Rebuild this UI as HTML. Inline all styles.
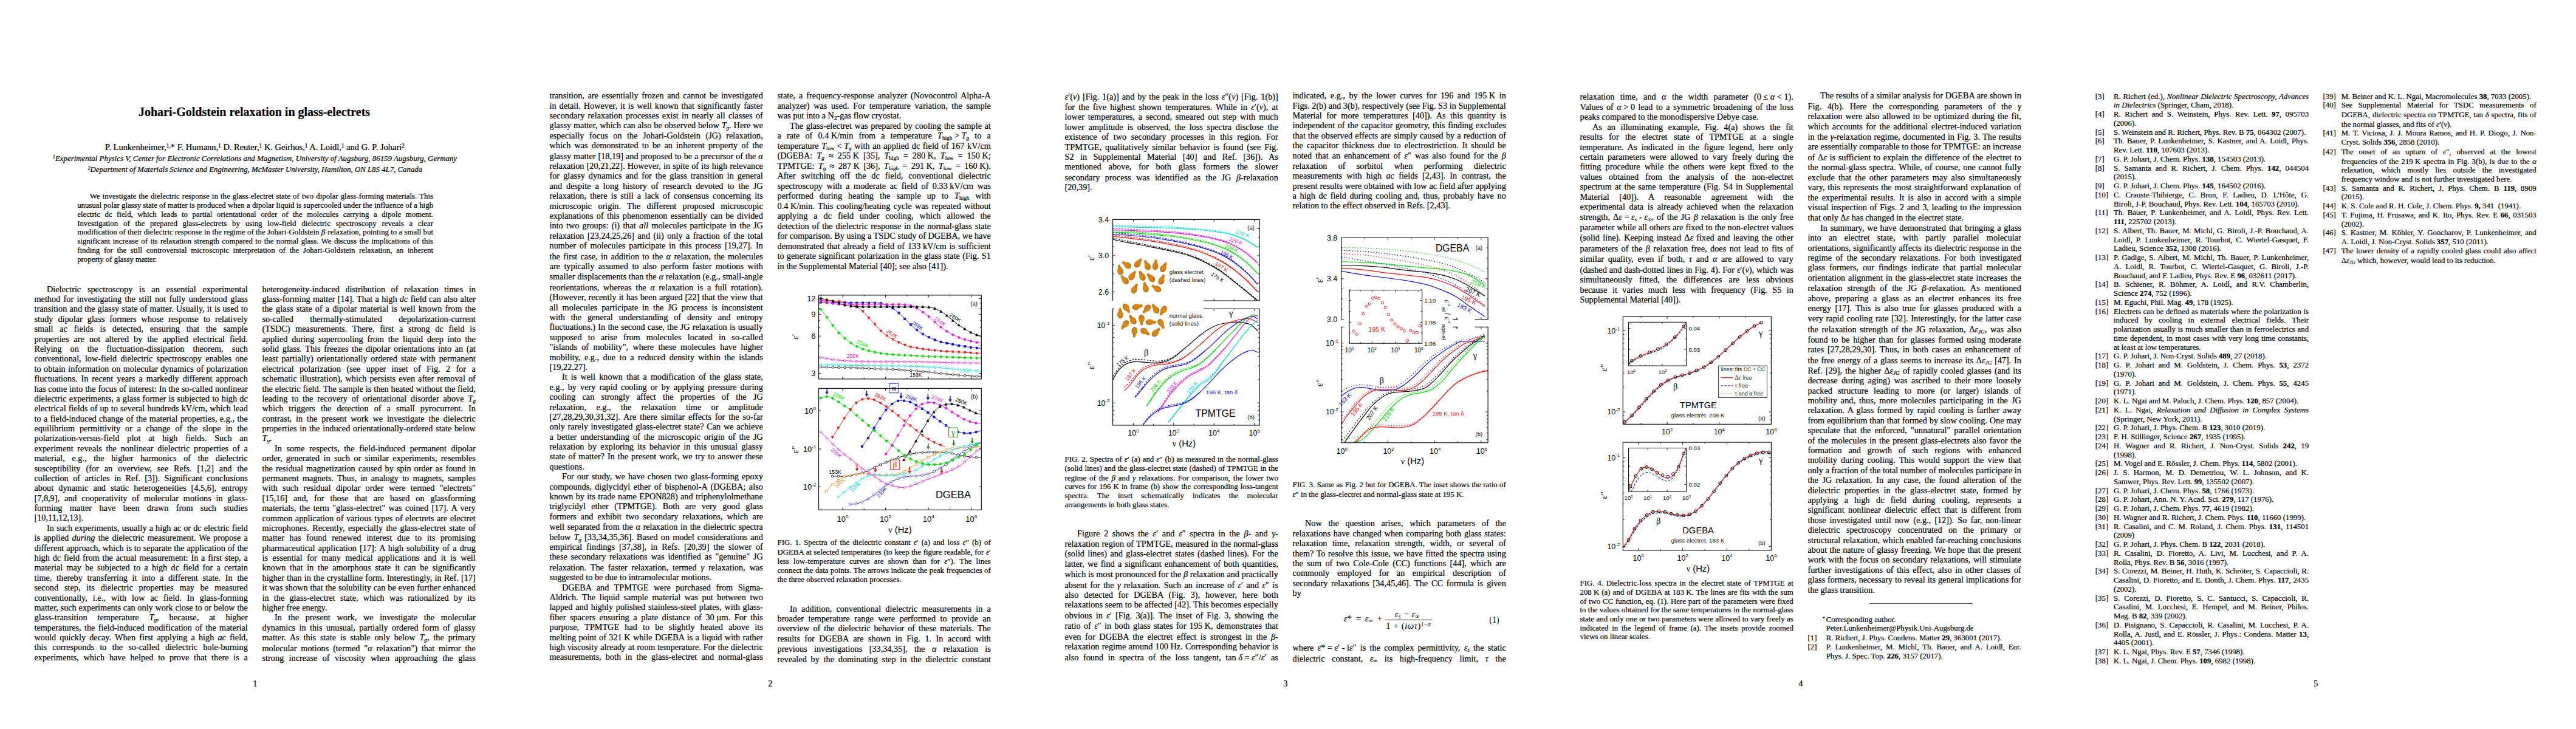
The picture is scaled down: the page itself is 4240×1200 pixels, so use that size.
<!DOCTYPE html>
<html lang="en"><head><meta charset="utf-8"><title>Johari-Goldstein relaxation in glass-electrets</title>
<style>
html,body{margin:0;padding:0;background:#fff;}
body{width:4240px;height:1200px;position:relative;overflow:hidden;font-family:"Liberation Serif",serif;color:#000;}
.l{position:absolute;white-space:pre;line-height:16px;height:16px;-webkit-text-stroke:0.2px #000;}
.c{transform:translateX(-50%);}
sub,sup{line-height:0;font-size:65%;}
sub{vertical-align:-0.22em;}
sup{vertical-align:0.42em;}
i sub{font-style:italic;}
.n{word-spacing:0;}
svg{position:absolute;left:0;top:0;}
svg text{font-family:"Liberation Sans",sans-serif;}
svg .s{font-family:"Liberation Serif",serif;}
.eq{position:absolute;white-space:pre;line-height:16px;height:16px;font-style:italic;}
</style></head>
<body>
<div class="l c" id="L0" style="left:418.50px;top:176.00px;font-size:20.02px;font-weight:bold;">Johari-Goldstein relaxation in glass-electrets</div>
<div class="l c" id="L1" style="left:419.45px;top:234.00px;font-size:14.45px;">P. Lunkenheimer,<sup>1,</sup>* F. Humann,<sup>1</sup> D. Reuter,<sup>1</sup> K. Geirhos,<sup>1</sup> A. Loidl,<sup>1</sup> and G. P. Johari<sup>2</sup></div>
<div class="l c" id="L2" style="left:419.40px;top:253.00px;font-size:12.90px;font-style:italic;"><sup>1</sup>Experimental Physics V, Center for Electronic Correlations and Magnetism, University of Augsburg, 86159 Augsburg, Germany</div>
<div class="l c" id="L3" style="left:419.80px;top:271.00px;font-size:12.83px;font-style:italic;"><sup>2</sup>Department of Materials Science and Engineering, McMaster University, Hamilton, ON L8S 4L7, Canada</div>
<div class="l" id="L4" style="left:147.70px;top:315.00px;font-size:12.83px;word-spacing:0.902px;">We investigate the dielectric response in the glass-electret state of two dipolar glass-forming materials. This</div>
<div class="l" id="L5" style="left:127.20px;top:330.00px;font-size:12.83px;word-spacing:0.063px;">unusual polar glassy state of matter is produced when a dipolar liquid is supercooled under the influence of a high</div>
<div class="l" id="L6" style="left:127.20px;top:345.00px;font-size:12.83px;word-spacing:4.312px;">electric dc field, which leads to partial orientational order of the molecules carrying a dipole moment.</div>
<div class="l" id="L7" style="left:127.20px;top:360.00px;font-size:12.83px;word-spacing:5.598px;">Investigation of the prepared glass-electrets by using low-field dielectric spectroscopy reveals a clear</div>
<div class="l" id="L8" style="left:127.20px;top:374.00px;font-size:12.83px;word-spacing:0.076px;">modification of their dielectric response in the regime of the Johari-Goldstein <i>β</i>-relaxation, pointing to a small but</div>
<div class="l" id="L9" style="left:127.20px;top:389.00px;font-size:12.83px;word-spacing:1.222px;">significant increase of its relaxation strength compared to the normal glass. We discuss the implications of this</div>
<div class="l" id="L10" style="left:127.20px;top:404.00px;font-size:12.83px;word-spacing:3.426px;">finding for the still controversial microscopic interpretation of the Johari-Goldstein relaxation, an inherent</div>
<div class="l" id="L11" style="left:127.20px;top:419.00px;font-size:12.83px;">property of glassy matter.</div>
<div class="l" id="L12" style="left:77.00px;top:468.00px;font-size:14.25px;word-spacing:7.201px;">Dielectric spectroscopy is an essential experimental</div>
<div class="l" id="L13" style="left:56.50px;top:484.00px;font-size:14.25px;word-spacing:1.760px;">method for investigating the still not fully understood glass</div>
<div class="l" id="L14" style="left:56.50px;top:500.00px;font-size:14.25px;word-spacing:0.539px;">transition and the glassy state of matter. Usually, it is used to</div>
<div class="l" id="L15" style="left:56.50px;top:517.00px;font-size:14.25px;word-spacing:4.447px;">study dipolar glass formers whose response to relatively</div>
<div class="l" id="L16" style="left:56.50px;top:533.00px;font-size:14.25px;word-spacing:7.358px;">small ac fields is detected, ensuring that the sample</div>
<div class="l" id="L17" style="left:56.50px;top:550.00px;font-size:14.25px;word-spacing:4.495px;">properties are not altered by the applied electrical field.</div>
<div class="l" id="L18" style="left:56.50px;top:566.00px;font-size:14.25px;word-spacing:10.419px;">Relying on the fluctuation-dissipation theorem, such</div>
<div class="l" id="L19" style="left:56.50px;top:582.00px;font-size:14.25px;word-spacing:2.676px;">conventional, low-field dielectric spectroscopy enables one</div>
<div class="l" id="L20" style="left:56.50px;top:599.00px;font-size:14.25px;word-spacing:0.945px;">to obtain information on molecular dynamics of polarization</div>
<div class="l" id="L21" style="left:56.50px;top:615.00px;font-size:14.25px;word-spacing:2.518px;">fluctuations. In recent years a markedly different approach</div>
<div class="l" id="L22" style="left:56.50px;top:632.00px;font-size:14.25px;word-spacing:0.307px;">has come into the focus of interest: In the so-called nonlinear</div>
<div class="l" id="L23" style="left:56.50px;top:648.00px;font-size:14.25px;word-spacing:0.693px;">dielectric experiments, a glass former is subjected to high dc</div>
<div class="l" id="L24" style="left:56.50px;top:664.00px;font-size:14.25px;word-spacing:0.518px;">electrical fields of up to several hundreds kV/cm, which lead</div>
<div class="l" id="L25" style="left:56.50px;top:681.00px;font-size:14.25px;word-spacing:0.828px;">to a field-induced change of the material properties, e.g., the</div>
<div class="l" id="L26" style="left:56.50px;top:697.00px;font-size:14.25px;word-spacing:4.341px;">equilibrium permittivity or a change of the slope in the</div>
<div class="l" id="L27" style="left:56.50px;top:713.00px;font-size:14.25px;word-spacing:9.149px;">polarization-versus-field plot at high fields. Such an</div>
<div class="l" id="L28" style="left:56.50px;top:730.00px;font-size:14.25px;word-spacing:3.215px;">experiment reveals the nonlinear dielectric properties of a</div>
<div class="l" id="L29" style="left:56.50px;top:746.00px;font-size:14.25px;word-spacing:8.074px;">material, e.g., the higher harmonics of the dielectric</div>
<div class="l" id="L30" style="left:56.50px;top:763.00px;font-size:14.25px;word-spacing:5.395px;">susceptibility (for an overview, see Refs. [1,2] and the</div>
<div class="l" id="L31" style="left:56.50px;top:779.00px;font-size:14.25px;word-spacing:3.884px;">collection of articles in Ref. [3]). Significant conclusions</div>
<div class="l" id="L32" style="left:56.50px;top:795.00px;font-size:14.25px;word-spacing:4.534px;">about dynamic and static heterogeneities [4,5,6], entropy</div>
<div class="l" id="L33" style="left:56.50px;top:812.00px;font-size:14.25px;word-spacing:4.279px;">[7,8,9], and cooperativity of molecular motions in glass-</div>
<div class="l" id="L34" style="left:56.50px;top:828.00px;font-size:14.25px;word-spacing:8.748px;">forming matter have been drawn from such studies</div>
<div class="l" id="L35" style="left:56.50px;top:844.00px;font-size:14.25px;">[10,11,12,13].</div>
<div class="l" id="L36" style="left:77.00px;top:861.00px;font-size:14.25px;word-spacing:0.514px;">In such experiments, usually a high ac or dc electric field</div>
<div class="l" id="L37" style="left:56.50px;top:877.00px;font-size:14.25px;word-spacing:1.696px;">is applied <i>during</i> the dielectric measurement. We propose a</div>
<div class="l" id="L38" style="left:56.50px;top:894.00px;font-size:14.25px;word-spacing:0.285px;">different approach, which is to separate the application of the</div>
<div class="l" id="L39" style="left:56.50px;top:910.00px;font-size:14.25px;word-spacing:1.287px;">high dc field from the actual measurement: In a first step, a</div>
<div class="l" id="L40" style="left:56.50px;top:926.00px;font-size:14.25px;word-spacing:2.692px;">material may be subjected to a high dc field for a certain</div>
<div class="l" id="L41" style="left:56.50px;top:943.00px;font-size:14.25px;word-spacing:4.108px;">time, thereby transferring it into a different state. In the</div>
<div class="l" id="L42" style="left:56.50px;top:959.00px;font-size:14.25px;word-spacing:6.320px;">second step, its dielectric properties may be measured</div>
<div class="l" id="L43" style="left:56.50px;top:976.00px;font-size:14.25px;word-spacing:5.429px;">conventionally, i.e., with low ac field. In glass-forming</div>
<div class="l" id="L44" style="left:56.50px;top:992.00px;font-size:14.25px;word-spacing:0.166px;">matter, such experiments can only work close to or below the</div>
<div class="l" id="L45" style="left:56.50px;top:1008.00px;font-size:14.25px;word-spacing:13.376px;">glass-transition temperature <i>T<sub>g</sub></i>, because, at higher</div>
<div class="l" id="L46" style="left:56.50px;top:1025.00px;font-size:14.25px;word-spacing:1.769px;">temperatures, the field-induced modification of the material</div>
<div class="l" id="L47" style="left:56.50px;top:1041.00px;font-size:14.25px;word-spacing:2.624px;">would quickly decay. When first applying a high <i>ac</i> field,</div>
<div class="l" id="L48" style="left:56.50px;top:1057.00px;font-size:14.25px;word-spacing:5.654px;">this corresponds to the so-called dielectric hole-burning</div>
<div class="l" id="L49" style="left:56.50px;top:1074.00px;font-size:14.25px;word-spacing:4.124px;">experiments, which have helped to prove that there is a</div>
<div class="l" id="L50" style="left:431.50px;top:468.00px;font-size:14.25px;word-spacing:5.913px;">heterogeneity-induced distribution of relaxation times in</div>
<div class="l" id="L51" style="left:431.50px;top:484.00px;font-size:14.25px;word-spacing:0.769px;">glass-forming matter [14]. That a high <i>dc</i> field can also alter</div>
<div class="l" id="L52" style="left:431.50px;top:500.00px;font-size:14.25px;word-spacing:1.537px;">the glass state of a dipolar material is well known from the</div>
<div class="l" id="L53" style="left:431.50px;top:517.00px;font-size:14.25px;word-spacing:23.705px;">so-called thermally-stimulated depolarization-current</div>
<div class="l" id="L54" style="left:431.50px;top:533.00px;font-size:14.25px;word-spacing:5.163px;">(TSDC) measurements. There, first a strong dc field is</div>
<div class="l" id="L55" style="left:431.50px;top:550.00px;font-size:14.25px;word-spacing:3.149px;">applied during supercooling from the liquid deep into the</div>
<div class="l" id="L56" style="left:431.50px;top:566.00px;font-size:14.25px;word-spacing:2.039px;">solid glass. This freezes the dipolar orientations into an (at</div>
<div class="l" id="L57" style="left:431.50px;top:582.00px;font-size:14.25px;word-spacing:2.230px;">least partially) orientationally ordered state with permanent</div>
<div class="l" id="L58" style="left:431.50px;top:599.00px;font-size:14.25px;word-spacing:5.795px;">electrical polarization (see upper inset of Fig. 2 for a</div>
<div class="l" id="L59" style="left:431.50px;top:615.00px;font-size:14.25px;word-spacing:1.456px;">schematic illustration), which persists even after removal of</div>
<div class="l" id="L60" style="left:431.50px;top:632.00px;font-size:14.25px;word-spacing:0.255px;">the electric field. The sample is then heated without the field,</div>
<div class="l" id="L61" style="left:431.50px;top:648.00px;font-size:14.25px;word-spacing:3.168px;">leading to the recovery of orientational disorder above <i>T<sub>g</sub></i></div>
<div class="l" id="L62" style="left:431.50px;top:664.00px;font-size:14.25px;word-spacing:5.479px;">which triggers the detection of a small pyrocurrent. In</div>
<div class="l" id="L63" style="left:431.50px;top:681.00px;font-size:14.25px;word-spacing:3.303px;">contrast, in the present work we investigate the dielectric</div>
<div class="l" id="L64" style="left:431.50px;top:697.00px;font-size:14.25px;word-spacing:1.172px;">properties in the induced orientationally-ordered state below</div>
<div class="l" id="L65" style="left:431.50px;top:713.00px;font-size:14.25px;"><i>T<sub>g</sub></i>.</div>
<div class="l" id="L66" style="left:452.00px;top:730.00px;font-size:14.25px;word-spacing:4.021px;">In some respects, the field-induced permanent dipolar</div>
<div class="l" id="L67" style="left:431.50px;top:746.00px;font-size:14.25px;word-spacing:2.726px;">order, generated in such or similar experiments, resembles</div>
<div class="l" id="L68" style="left:431.50px;top:763.00px;font-size:14.25px;word-spacing:1.440px;">the residual magnetization caused by spin order as found in</div>
<div class="l" id="L69" style="left:431.50px;top:779.00px;font-size:14.25px;word-spacing:2.733px;">permanent magnets. Thus, in analogy to magnets, samples</div>
<div class="l" id="L70" style="left:431.50px;top:795.00px;font-size:14.25px;word-spacing:4.717px;">with such residual dipolar order were termed "electrets"</div>
<div class="l" id="L71" style="left:431.50px;top:812.00px;font-size:14.25px;word-spacing:6.317px;">[15,16] and, for those that are based on glassforming</div>
<div class="l" id="L72" style="left:431.50px;top:828.00px;font-size:14.25px;word-spacing:1.899px;">materials, the term "glass-electret" was coined [17]. A very</div>
<div class="l" id="L73" style="left:431.50px;top:845.00px;font-size:14.25px;word-spacing:0.883px;">common application of various types of electrets are electret</div>
<div class="l" id="L74" style="left:431.50px;top:861.00px;font-size:14.25px;word-spacing:1.988px;">microphones. Recently, especially the glass-electret state of</div>
<div class="l" id="L75" style="left:431.50px;top:877.00px;font-size:14.25px;word-spacing:5.129px;">matter has found renewed interest due to its promising</div>
<div class="l" id="L76" style="left:431.50px;top:894.00px;font-size:14.25px;word-spacing:1.567px;">pharmaceutical application [17]: A high solubility of a drug</div>
<div class="l" id="L77" style="left:431.50px;top:910.00px;font-size:14.25px;word-spacing:3.988px;">is essential for many medical applications and it is well</div>
<div class="l" id="L78" style="left:431.50px;top:926.00px;font-size:14.25px;word-spacing:3.195px;">known that in the amorphous state it can be significantly</div>
<div class="l" id="L79" style="left:431.50px;top:943.00px;font-size:14.25px;word-spacing:0.618px;">higher than in the crystalline form. Interestingly, in Ref. [17]</div>
<div class="l" id="L80" style="left:431.50px;top:959.00px;font-size:14.25px;word-spacing:0.307px;">it was shown that the solubility can be even further enhanced</div>
<div class="l" id="L81" style="left:431.50px;top:976.00px;font-size:14.25px;word-spacing:4.688px;">in the glass-electret state, which was rationalized by its</div>
<div class="l" id="L82" style="left:431.50px;top:992.00px;font-size:14.25px;">higher free energy.</div>
<div class="l" id="L83" style="left:452.00px;top:1008.00px;font-size:14.25px;word-spacing:7.121px;">In the present work, we investigate the molecular</div>
<div class="l" id="L84" style="left:431.50px;top:1025.00px;font-size:14.25px;word-spacing:2.803px;">dynamics in this unusual, partially ordered form of glassy</div>
<div class="l" id="L85" style="left:431.50px;top:1041.00px;font-size:14.25px;word-spacing:3.319px;">matter. As this state is stable only below <i>T<sub>g</sub></i>, the primary</div>
<div class="l" id="L86" style="left:431.50px;top:1059.00px;font-size:14.25px;word-spacing:3.304px;">molecular motions (termed "<i>α</i> relaxation") that mirror the</div>
<div class="l" id="L87" style="left:431.50px;top:1075.00px;font-size:14.25px;word-spacing:4.902px;">strong increase of viscosity when approaching the glass</div>
<div class="l c" id="L88" style="left:419.70px;top:1117.00px;font-size:14.25px;">1</div>
<div class="l" id="L89" style="left:904.50px;top:149.00px;font-size:14.25px;word-spacing:2.023px;">transition, are essentially frozen and cannot be investigated</div>
<div class="l" id="L90" style="left:904.50px;top:166.00px;font-size:14.25px;word-spacing:1.414px;">in detail. However, it is well known that significantly faster</div>
<div class="l" id="L91" style="left:904.50px;top:182.00px;font-size:14.25px;word-spacing:1.770px;">secondary relaxation processes exist in nearly all classes of</div>
<div class="l" id="L92" style="left:904.50px;top:198.00px;font-size:14.25px;word-spacing:0.294px;">glassy matter, which can also be observed below <i>T<sub>g</sub></i>. Here we</div>
<div class="l" id="L93" style="left:904.50px;top:215.00px;font-size:14.25px;word-spacing:4.930px;">especially focus on the Johari-Goldstein (JG) relaxation,</div>
<div class="l" id="L94" style="left:904.50px;top:231.00px;font-size:14.25px;word-spacing:2.584px;">which was demonstrated to be an inherent property of the</div>
<div class="l" id="L95" style="left:904.50px;top:249.00px;font-size:14.25px;word-spacing:0.389px;">glassy matter [18,19] and proposed to be a precursor of the <i>α</i></div>
<div class="l" id="L96" style="left:904.50px;top:265.00px;font-size:14.25px;word-spacing:0.553px;">relaxation [20,21,22]. However, in spite of its high relevance</div>
<div class="l" id="L97" style="left:904.50px;top:281.00px;font-size:14.25px;word-spacing:2.493px;">for glassy dynamics and for the glass transition in general</div>
<div class="l" id="L98" style="left:904.50px;top:298.00px;font-size:14.25px;word-spacing:3.472px;">and despite a long history of research devoted to the JG</div>
<div class="l" id="L99" style="left:904.50px;top:314.00px;font-size:14.25px;word-spacing:2.539px;">relaxation, there is still a lack of consensus concerning its</div>
<div class="l" id="L100" style="left:904.50px;top:331.00px;font-size:14.25px;word-spacing:6.732px;">microscopic origin. The different proposed microscopic</div>
<div class="l" id="L101" style="left:904.50px;top:347.00px;font-size:14.25px;word-spacing:1.735px;">explanations of this phenomenon essentially can be divided</div>
<div class="l" id="L102" style="left:904.50px;top:363.00px;font-size:14.25px;word-spacing:1.727px;">into two groups: (i) that <i>all</i> molecules participate in the JG</div>
<div class="l" id="L103" style="left:904.50px;top:380.00px;font-size:14.25px;word-spacing:1.835px;">relaxation [23,24,25,26] and (ii) only a fraction of the total</div>
<div class="l" id="L104" style="left:904.50px;top:396.00px;font-size:14.25px;word-spacing:2.262px;">number of molecules participate in this process [19,27]. In</div>
<div class="l" id="L105" style="left:904.50px;top:414.00px;font-size:14.25px;word-spacing:1.774px;">the first case, in addition to the <i>α</i> relaxation, the molecules</div>
<div class="l" id="L106" style="left:904.50px;top:430.00px;font-size:14.25px;word-spacing:2.954px;">are typically assumed to also perform faster motions with</div>
<div class="l" id="L107" style="left:904.50px;top:447.00px;font-size:14.25px;word-spacing:0.273px;">smaller displacements than the <i>α</i> relaxation (e.g., small-angle</div>
<div class="l" id="L108" style="left:904.50px;top:465.00px;font-size:14.25px;word-spacing:3.010px;">reorientations, whereas the <i>α</i> relaxation is a full rotation).</div>
<div class="l" id="L109" style="left:904.50px;top:481.00px;font-size:14.25px;word-spacing:0.591px;">(However, recently it has been argued [22] that the view that</div>
<div class="l" id="L110" style="left:904.50px;top:498.00px;font-size:14.25px;word-spacing:3.250px;">all molecules participate in the JG process is inconsistent</div>
<div class="l" id="L111" style="left:904.50px;top:514.00px;font-size:14.25px;word-spacing:6.259px;">with the general understanding of density and entropy</div>
<div class="l" id="L112" style="left:904.50px;top:530.00px;font-size:14.25px;word-spacing:0.648px;">fluctuations.) In the second case, the JG relaxation is usually</div>
<div class="l" id="L113" style="left:904.50px;top:547.00px;font-size:14.25px;word-spacing:6.599px;">supposed to arise from molecules located in so-called</div>
<div class="l" id="L114" style="left:904.50px;top:563.00px;font-size:14.25px;word-spacing:3.748px;">"islands of mobility", where these molecules have higher</div>
<div class="l" id="L115" style="left:904.50px;top:580.00px;font-size:14.25px;word-spacing:2.945px;">mobility, e.g., due to a reduced density within the islands</div>
<div class="l" id="L116" style="left:904.50px;top:596.00px;font-size:14.25px;">[19,22,27].</div>
<div class="l" id="L117" style="left:925.00px;top:612.00px;font-size:14.25px;word-spacing:2.568px;">It is well known that a modification of the glass state,</div>
<div class="l" id="L118" style="left:904.50px;top:629.00px;font-size:14.25px;word-spacing:2.537px;">e.g., by very rapid cooling or by applying pressure during</div>
<div class="l" id="L119" style="left:904.50px;top:645.00px;font-size:14.25px;word-spacing:7.737px;">cooling can strongly affect the properties of the JG</div>
<div class="l" id="L120" style="left:904.50px;top:662.00px;font-size:14.25px;word-spacing:12.779px;">relaxation, e.g., the relaxation time or amplitude</div>
<div class="l" id="L121" style="left:904.50px;top:678.00px;font-size:14.25px;word-spacing:2.342px;">[27,28,29,30,31,32]. Are there similar effects for the so-far</div>
<div class="l" id="L122" style="left:904.50px;top:694.00px;font-size:14.25px;word-spacing:1.179px;">only rarely investigated glass-electret state? Can we achieve</div>
<div class="l" id="L123" style="left:904.50px;top:711.00px;font-size:14.25px;word-spacing:2.407px;">a better understanding of the microscopic origin of the JG</div>
<div class="l" id="L124" style="left:904.50px;top:727.00px;font-size:14.25px;word-spacing:2.752px;">relaxation by exploring its behavior in this unusual glassy</div>
<div class="l" id="L125" style="left:904.50px;top:743.00px;font-size:14.25px;word-spacing:1.360px;">state of matter? In the present work, we try to answer these</div>
<div class="l" id="L126" style="left:904.50px;top:760.00px;font-size:14.25px;">questions.</div>
<div class="l" id="L127" style="left:925.00px;top:776.00px;font-size:14.25px;word-spacing:1.444px;">For our study, we have chosen two glass-forming epoxy</div>
<div class="l" id="L128" style="left:904.50px;top:793.00px;font-size:14.25px;word-spacing:2.019px;">compounds, diglycidyl ether of bisphenol-A (DGEBA; also</div>
<div class="l" id="L129" style="left:904.50px;top:809.00px;font-size:14.25px;word-spacing:0.829px;">known by its trade name EPON828) and triphenylolmethane</div>
<div class="l" id="L130" style="left:904.50px;top:825.00px;font-size:14.25px;word-spacing:5.862px;">triglycidyl ether (TPMTGE). Both are very good glass</div>
<div class="l" id="L131" style="left:904.50px;top:842.00px;font-size:14.25px;word-spacing:3.492px;">formers and exhibit two secondary relaxations, which are</div>
<div class="l" id="L132" style="left:904.50px;top:859.00px;font-size:14.25px;word-spacing:1.052px;">well separated from the <i>α</i> relaxation in the dielectric spectra</div>
<div class="l" id="L133" style="left:904.50px;top:876.00px;font-size:14.25px;word-spacing:1.521px;">below <i>T<sub>g</sub></i> [33,34,35,36]. Based on model considerations and</div>
<div class="l" id="L134" style="left:904.50px;top:892.00px;font-size:14.25px;word-spacing:3.446px;">empirical findings [37,38], in Refs. [20,39] the slower of</div>
<div class="l" id="L135" style="left:904.50px;top:908.00px;font-size:14.25px;word-spacing:2.226px;">these secondary relaxations was identified as "genuine" JG</div>
<div class="l" id="L136" style="left:904.50px;top:926.00px;font-size:14.25px;word-spacing:3.407px;">relaxation. The faster relaxation, termed <i>γ</i> relaxation, was</div>
<div class="l" id="L137" style="left:904.50px;top:942.00px;font-size:14.25px;">suggested to be due to intramolecular motions.</div>
<div class="l" id="L138" style="left:925.00px;top:959.00px;font-size:14.25px;word-spacing:4.915px;">DGEBA and TPMTGE were purchased from Sigma-</div>
<div class="l" id="L139" style="left:904.50px;top:975.00px;font-size:14.25px;word-spacing:3.036px;">Aldrich. The liquid sample material was put between two</div>
<div class="l" id="L140" style="left:904.50px;top:991.00px;font-size:14.25px;word-spacing:1.224px;">lapped and highly polished stainless-steel plates, with glass-</div>
<div class="l" id="L141" style="left:904.50px;top:1008.00px;font-size:14.25px;word-spacing:3.075px;">fiber spacers ensuring a plate distance of 30<span class="n"> </span>µm. For this</div>
<div class="l" id="L142" style="left:904.50px;top:1024.00px;font-size:14.25px;word-spacing:5.604px;">purpose, TPMTGE had to be slightly heated above its</div>
<div class="l" id="L143" style="left:904.50px;top:1041.00px;font-size:14.25px;word-spacing:0.814px;">melting point of 321<span class="n"> </span>K while DGEBA is a liquid with rather</div>
<div class="l" id="L144" style="left:904.50px;top:1057.00px;font-size:14.25px;word-spacing:0.334px;">high viscosity already at room temperature. For the dielectric</div>
<div class="l" id="L145" style="left:904.50px;top:1073.00px;font-size:14.25px;word-spacing:3.610px;">measurements, both in the glass-electret and normal-glass</div>
<div class="l" id="L146" style="left:1279.50px;top:149.00px;font-size:14.25px;word-spacing:2.360px;">state, a frequency-response analyzer (Novocontrol Alpha-A</div>
<div class="l" id="L147" style="left:1279.50px;top:166.00px;font-size:14.25px;word-spacing:3.099px;">analyzer) was used. For temperature variation, the sample</div>
<div class="l" id="L148" style="left:1279.50px;top:182.00px;font-size:14.25px;">was put into a N<sub>2</sub>-gas flow cryostat.</div>
<div class="l" id="L149" style="left:1300.00px;top:199.00px;font-size:14.25px;word-spacing:0.991px;">The glass-electret was prepared by cooling the sample at</div>
<div class="l" id="L150" style="left:1279.50px;top:215.00px;font-size:14.25px;word-spacing:5.584px;">a rate of 0.4<span class="n"> </span>K/min from a temperature <i>T</i><sub>high</sub><span class="n"> </span>&gt;<span class="n"> </span><i>T<sub>g</sub></i> to a</div>
<div class="l" id="L151" style="left:1279.50px;top:232.00px;font-size:14.25px;word-spacing:1.035px;">temperature <i>T</i><sub>low</sub><span class="n"> </span>&lt;<span class="n"> </span><i>T<sub>g</sub></i> with an applied dc field of 167 kV/cm</div>
<div class="l" id="L152" style="left:1279.50px;top:248.00px;font-size:14.25px;word-spacing:3.466px;">(DGEBA: <i>T<sub>g</sub></i> ≈ 255<span class="n"> </span>K [35], <i>T</i><sub>high</sub> = 280<span class="n"> </span>K, <i>T</i><sub>low</sub> = 150<span class="n"> </span>K;</div>
<div class="l" id="L153" style="left:1279.50px;top:265.00px;font-size:14.25px;word-spacing:2.713px;">TPMTGE: <i>T<sub>g</sub></i> ≈ 287<span class="n"> </span>K [36], <i>T</i><sub>high</sub> = 291<span class="n"> </span>K, <i>T</i><sub>low</sub> = 160<span class="n"> </span>K).</div>
<div class="l" id="L154" style="left:1279.50px;top:281.00px;font-size:14.25px;word-spacing:5.340px;">After switching off the dc field, conventional dielectric</div>
<div class="l" id="L155" style="left:1279.50px;top:298.00px;font-size:14.25px;word-spacing:2.955px;">spectroscopy with a moderate ac field of 0.33<span class="n"> </span>kV/cm was</div>
<div class="l" id="L156" style="left:1279.50px;top:314.00px;font-size:14.25px;word-spacing:6.432px;">performed during heating the sample up to <i>T</i><sub>high</sub> with</div>
<div class="l" id="L157" style="left:1279.50px;top:331.00px;font-size:14.25px;word-spacing:1.803px;">0.4<span class="n"> </span>K/min. This cooling/heating cycle was repeated without</div>
<div class="l" id="L158" style="left:1279.50px;top:347.00px;font-size:14.25px;word-spacing:6.368px;">applying a dc field under cooling, which allowed the</div>
<div class="l" id="L159" style="left:1279.50px;top:364.00px;font-size:14.25px;word-spacing:1.276px;">detection of the dielectric response in the normal-glass state</div>
<div class="l" id="L160" style="left:1279.50px;top:380.00px;font-size:14.25px;word-spacing:0.010px;">for comparison. By using a TSDC study of DGEBA, we have</div>
<div class="l" id="L161" style="left:1279.50px;top:397.00px;font-size:14.25px;word-spacing:1.454px;">demonstrated that already a field of 133<span class="n"> </span>kV/cm is sufficient</div>
<div class="l" id="L162" style="left:1279.50px;top:413.00px;font-size:14.25px;word-spacing:0.690px;">to generate significant polarization in the glass state (Fig. S1</div>
<div class="l" id="L163" style="left:1279.50px;top:430.00px;font-size:14.25px;">in the Supplemental Material [40]; see also [41]).</div>
<div class="l" id="L164" style="left:1279.50px;top:885.00px;font-size:12.83px;word-spacing:1.858px;">FIG. 1. Spectra of the dielectric constant <i>ε</i>′ (a) and loss <i>ε</i>″ (b) of</div>
<div class="l" id="L165" style="left:1279.50px;top:901.00px;font-size:12.83px;word-spacing:0.469px;">DGEBA at selected temperatures (to keep the figure readable, for <i>ε</i>′</div>
<div class="l" id="L166" style="left:1279.50px;top:916.00px;font-size:12.83px;word-spacing:4.075px;">less low-temperature curves are shown than for <i>ε</i>″). The lines</div>
<div class="l" id="L167" style="left:1279.50px;top:931.00px;font-size:12.83px;word-spacing:0.282px;">connect the data points. The arrows indicate the peak frequencies of</div>
<div class="l" id="L168" style="left:1279.50px;top:946.00px;font-size:12.83px;">the three observed relaxation processes.</div>
<div class="l" id="L169" style="left:1300.00px;top:994.00px;font-size:14.25px;word-spacing:3.626px;">In addition, conventional dielectric measurements in a</div>
<div class="l" id="L170" style="left:1279.50px;top:1010.00px;font-size:14.25px;word-spacing:4.009px;">broader temperature range were performed to provide an</div>
<div class="l" id="L171" style="left:1279.50px;top:1026.00px;font-size:14.25px;word-spacing:2.350px;">overview of the dielectric behavior of these materials. The</div>
<div class="l" id="L172" style="left:1279.50px;top:1043.00px;font-size:14.25px;word-spacing:3.943px;">results for DGEBA are shown in Fig. 1. In accord with</div>
<div class="l" id="L173" style="left:1279.50px;top:1060.00px;font-size:14.25px;word-spacing:7.896px;">previous investigations [33,34,35], the <i>α</i> relaxation is</div>
<div class="l" id="L174" style="left:1279.50px;top:1077.00px;font-size:14.25px;word-spacing:3.252px;">revealed by the dominating step in the dielectric constant</div>
<div class="l c" id="L175" style="left:1267.70px;top:1117.00px;font-size:14.25px;">2</div>
<div class="l" id="L176" style="left:1752.50px;top:151.00px;font-size:14.25px;word-spacing:1.330px;"><i>ε</i>′(<i>ν</i>) [Fig. 1(a)] and by the peak in the loss <i>ε</i>″(<i>ν</i>) [Fig. 1(b)]</div>
<div class="l" id="L177" style="left:1752.50px;top:168.00px;font-size:14.25px;word-spacing:2.606px;">for the five highest shown temperatures. While in <i>ε</i>′(<i>ν</i>), at</div>
<div class="l" id="L178" style="left:1752.50px;top:184.00px;font-size:14.25px;word-spacing:2.264px;">lower temperatures, a second, smeared out step with much</div>
<div class="l" id="L179" style="left:1752.50px;top:201.00px;font-size:14.25px;word-spacing:3.200px;">lower amplitude is observed, the loss spectra disclose the</div>
<div class="l" id="L180" style="left:1752.50px;top:217.00px;font-size:14.25px;word-spacing:4.090px;">existence of two secondary processes in this region. For</div>
<div class="l" id="L181" style="left:1752.50px;top:234.00px;font-size:14.25px;word-spacing:2.409px;">TPMTGE, qualitatively similar behavior is found (see Fig.</div>
<div class="l" id="L182" style="left:1752.50px;top:250.00px;font-size:14.25px;word-spacing:6.809px;">S2 in Supplemental Material [40] and Ref. [36]). As</div>
<div class="l" id="L183" style="left:1752.50px;top:266.00px;font-size:14.25px;word-spacing:8.351px;">mentioned above, for both glass formers the slower</div>
<div class="l" id="L184" style="left:1752.50px;top:284.00px;font-size:14.25px;word-spacing:5.021px;">secondary process was identified as the JG <i>β</i>-relaxation</div>
<div class="l" id="L185" style="left:1752.50px;top:300.00px;font-size:14.25px;">[20,39].</div>
<div class="l" id="L186" style="left:1752.50px;top:748.00px;font-size:12.83px;word-spacing:0.708px;">FIG. 2. Spectra of <i>ε</i>′ (a) and <i>ε</i>″ (b) as measured in the normal-glass</div>
<div class="l" id="L187" style="left:1752.50px;top:763.00px;font-size:12.83px;word-spacing:0.455px;">(solid lines) and the glass-electret state (dashed) of TPMTGE in the</div>
<div class="l" id="L188" style="left:1752.50px;top:779.00px;font-size:12.83px;word-spacing:1.779px;">regime of the <i>β</i> and <i>γ</i> relaxations. For comparison, the lower two</div>
<div class="l" id="L189" style="left:1752.50px;top:793.00px;font-size:12.83px;word-spacing:0.930px;">curves for 196 K in frame (b) show the corresponding loss-tangent</div>
<div class="l" id="L190" style="left:1752.50px;top:808.00px;font-size:12.83px;word-spacing:10.917px;">spectra. The inset schematically indicates the molecular</div>
<div class="l" id="L191" style="left:1752.50px;top:823.00px;font-size:12.83px;">arrangements in both glass states.</div>
<div class="l" id="L192" style="left:1773.00px;top:870.00px;font-size:14.25px;word-spacing:3.177px;">Figure 2 shows the <i>ε</i>′ and <i>ε</i>″ spectra in the <i>β</i>- and <i>γ</i>-</div>
<div class="l" id="L193" style="left:1752.50px;top:887.00px;font-size:14.25px;word-spacing:0.585px;">relaxation region of TPMTGE, measured in the normal-glass</div>
<div class="l" id="L194" style="left:1752.50px;top:903.00px;font-size:14.25px;word-spacing:1.817px;">(solid lines) and glass-electret states (dashed lines). For the</div>
<div class="l" id="L195" style="left:1752.50px;top:920.00px;font-size:14.25px;word-spacing:1.643px;">latter, we find a significant enhancement of both quantities,</div>
<div class="l" id="L196" style="left:1752.50px;top:937.00px;font-size:14.25px;word-spacing:0.122px;">which is most pronounced for the <i>β</i> relaxation and practically</div>
<div class="l" id="L197" style="left:1752.50px;top:955.00px;font-size:14.25px;word-spacing:1.754px;">absent for the <i>γ</i> relaxation. Such an increase of <i>ε</i>′ and <i>ε</i>″ is</div>
<div class="l" id="L198" style="left:1752.50px;top:971.00px;font-size:14.25px;word-spacing:5.350px;">also detected for DGEBA (Fig. 3), however, here both</div>
<div class="l" id="L199" style="left:1752.50px;top:987.00px;font-size:14.25px;word-spacing:0.205px;">relaxations seem to be affected [42]. This becomes especially</div>
<div class="l" id="L200" style="left:1752.50px;top:1005.00px;font-size:14.25px;word-spacing:2.607px;">obvious in <i>ε</i>′ [Fig. 3(a)]. The inset of Fig. 3, showing the</div>
<div class="l" id="L201" style="left:1752.50px;top:1022.00px;font-size:14.25px;word-spacing:1.757px;">ratio of <i>ε</i>″ in both glass states for 195<span class="n"> </span>K, demonstrates that</div>
<div class="l" id="L202" style="left:1752.50px;top:1040.00px;font-size:14.25px;word-spacing:3.105px;">even for DGEBA the electret effect is strongest in the <i>β</i>-</div>
<div class="l" id="L203" style="left:1752.50px;top:1056.00px;font-size:14.25px;word-spacing:0.771px;">relaxation regime around 100<span class="n"> </span>Hz. Corresponding behavior is</div>
<div class="l" id="L204" style="left:1752.50px;top:1074.00px;font-size:14.25px;word-spacing:3.967px;">also found in spectra of the loss tangent, tan<span class="n"> </span><i>δ</i><span class="n"> </span>=<span class="n"> </span><i>ε</i>″/<i>ε</i>′ as</div>
<div class="l" id="L205" style="left:2127.50px;top:149.00px;font-size:14.25px;word-spacing:2.957px;">indicated, e.g., by the lower curves for 196 and 195<span class="n"> </span>K in</div>
<div class="l" id="L206" style="left:2127.50px;top:166.00px;font-size:14.25px;word-spacing:0.072px;">Figs. 2(b) and 3(b), respectively (see Fig. S3 in Supplemental</div>
<div class="l" id="L207" style="left:2127.50px;top:182.00px;font-size:14.25px;word-spacing:3.893px;">Material for more temperatures [40]). As this quantity is</div>
<div class="l" id="L208" style="left:2127.50px;top:198.00px;font-size:14.25px;word-spacing:1.023px;">independent of the capacitor geometry, this finding excludes</div>
<div class="l" id="L209" style="left:2127.50px;top:215.00px;font-size:14.25px;word-spacing:0.652px;">that the observed effects are simply caused by a reduction of</div>
<div class="l" id="L210" style="left:2127.50px;top:231.00px;font-size:14.25px;word-spacing:2.411px;">the capacitor thickness due to electrostriction. It should be</div>
<div class="l" id="L211" style="left:2127.50px;top:248.00px;font-size:14.25px;word-spacing:2.503px;">noted that an enhancement of <i>ε</i>″ was also found for the <i>β</i></div>
<div class="l" id="L212" style="left:2127.50px;top:265.00px;font-size:14.25px;word-spacing:14.623px;">relaxation of sorbitol when performing dielectric</div>
<div class="l" id="L213" style="left:2127.50px;top:281.00px;font-size:14.25px;word-spacing:3.694px;">measurements with high <i>ac</i> fields [2,43]. In contrast, the</div>
<div class="l" id="L214" style="left:2127.50px;top:298.00px;font-size:14.25px;word-spacing:0.297px;">present results were obtained with low ac field after applying</div>
<div class="l" id="L215" style="left:2127.50px;top:314.00px;font-size:14.25px;word-spacing:2.124px;">a high dc field during cooling and, thus, probably have no</div>
<div class="l" id="L216" style="left:2127.50px;top:330.00px;font-size:14.25px;">relation to the effect observed in Refs. [2,43].</div>
<div class="l" id="L217" style="left:2127.50px;top:790.00px;font-size:12.83px;word-spacing:0.168px;">FIG. 3. Same as Fig. 2 but for DGEBA. The inset shows the ratio of</div>
<div class="l" id="L218" style="left:2127.50px;top:806.00px;font-size:12.83px;"><i>ε</i>″ in the glass-electret and normal-glass state at 195<span class="n"> </span>K.</div>
<div class="l" id="L219" style="left:2148.00px;top:853.00px;font-size:14.25px;word-spacing:7.119px;">Now the question arises, which parameters of the</div>
<div class="l" id="L220" style="left:2127.50px;top:870.00px;font-size:14.25px;word-spacing:1.172px;">relaxations have changed when comparing both glass states:</div>
<div class="l" id="L221" style="left:2127.50px;top:886.00px;font-size:14.25px;word-spacing:4.849px;">relaxation time, relaxation strength, width, or several of</div>
<div class="l" id="L222" style="left:2127.50px;top:903.00px;font-size:14.25px;word-spacing:1.025px;">them? To resolve this issue, we have fitted the spectra using</div>
<div class="l" id="L223" style="left:2127.50px;top:919.00px;font-size:14.25px;word-spacing:2.799px;">the sum of two Cole-Cole (CC) functions [44], which are</div>
<div class="l" id="L224" style="left:2127.50px;top:935.00px;font-size:14.25px;word-spacing:8.951px;">commonly employed for an empirical description of</div>
<div class="l" id="L225" style="left:2127.50px;top:952.00px;font-size:14.25px;word-spacing:2.282px;">secondary relaxations [34,45,46]. The CC formula is given</div>
<div class="l" id="L226" style="left:2127.50px;top:968.00px;font-size:14.25px;">by</div>
<div class="l" id="L227" style="left:2127.50px;top:1058.00px;font-size:14.25px;word-spacing:2.661px;">where <i>ε</i>*<span class="n"> </span>=<span class="n"> </span><i>ε</i>′<span class="n"> </span>-<span class="n"> </span>i<i>ε</i>″ is the complex permittivity, <i>ε</i><sub><i>s</i></sub> the static</div>
<div class="l" id="L228" style="left:2127.50px;top:1076.00px;font-size:14.25px;word-spacing:8.076px;">dielectric constant, <i>ε</i><sub>∞</sub> its high-frequency limit, <i>τ</i> the</div>
<div class="l c" id="L229" style="left:2115.70px;top:1117.00px;font-size:14.25px;">3</div>
<div class="l" id="L230" style="left:2600.50px;top:151.00px;font-size:14.25px;word-spacing:5.813px;">relaxation time, and <i>α</i> the width parameter (0<span class="n"> </span>≤<span class="n"> </span><i>α</i><span class="n"> </span>&lt;<span class="n"> </span>1).</div>
<div class="l" id="L231" style="left:2600.50px;top:168.00px;font-size:14.25px;word-spacing:1.916px;">Values of <i>α</i><span class="n"> </span>&gt;<span class="n"> </span>0 lead to a symmetric broadening of the loss</div>
<div class="l" id="L232" style="left:2600.50px;top:184.00px;font-size:14.25px;">peaks compared to the monodispersive Debye case.</div>
<div class="l" id="L233" style="left:2621.00px;top:201.00px;font-size:14.25px;word-spacing:5.038px;">As an illuminating example, Fig. 4(a) shows the fit</div>
<div class="l" id="L234" style="left:2600.50px;top:217.00px;font-size:14.25px;word-spacing:6.745px;">results for the electret state of TPMTGE at a single</div>
<div class="l" id="L235" style="left:2600.50px;top:234.00px;font-size:14.25px;word-spacing:3.748px;">temperature. As indicated in the figure legend, here only</div>
<div class="l" id="L236" style="left:2600.50px;top:250.00px;font-size:14.25px;word-spacing:3.061px;">certain parameters were allowed to vary freely during the</div>
<div class="l" id="L237" style="left:2600.50px;top:266.00px;font-size:14.25px;word-spacing:3.728px;">fitting procedure while the others were kept fixed to the</div>
<div class="l" id="L238" style="left:2600.50px;top:283.00px;font-size:14.25px;word-spacing:7.507px;">values obtained from the analysis of the non-electret</div>
<div class="l" id="L239" style="left:2600.50px;top:299.00px;font-size:14.25px;word-spacing:1.717px;">spectrum at the same temperature (Fig. S4 in Supplemental</div>
<div class="l" id="L240" style="left:2600.50px;top:316.00px;font-size:14.25px;word-spacing:12.980px;">Material [40]). A reasonable agreement with the</div>
<div class="l" id="L241" style="left:2600.50px;top:332.00px;font-size:14.25px;word-spacing:2.989px;">experimental data is already achieved when the relaxation</div>
<div class="l" id="L242" style="left:2600.50px;top:349.00px;font-size:14.25px;word-spacing:1.572px;">strength, Δ<i>ε</i><span class="n"> </span>=<span class="n"> </span><i>ε</i><sub><i>s</i></sub><span class="n"> </span>-<span class="n"> </span><i>ε</i><sub>∞</sub>, of the JG <i>β</i> relaxation is the only free</div>
<div class="l" id="L243" style="left:2600.50px;top:366.00px;font-size:14.25px;word-spacing:0.214px;">parameter while all others are fixed to the non-electret values</div>
<div class="l" id="L244" style="left:2600.50px;top:383.00px;font-size:14.25px;word-spacing:1.686px;">(solid line). Keeping instead Δ<i>ε</i> fixed and leaving the other</div>
<div class="l" id="L245" style="left:2600.50px;top:401.00px;font-size:14.25px;word-spacing:1.936px;">parameters of the <i>β</i> relaxation free, does not lead to fits of</div>
<div class="l" id="L246" style="left:2600.50px;top:418.00px;font-size:14.25px;word-spacing:3.066px;">similar quality, even if both, <i>τ</i> and <i>α</i> are allowed to vary</div>
<div class="l" id="L247" style="left:2600.50px;top:436.00px;font-size:14.25px;word-spacing:0.336px;">(dashed and dash-dotted lines in Fig. 4). For <i>ε</i>′(<i>ν</i>), which was</div>
<div class="l" id="L248" style="left:2600.50px;top:452.00px;font-size:14.25px;word-spacing:7.610px;">simultaneously fitted, the differences are less obvious</div>
<div class="l" id="L249" style="left:2600.50px;top:469.00px;font-size:14.25px;word-spacing:4.823px;">because it varies much less with frequency (Fig. S5 in</div>
<div class="l" id="L250" style="left:2600.50px;top:485.00px;font-size:14.25px;">Supplemental Material [40]).</div>
<div class="l" id="L251" style="left:2600.50px;top:952.00px;font-size:12.83px;word-spacing:1.668px;">FIG. 4. Dielectric-loss spectra in the electret state of TPMTGE at</div>
<div class="l" id="L252" style="left:2600.50px;top:967.00px;font-size:12.83px;word-spacing:0.838px;">208<span class="n"> </span>K (a) and of DGEBA at 183<span class="n"> </span>K. The lines are fits with the sum</div>
<div class="l" id="L253" style="left:2600.50px;top:982.00px;font-size:12.83px;word-spacing:0.629px;">of two CC function, eq. (1). Here part of the parameters were fixed</div>
<div class="l" id="L254" style="left:2600.50px;top:996.00px;font-size:12.83px;word-spacing:0.149px;">to the values obtained for the same temperatures in the normal-glass</div>
<div class="l" id="L255" style="left:2600.50px;top:1011.00px;font-size:12.83px;word-spacing:0.364px;">state and only one or two parameters were allowed to vary freely as</div>
<div class="l" id="L256" style="left:2600.50px;top:1026.00px;font-size:12.83px;word-spacing:2.560px;">indicated in the legend of frame (a). The insets provide zoomed</div>
<div class="l" id="L257" style="left:2600.50px;top:1040.00px;font-size:12.83px;">views on linear scales.</div>
<div class="l" id="L258" style="left:2996.00px;top:149.00px;font-size:14.25px;word-spacing:0.152px;">The results of a similar analysis for DGEBA are shown in</div>
<div class="l" id="L259" style="left:2975.50px;top:167.00px;font-size:14.25px;word-spacing:6.112px;">Fig. 4(b). Here the corresponding parameters of the <i>γ</i></div>
<div class="l" id="L260" style="left:2975.50px;top:183.00px;font-size:14.25px;word-spacing:1.572px;">relaxation were also allowed to be optimized during the fit,</div>
<div class="l" id="L261" style="left:2975.50px;top:200.00px;font-size:14.25px;word-spacing:1.967px;">which accounts for the additional electret-induced variation</div>
<div class="l" id="L262" style="left:2975.50px;top:217.00px;font-size:14.25px;word-spacing:0.797px;">in the <i>γ</i>-relaxation regime, documented in Fig. 3. The results</div>
<div class="l" id="L263" style="left:2975.50px;top:233.00px;font-size:14.25px;word-spacing:0.022px;">are essentially comparable to those for TPMTGE: an increase</div>
<div class="l" id="L264" style="left:2975.50px;top:251.00px;font-size:14.25px;word-spacing:1.105px;">of Δ<i>ε</i> is sufficient to explain the difference of the electret to</div>
<div class="l" id="L265" style="left:2975.50px;top:267.00px;font-size:14.25px;word-spacing:1.455px;">the normal-glass spectra. While, of course, one cannot fully</div>
<div class="l" id="L266" style="left:2975.50px;top:284.00px;font-size:14.25px;word-spacing:2.529px;">exclude that the other parameters may also simultaneously</div>
<div class="l" id="L267" style="left:2975.50px;top:300.00px;font-size:14.25px;word-spacing:1.246px;">vary, this represents the most straightforward explanation of</div>
<div class="l" id="L268" style="left:2975.50px;top:317.00px;font-size:14.25px;word-spacing:2.324px;">the experimental results. It is also in accord with a simple</div>
<div class="l" id="L269" style="left:2975.50px;top:333.00px;font-size:14.25px;word-spacing:1.171px;">visual inspection of Figs. 2 and 3, leading to the impression</div>
<div class="l" id="L270" style="left:2975.50px;top:350.00px;font-size:14.25px;">that only Δ<i>ε</i> has changed in the electret state.</div>
<div class="l" id="L271" style="left:2996.00px;top:367.00px;font-size:14.25px;word-spacing:1.248px;">In summary, we have demonstrated that bringing a glass</div>
<div class="l" id="L272" style="left:2975.50px;top:383.00px;font-size:14.25px;word-spacing:8.697px;">into an electret state, with partly parallel molecular</div>
<div class="l" id="L273" style="left:2975.50px;top:400.00px;font-size:14.25px;word-spacing:0.248px;">orientations, significantly affects its dielectric response in the</div>
<div class="l" id="L274" style="left:2975.50px;top:416.00px;font-size:14.25px;word-spacing:2.811px;">regime of the secondary relaxations. For both investigated</div>
<div class="l" id="L275" style="left:2975.50px;top:432.00px;font-size:14.25px;word-spacing:3.492px;">glass formers, our findings indicate that partial molecular</div>
<div class="l" id="L276" style="left:2975.50px;top:449.00px;font-size:14.25px;word-spacing:1.177px;">orientation alignment in the glass-electret state increases the</div>
<div class="l" id="L277" style="left:2975.50px;top:466.00px;font-size:14.25px;word-spacing:4.396px;">relaxation strength of the JG <i>β</i>-relaxation. As mentioned</div>
<div class="l" id="L278" style="left:2975.50px;top:483.00px;font-size:14.25px;word-spacing:4.129px;">above, preparing a glass as an electret enhances its free</div>
<div class="l" id="L279" style="left:2975.50px;top:499.00px;font-size:14.25px;word-spacing:2.850px;">energy [17]. This is also true for glasses produced with a</div>
<div class="l" id="L280" style="left:2975.50px;top:516.00px;font-size:14.25px;word-spacing:1.195px;">very rapid cooling rate [32]. Interestingly, for the latter case</div>
<div class="l" id="L281" style="left:2975.50px;top:534.00px;font-size:14.25px;word-spacing:2.113px;">the relaxation strength of the JG relaxation, Δ<i>ε<sub>JG</sub></i>, was also</div>
<div class="l" id="L282" style="left:2975.50px;top:551.00px;font-size:14.25px;word-spacing:2.054px;">found to be higher than for glasses formed using moderate</div>
<div class="l" id="L283" style="left:2975.50px;top:567.00px;font-size:14.25px;word-spacing:2.047px;">rates [27,28,29,30]. Thus, in both cases an enhancement of</div>
<div class="l" id="L284" style="left:2975.50px;top:585.00px;font-size:14.25px;word-spacing:1.081px;">the free energy of a glass seems to increase its Δ<i>ε<sub>JG</sub></i> [47]. In</div>
<div class="l" id="L285" style="left:2975.50px;top:602.00px;font-size:14.25px;word-spacing:1.546px;">Ref. [29], the higher Δ<i>ε<sub>JG</sub></i> of rapidly cooled glasses (and its</div>
<div class="l" id="L286" style="left:2975.50px;top:618.00px;font-size:14.25px;word-spacing:2.858px;">decrease during aging) was ascribed to their more loosely</div>
<div class="l" id="L287" style="left:2975.50px;top:635.00px;font-size:14.25px;word-spacing:5.563px;">packed structure leading to more (or larger) islands of</div>
<div class="l" id="L288" style="left:2975.50px;top:651.00px;font-size:14.25px;word-spacing:2.455px;">mobility and, thus, more molecules participating in the JG</div>
<div class="l" id="L289" style="left:2975.50px;top:667.00px;font-size:14.25px;word-spacing:1.835px;">relaxation. A glass formed by rapid cooling is farther away</div>
<div class="l" id="L290" style="left:2975.50px;top:684.00px;font-size:14.25px;word-spacing:0.249px;">from equilibrium than that formed by slow cooling. One may</div>
<div class="l" id="L291" style="left:2975.50px;top:700.00px;font-size:14.25px;word-spacing:2.472px;">speculate that the enforced, "unnatural" parallel orientation</div>
<div class="l" id="L292" style="left:2975.50px;top:717.00px;font-size:14.25px;word-spacing:1.266px;">of the molecules in the present glass-electrets also favor the</div>
<div class="l" id="L293" style="left:2975.50px;top:733.00px;font-size:14.25px;word-spacing:7.163px;">formation and growth of such regions with enhanced</div>
<div class="l" id="L294" style="left:2975.50px;top:749.00px;font-size:14.25px;word-spacing:2.633px;">mobility during cooling. This would support the view that</div>
<div class="l" id="L295" style="left:2975.50px;top:766.00px;font-size:14.25px;word-spacing:0.071px;">only a fraction of the total number of molecules participate in</div>
<div class="l" id="L296" style="left:2975.50px;top:782.00px;font-size:14.25px;word-spacing:2.761px;">the JG relaxation. In any case, the found alteration of the</div>
<div class="l" id="L297" style="left:2975.50px;top:799.00px;font-size:14.25px;word-spacing:3.947px;">dielectric properties in the glass-electret state, formed by</div>
<div class="l" id="L298" style="left:2975.50px;top:815.00px;font-size:14.25px;word-spacing:6.762px;">applying a high dc field during cooling, represents a</div>
<div class="l" id="L299" style="left:2975.50px;top:831.00px;font-size:14.25px;word-spacing:2.835px;">significant nonlinear dielectric effect that is different from</div>
<div class="l" id="L300" style="left:2975.50px;top:848.00px;font-size:14.25px;word-spacing:2.481px;">those investigated until now (e.g., [12]). So far, non-linear</div>
<div class="l" id="L301" style="left:2975.50px;top:864.00px;font-size:14.25px;word-spacing:6.849px;">dielectric spectroscopy concentrated on the primary or</div>
<div class="l" id="L302" style="left:2975.50px;top:881.00px;font-size:14.25px;word-spacing:0.676px;">structural relaxation, which enabled far-reaching conclusions</div>
<div class="l" id="L303" style="left:2975.50px;top:897.00px;font-size:14.25px;word-spacing:0.725px;">about the nature of glassy freezing. We hope that the present</div>
<div class="l" id="L304" style="left:2975.50px;top:913.00px;font-size:14.25px;word-spacing:0.924px;">work with the focus on secondary relaxations, will stimulate</div>
<div class="l" id="L305" style="left:2975.50px;top:930.00px;font-size:14.25px;word-spacing:2.039px;">further investigations of this effect, also in other classes of</div>
<div class="l" id="L306" style="left:2975.50px;top:946.00px;font-size:14.25px;word-spacing:0.334px;">glass formers, necessary to reveal its general implications for</div>
<div class="l" id="L307" style="left:2975.50px;top:963.00px;font-size:14.25px;">the glass transition.</div>
<div class="l" id="L308" style="left:2999.70px;top:1012.00px;font-size:12.83px;"><sup>*</sup></div>
<div class="l" id="L309" style="left:3005.70px;top:1012.00px;font-size:12.83px;">Corresponding author.</div>
<div class="l" id="L310" style="left:3005.70px;top:1026.00px;font-size:12.83px;">Peter.Lunkenheimer@Physik.Uni-Augsburg.de</div>
<div class="l" id="L311" style="left:2975.50px;top:1042.00px;font-size:12.83px;">[1]</div>
<div class="l" id="L312" style="left:3005.70px;top:1042.00px;font-size:12.83px;">R. Richert, J. Phys. Condens. Matter <b>29</b>, 363001 (2017).</div>
<div class="l" id="L313" style="left:2975.50px;top:1057.00px;font-size:12.83px;">[2]</div>
<div class="l" id="L314" style="left:3005.70px;top:1057.00px;font-size:12.83px;word-spacing:2.723px;">P. Lunkenheimer, M. Michl, Th. Bauer, and A. Loidl, Eur.</div>
<div class="l" id="L315" style="left:3005.70px;top:1072.00px;font-size:12.83px;">Phys. J. Spec. Top. <b>226</b>, 3157 (2017).</div>
<div class="l c" id="L316" style="left:2963.70px;top:1117.00px;font-size:14.25px;">4</div>
<div class="l" id="L317" style="left:3448.80px;top:151.00px;font-size:12.83px;">[3]</div>
<div class="l" id="L318" style="left:3479.00px;top:151.00px;font-size:12.83px;word-spacing:0.433px;">R. Richert (ed.), <i>Nonlinear Dielectric Spectroscopy, Advances</i></div>
<div class="l" id="L319" style="left:3479.00px;top:165.00px;font-size:12.83px;"><i>in Dielectrics</i> (Springer, Cham, 2018).</div>
<div class="l" id="L320" style="left:3448.80px;top:180.00px;font-size:12.83px;">[4]</div>
<div class="l" id="L321" style="left:3479.00px;top:180.00px;font-size:12.83px;word-spacing:3.367px;">R. Richert and S. Weinstein, Phys. Rev. Lett. <b>97</b>, 095703</div>
<div class="l" id="L322" style="left:3479.00px;top:195.00px;font-size:12.83px;">(2006).</div>
<div class="l" id="L323" style="left:3448.80px;top:210.00px;font-size:12.83px;">[5]</div>
<div class="l" id="L324" style="left:3479.00px;top:210.00px;font-size:12.83px;">S. Weinstein and R. Richert, Phys. Rev. B <b>75</b>, 064302 (2007).</div>
<div class="l" id="L325" style="left:3448.80px;top:224.00px;font-size:12.83px;">[6]</div>
<div class="l" id="L326" style="left:3479.00px;top:224.00px;font-size:12.83px;word-spacing:1.407px;">Th. Bauer, P. Lunkenheimer, S. Kastner, and A. Loidl, Phys.</div>
<div class="l" id="L327" style="left:3479.00px;top:239.00px;font-size:12.83px;">Rev. Lett. <b>110</b>, 107603 (2013).</div>
<div class="l" id="L328" style="left:3448.80px;top:254.00px;font-size:12.83px;">[7]</div>
<div class="l" id="L329" style="left:3479.00px;top:254.00px;font-size:12.83px;">G. P. Johari, J. Chem. Phys. <b>138</b>, 154503 (2013).</div>
<div class="l" id="L330" style="left:3448.80px;top:269.00px;font-size:12.83px;">[8]</div>
<div class="l" id="L331" style="left:3479.00px;top:269.00px;font-size:12.83px;word-spacing:3.923px;">S. Samanta and R. Richert, J. Chem. Phys. <b>142</b>, 044504</div>
<div class="l" id="L332" style="left:3479.00px;top:283.00px;font-size:12.83px;">(2015).</div>
<div class="l" id="L333" style="left:3448.80px;top:298.00px;font-size:12.83px;">[9]</div>
<div class="l" id="L334" style="left:3479.00px;top:298.00px;font-size:12.83px;">G. P. Johari, J. Chem. Phys. <b>145</b>, 164502 (2016).</div>
<div class="l" id="L335" style="left:3448.80px;top:313.00px;font-size:12.83px;">[10]</div>
<div class="l" id="L336" style="left:3479.00px;top:313.00px;font-size:12.83px;word-spacing:4.423px;">C. Crauste-Thibierge, C. Brun, F. Ladieu, D. L'Hôte, G.</div>
<div class="l" id="L337" style="left:3479.00px;top:328.00px;font-size:12.83px;">Biroli, J-P. Bouchaud, Phys. Rev. Lett. <b>104</b>, 165703 (2010).</div>
<div class="l" id="L338" style="left:3448.80px;top:342.00px;font-size:12.83px;">[11]</div>
<div class="l" id="L339" style="left:3479.00px;top:342.00px;font-size:12.83px;word-spacing:2.075px;">Th. Bauer, P. Lunkenheimer, and A. Loidl, Phys. Rev. Lett.</div>
<div class="l" id="L340" style="left:3479.00px;top:357.00px;font-size:12.83px;"><b>111</b>, 225702 (2013).</div>
<div class="l" id="L341" style="left:3448.80px;top:372.00px;font-size:12.83px;">[12]</div>
<div class="l" id="L342" style="left:3479.00px;top:372.00px;font-size:12.83px;word-spacing:1.041px;">S. Albert, Th. Bauer, M. Michl, G. Biroli, J.-P. Bouchaud, A.</div>
<div class="l" id="L343" style="left:3479.00px;top:387.00px;font-size:12.83px;word-spacing:2.537px;">Loidl, P. Lunkenheimer, R. Tourbot, C. Wiertel-Gasquet, F.</div>
<div class="l" id="L344" style="left:3479.00px;top:401.00px;font-size:12.83px;">Ladieu, Science <b>352</b>, 1308 (2016).</div>
<div class="l" id="L345" style="left:3448.80px;top:416.00px;font-size:12.83px;">[13]</div>
<div class="l" id="L346" style="left:3479.00px;top:416.00px;font-size:12.83px;word-spacing:1.336px;">P. Gadige, S. Albert, M. Michl, Th. Bauer, P. Lunkenheimer,</div>
<div class="l" id="L347" style="left:3479.00px;top:431.00px;font-size:12.83px;word-spacing:3.850px;">A. Loidl, R. Tourbot, C. Wiertel-Gasquet, G. Biroli, J.-P.</div>
<div class="l" id="L348" style="left:3479.00px;top:446.00px;font-size:12.83px;">Bouchaud, and F. Ladieu, Phys. Rev. E <b>96</b>, 032611 (2017).</div>
<div class="l" id="L349" style="left:3448.80px;top:460.00px;font-size:12.83px;">[14]</div>
<div class="l" id="L350" style="left:3479.00px;top:460.00px;font-size:12.83px;word-spacing:4.085px;">B. Schiener, R. Böhmer, A. Loidl, and R.V. Chamberlin,</div>
<div class="l" id="L351" style="left:3479.00px;top:475.00px;font-size:12.83px;">Science <b>274</b>, 752 (1996).</div>
<div class="l" id="L352" style="left:3448.80px;top:490.00px;font-size:12.83px;">[15]</div>
<div class="l" id="L353" style="left:3479.00px;top:490.00px;font-size:12.83px;">M. Eguchi, Phil. Mag. <b>49</b>, 178 (1925).</div>
<div class="l" id="L354" style="left:3448.80px;top:505.00px;font-size:12.83px;">[16]</div>
<div class="l" id="L355" style="left:3479.00px;top:505.00px;font-size:12.83px;word-spacing:0.494px;">Electrets can be defined as materials where the polarization is</div>
<div class="l" id="L356" style="left:3479.00px;top:519.00px;font-size:12.83px;word-spacing:7.028px;">induced by cooling in external electrical fields. Their</div>
<div class="l" id="L357" style="left:3479.00px;top:534.00px;font-size:12.83px;word-spacing:0.507px;">polarization usually is much smaller than in ferroelectrics and</div>
<div class="l" id="L358" style="left:3479.00px;top:549.00px;font-size:12.83px;word-spacing:1.041px;">time dependent, in most cases with very long time constants,</div>
<div class="l" id="L359" style="left:3479.00px;top:564.00px;font-size:12.83px;">at least at low temperatures.</div>
<div class="l" id="L360" style="left:3448.80px;top:578.00px;font-size:12.83px;">[17]</div>
<div class="l" id="L361" style="left:3479.00px;top:578.00px;font-size:12.83px;">G. P. Johari, J. Non-Cryst. Solids <b>489</b>, 27 (2018).</div>
<div class="l" id="L362" style="left:3448.80px;top:593.00px;font-size:12.83px;">[18]</div>
<div class="l" id="L363" style="left:3479.00px;top:593.00px;font-size:12.83px;word-spacing:3.815px;">G. P. Johari and M. Goldstein, J. Chem. Phys. <b>53</b>, 2372</div>
<div class="l" id="L364" style="left:3479.00px;top:608.00px;font-size:12.83px;">(1970).</div>
<div class="l" id="L365" style="left:3448.80px;top:623.00px;font-size:12.83px;">[19]</div>
<div class="l" id="L366" style="left:3479.00px;top:623.00px;font-size:12.83px;word-spacing:3.815px;">G. P. Johari and M. Goldstein, J. Chem. Phys. <b>55</b>, 4245</div>
<div class="l" id="L367" style="left:3479.00px;top:637.00px;font-size:12.83px;">(1971).</div>
<div class="l" id="L368" style="left:3448.80px;top:652.00px;font-size:12.83px;">[20]</div>
<div class="l" id="L369" style="left:3479.00px;top:652.00px;font-size:12.83px;">K. L. Ngai and M. Paluch, J. Chem. Phys. <b>120</b>, 857 (2004).</div>
<div class="l" id="L370" style="left:3448.80px;top:667.00px;font-size:12.83px;">[21]</div>
<div class="l" id="L371" style="left:3479.00px;top:667.00px;font-size:12.83px;word-spacing:3.128px;">K. L. Ngai, <i>Relaxation and Diffusion in Complex Systems</i></div>
<div class="l" id="L372" style="left:3479.00px;top:682.00px;font-size:12.83px;">(Springer, New York, 2011).</div>
<div class="l" id="L373" style="left:3448.80px;top:696.00px;font-size:12.83px;">[22]</div>
<div class="l" id="L374" style="left:3479.00px;top:696.00px;font-size:12.83px;">G. P. Johari, J. Phys. Chem. B <b>123</b>, 3010 (2019).</div>
<div class="l" id="L375" style="left:3448.80px;top:711.00px;font-size:12.83px;">[23]</div>
<div class="l" id="L376" style="left:3479.00px;top:711.00px;font-size:12.83px;">F. H. Stillinger, Science <b>267</b>, 1935 (1995).</div>
<div class="l" id="L377" style="left:3448.80px;top:726.00px;font-size:12.83px;">[24]</div>
<div class="l" id="L378" style="left:3479.00px;top:726.00px;font-size:12.83px;word-spacing:4.025px;">H. Wagner and R. Richert, J. Non-Cryst. Solids <b>242</b>, 19</div>
<div class="l" id="L379" style="left:3479.00px;top:741.00px;font-size:12.83px;">(1998).</div>
<div class="l" id="L380" style="left:3448.80px;top:755.00px;font-size:12.83px;">[25]</div>
<div class="l" id="L381" style="left:3479.00px;top:755.00px;font-size:12.83px;">M. Vogel and E. Rössler, J. Chem. Phys. <b>114</b>, 5802 (2001).</div>
<div class="l" id="L382" style="left:3448.80px;top:770.00px;font-size:12.83px;">[26]</div>
<div class="l" id="L383" style="left:3479.00px;top:770.00px;font-size:12.83px;word-spacing:3.888px;">J. S. Harmon, M. D. Demetriou, W. L. Johnson, and K.</div>
<div class="l" id="L384" style="left:3479.00px;top:785.00px;font-size:12.83px;">Samwer, Phys. Rev. Lett. <b>99</b>, 135502 (2007).</div>
<div class="l" id="L385" style="left:3448.80px;top:800.00px;font-size:12.83px;">[27]</div>
<div class="l" id="L386" style="left:3479.00px;top:800.00px;font-size:12.83px;">G. P. Johari, J. Chem. Phys. <b>58</b>, 1766 (1973).</div>
<div class="l" id="L387" style="left:3448.80px;top:814.00px;font-size:12.83px;">[28]</div>
<div class="l" id="L388" style="left:3479.00px;top:814.00px;font-size:12.83px;">G. P. Johari, Ann. N. Y. Acad. Sci. <b>279</b>, 117 (1976).</div>
<div class="l" id="L389" style="left:3448.80px;top:829.00px;font-size:12.83px;">[29]</div>
<div class="l" id="L390" style="left:3479.00px;top:829.00px;font-size:12.83px;">G. P. Johari, J. Chem. Phys. <b>77</b>, 4619 (1982).</div>
<div class="l" id="L391" style="left:3448.80px;top:844.00px;font-size:12.83px;">[30]</div>
<div class="l" id="L392" style="left:3479.00px;top:844.00px;font-size:12.83px;">H. Wagner and R. Richert, J. Chem. Phys. <b>110</b>, 11660 (1999).</div>
<div class="l" id="L393" style="left:3448.80px;top:859.00px;font-size:12.83px;">[31]</div>
<div class="l" id="L394" style="left:3479.00px;top:859.00px;font-size:12.83px;word-spacing:1.616px;">R. Casalini, and C. M. Roland, J. Chem. Phys. <b>131</b>, 114501</div>
<div class="l" id="L395" style="left:3479.00px;top:873.00px;font-size:12.83px;">(2009)</div>
<div class="l" id="L396" style="left:3448.80px;top:888.00px;font-size:12.83px;">[32]</div>
<div class="l" id="L397" style="left:3479.00px;top:888.00px;font-size:12.83px;">G. P. Johari, J. Phys. Chem. B <b>122</b>, 2031 (2018).</div>
<div class="l" id="L398" style="left:3448.80px;top:903.00px;font-size:12.83px;">[33]</div>
<div class="l" id="L399" style="left:3479.00px;top:903.00px;font-size:12.83px;word-spacing:3.604px;">R. Casalini, D. Fioretto, A. Livi, M. Lucchesi, and P. A.</div>
<div class="l" id="L400" style="left:3479.00px;top:918.00px;font-size:12.83px;">Rolla, Phys. Rev. B <b>56</b>, 3016 (1997).</div>
<div class="l" id="L401" style="left:3448.80px;top:932.00px;font-size:12.83px;">[34]</div>
<div class="l" id="L402" style="left:3479.00px;top:932.00px;font-size:12.83px;word-spacing:0.396px;">S. Corezzi, M. Beiner, H. Huth, K. Schröter, S. Capaccioli, R.</div>
<div class="l" id="L403" style="left:3479.00px;top:947.00px;font-size:12.83px;word-spacing:0.501px;">Casalini, D. Fioretto, and E. Donth, J. Chem. Phys. <b>117</b>, 2435</div>
<div class="l" id="L404" style="left:3479.00px;top:962.00px;font-size:12.83px;">(2002).</div>
<div class="l" id="L405" style="left:3448.80px;top:977.00px;font-size:12.83px;">[35]</div>
<div class="l" id="L406" style="left:3479.00px;top:977.00px;font-size:12.83px;word-spacing:3.650px;">S. Corezzi, D. Fioretto, S. C. Santucci, S. Capaccioli, R.</div>
<div class="l" id="L407" style="left:3479.00px;top:991.00px;font-size:12.83px;word-spacing:3.237px;">Casalini, M. Lucchesi, E. Hempel, and M. Beiner, Philos.</div>
<div class="l" id="L408" style="left:3479.00px;top:1006.00px;font-size:12.83px;">Mag. B <b>82</b>, 339 (2002).</div>
<div class="l" id="L409" style="left:3448.80px;top:1021.00px;font-size:12.83px;">[36]</div>
<div class="l" id="L410" style="left:3479.00px;top:1021.00px;font-size:12.83px;word-spacing:1.747px;">D. Pisignano, S. Capaccioli, R. Casalini, M. Lucchesi, P. A.</div>
<div class="l" id="L411" style="left:3479.00px;top:1036.00px;font-size:12.83px;word-spacing:1.051px;">Rolla, A. Justl, and E. Rössler, J. Phys.: Condens. Matter <b>13</b>,</div>
<div class="l" id="L412" style="left:3479.00px;top:1050.00px;font-size:12.83px;">4405 (2001).</div>
<div class="l" id="L413" style="left:3448.80px;top:1065.00px;font-size:12.83px;">[37]</div>
<div class="l" id="L414" style="left:3479.00px;top:1065.00px;font-size:12.83px;">K. L. Ngai, Phys. Rev. E <b>57</b>, 7346 (1998).</div>
<div class="l" id="L415" style="left:3448.80px;top:1080.00px;font-size:12.83px;">[38]</div>
<div class="l" id="L416" style="left:3479.00px;top:1080.00px;font-size:12.83px;">K. L. Ngai, J. Chem. Phys. <b>109</b>, 6982 (1998).</div>
<div class="l" id="L417" style="left:3823.50px;top:151.00px;font-size:12.83px;">[39]</div>
<div class="l" id="L418" style="left:3853.70px;top:151.00px;font-size:12.83px;">M. Beiner and K. L. Ngai, Macromolecules <b>38</b>, 7033 (2005).</div>
<div class="l" id="L419" style="left:3823.50px;top:165.00px;font-size:12.83px;">[40]</div>
<div class="l" id="L420" style="left:3853.70px;top:165.00px;font-size:12.83px;word-spacing:6.293px;">See Supplemental Material for TSDC measurements of</div>
<div class="l" id="L421" style="left:3853.70px;top:181.00px;font-size:12.83px;word-spacing:0.603px;">DGEBA, dielectric spectra on TPMTGE, tan <i>δ</i> spectra, fits of</div>
<div class="l" id="L422" style="left:3853.70px;top:197.00px;font-size:12.83px;">the normal glasses, and fits of <i>ε</i>′(<i>ν</i>).</div>
<div class="l" id="L423" style="left:3823.50px;top:211.00px;font-size:12.83px;">[41]</div>
<div class="l" id="L424" style="left:3853.70px;top:211.00px;font-size:12.83px;word-spacing:1.463px;">M. T. Viciosa, J. J. Moura Ramos, and H. P. Diogo, J. Non-</div>
<div class="l" id="L425" style="left:3853.70px;top:226.00px;font-size:12.83px;">Cryst. Solids <b>356</b>, 2858 (2010).</div>
<div class="l" id="L426" style="left:3823.50px;top:242.00px;font-size:12.83px;">[42]</div>
<div class="l" id="L427" style="left:3853.70px;top:242.00px;font-size:12.83px;word-spacing:5.668px;">The onset of an upturn of <i>ε</i>″, observed at the lowest</div>
<div class="l" id="L428" style="left:3853.70px;top:258.00px;font-size:12.83px;word-spacing:1.228px;">frequencies of the 219<span class="n"> </span>K spectra in Fig. 3(b), is due to the <i>α</i></div>
<div class="l" id="L429" style="left:3853.70px;top:272.00px;font-size:12.83px;word-spacing:8.092px;">relaxation, which mostly lies outside the investigated</div>
<div class="l" id="L430" style="left:3853.70px;top:287.00px;font-size:12.83px;">frequency window and is not further investigated here.</div>
<div class="l" id="L431" style="left:3823.50px;top:302.00px;font-size:12.83px;">[43]</div>
<div class="l" id="L432" style="left:3853.70px;top:302.00px;font-size:12.83px;word-spacing:3.707px;">S. Samanta and R. Richert, J. Phys. Chem. B <b>119</b>, 8909</div>
<div class="l" id="L433" style="left:3853.70px;top:316.00px;font-size:12.83px;">(2015).</div>
<div class="l" id="L434" style="left:3823.50px;top:331.00px;font-size:12.83px;">[44]</div>
<div class="l" id="L435" style="left:3853.70px;top:331.00px;font-size:12.83px;">K. S. Cole and R. H. Cole, J. Chem. Phys. <b>9,</b> 341  (1941).</div>
<div class="l" id="L436" style="left:3823.50px;top:346.00px;font-size:12.83px;">[45]</div>
<div class="l" id="L437" style="left:3853.70px;top:346.00px;font-size:12.83px;word-spacing:1.364px;">T. Fujima, H. Frusawa, and K. Ito, Phys. Rev. E <b>66</b>, 031503</div>
<div class="l" id="L438" style="left:3853.70px;top:361.00px;font-size:12.83px;">(2002).</div>
<div class="l" id="L439" style="left:3823.50px;top:375.00px;font-size:12.83px;">[46]</div>
<div class="l" id="L440" style="left:3853.70px;top:375.00px;font-size:12.83px;word-spacing:1.866px;">S. Kastner, M. Köhler, Y. Goncharov, P. Lunkenheimer, and</div>
<div class="l" id="L441" style="left:3853.70px;top:390.00px;font-size:12.83px;">A. Loidl, J. Non-Cryst. Solids <b>357</b>, 510 (2011).</div>
<div class="l" id="L442" style="left:3823.50px;top:405.00px;font-size:12.83px;">[47]</div>
<div class="l" id="L443" style="left:3853.70px;top:405.00px;font-size:12.83px;word-spacing:1.213px;">The lower density of a rapidly cooled glass could also affect</div>
<div class="l" id="L444" style="left:3853.70px;top:421.00px;font-size:12.83px;">Δ<i>ε<sub>JG</sub></i> which, however, would lead to its reduction.</div>
<div class="l c" id="L445" style="left:3811.70px;top:1117.00px;font-size:14.25px;">5</div>
<div class="eq" style="left:2211.80px;top:1009.50px;font-size:15.20px;">ε<span style="font-style:normal">*</span></div>
<div class="eq" style="left:2232.00px;top:1009.50px;font-size:15.20px;"><span style="font-style:normal">=</span></div>
<div class="eq" style="left:2246.50px;top:1009.50px;font-size:15.20px;">ε<sub style="font-style:normal">∞</sub></div>
<div class="eq" style="left:2266.50px;top:1009.50px;font-size:15.20px;"><span style="font-style:normal">+</span></div>
<div class="eq" style="left:2295.50px;top:1002.50px;font-size:15.20px;word-spacing:1px;">ε<sub>s</sub> <span style="font-style:normal">−</span> ε<sub style="font-style:normal">∞</sub></div>
<div class="eq" style="left:2281.00px;top:1021.50px;font-size:15.20px;letter-spacing:0.25px;word-spacing:0.5px;"><span style="font-style:normal">1 + (</span>iωτ<span style="font-style:normal">)</span><sup><span style="font-style:normal">1−</span>α</sup></div>
<div style="position:absolute;left:2280.3px;top:1019.5px;width:76.3px;height:0.9px;background:#000"></div>
<div class="eq" style="left:2451.20px;top:1012.00px;font-size:14.25px;font-style:normal;">(1)</div>
<div style="position:absolute;left:3076.7px;top:993.0px;width:170.7px;height:1px;background:#444"></div>
<svg width="4240" height="1200" viewBox="0 0 4240 1200">
<defs><clipPath id="c1a"><rect x="1347.6" y="485.9" width="267.7" height="138.0"/></clipPath><clipPath id="c1b"><rect x="1347.6" y="639.3" width="267.7" height="200.0"/></clipPath></defs>
<g clip-path="url(#c1a)">
<path d="M1351.1 604.1C1355.9 604.2 1370.5 604.5 1380.2 604.8C1389.9 605.0 1399.5 605.3 1409.4 605.7C1419.2 606.0 1429.4 606.5 1439.2 606.9C1449.1 607.3 1460.2 607.6 1468.4 608.0C1476.5 608.4 1481.7 608.8 1488.2 609.2C1494.7 609.6 1501.0 610.1 1507.5 610.6C1514.0 611.1 1520.6 611.6 1527.1 612.2C1533.6 612.9 1539.9 613.9 1546.5 614.6C1553.0 615.3 1559.8 615.8 1566.3 616.4C1572.8 617.0 1579.2 617.6 1585.6 618.1C1592.1 618.5 1600.3 619.0 1605.2 619.2C1610.2 619.4 1613.6 619.2 1615.3 619.2" fill="none" stroke="#000000" stroke-width="0.9"/><circle cx="1351.1" cy="604.1" r="1.8" fill="#fff" stroke="#000000" stroke-width="0.7"/><circle cx="1361.0" cy="604.3" r="1.8" fill="#fff" stroke="#000000" stroke-width="0.7"/><circle cx="1370.8" cy="604.5" r="1.8" fill="#fff" stroke="#000000" stroke-width="0.7"/><circle cx="1380.7" cy="604.8" r="1.8" fill="#fff" stroke="#000000" stroke-width="0.7"/><circle cx="1390.6" cy="605.1" r="1.8" fill="#fff" stroke="#000000" stroke-width="0.7"/><circle cx="1400.5" cy="605.4" r="1.8" fill="#fff" stroke="#000000" stroke-width="0.7"/><circle cx="1410.3" cy="605.7" r="1.8" fill="#fff" stroke="#000000" stroke-width="0.7"/><circle cx="1420.2" cy="606.1" r="1.8" fill="#fff" stroke="#000000" stroke-width="0.7"/><circle cx="1430.1" cy="606.5" r="1.8" fill="#fff" stroke="#000000" stroke-width="0.7"/><circle cx="1440.0" cy="606.9" r="1.8" fill="#fff" stroke="#000000" stroke-width="0.7"/><circle cx="1449.8" cy="607.3" r="1.8" fill="#fff" stroke="#000000" stroke-width="0.7"/><circle cx="1459.7" cy="607.6" r="1.8" fill="#fff" stroke="#000000" stroke-width="0.7"/><circle cx="1469.6" cy="608.1" r="1.8" fill="#fff" stroke="#000000" stroke-width="0.7"/><circle cx="1479.4" cy="608.6" r="1.8" fill="#fff" stroke="#000000" stroke-width="0.7"/><circle cx="1489.3" cy="609.3" r="1.8" fill="#fff" stroke="#000000" stroke-width="0.7"/><circle cx="1499.2" cy="610.0" r="1.8" fill="#fff" stroke="#000000" stroke-width="0.7"/><circle cx="1509.1" cy="610.7" r="1.8" fill="#fff" stroke="#000000" stroke-width="0.7"/><circle cx="1518.9" cy="611.5" r="1.8" fill="#fff" stroke="#000000" stroke-width="0.7"/><circle cx="1528.8" cy="612.4" r="1.8" fill="#fff" stroke="#000000" stroke-width="0.7"/><circle cx="1538.7" cy="613.6" r="1.8" fill="#fff" stroke="#000000" stroke-width="0.7"/><circle cx="1548.6" cy="614.8" r="1.8" fill="#fff" stroke="#000000" stroke-width="0.7"/><circle cx="1558.4" cy="615.7" r="1.8" fill="#fff" stroke="#000000" stroke-width="0.7"/><circle cx="1568.3" cy="616.6" r="1.8" fill="#fff" stroke="#000000" stroke-width="0.7"/><circle cx="1578.2" cy="617.5" r="1.8" fill="#fff" stroke="#000000" stroke-width="0.7"/><circle cx="1588.1" cy="618.2" r="1.8" fill="#fff" stroke="#000000" stroke-width="0.7"/><circle cx="1597.9" cy="618.9" r="1.8" fill="#fff" stroke="#000000" stroke-width="0.7"/><circle cx="1607.8" cy="619.3" r="1.8" fill="#fff" stroke="#000000" stroke-width="0.7"/>
<path d="M1351.1 600.6C1355.9 600.6 1370.5 600.9 1380.2 601.0C1389.9 601.2 1396.4 601.3 1409.4 601.5C1422.4 601.7 1442.0 601.9 1458.3 602.2C1474.7 602.5 1494.5 602.9 1507.5 603.4C1520.6 603.8 1528.5 604.3 1536.7 604.8C1544.8 605.3 1550.0 605.9 1556.5 606.4C1563.0 606.9 1569.1 607.4 1575.6 608.0C1582.1 608.6 1588.8 609.4 1595.4 609.9C1602.0 610.4 1611.9 610.9 1615.3 611.1" fill="none" stroke="#00dddd" stroke-width="0.9"/><path d="M1351.1 602.8L1353.1 599.0L1349.1 599.0z" fill="#fff" stroke="#00dddd" stroke-width="0.7"/><path d="M1361.0 602.9L1363.0 599.1L1359.0 599.1z" fill="#fff" stroke="#00dddd" stroke-width="0.7"/><path d="M1370.8 603.1L1372.8 599.3L1368.8 599.3z" fill="#fff" stroke="#00dddd" stroke-width="0.7"/><path d="M1380.7 603.2L1382.7 599.4L1378.7 599.4z" fill="#fff" stroke="#00dddd" stroke-width="0.7"/><path d="M1390.6 603.4L1392.6 599.6L1388.6 599.6z" fill="#fff" stroke="#00dddd" stroke-width="0.7"/><path d="M1400.5 603.6L1402.5 599.8L1398.5 599.8z" fill="#fff" stroke="#00dddd" stroke-width="0.7"/><path d="M1410.3 603.7L1412.3 599.9L1408.3 599.9z" fill="#fff" stroke="#00dddd" stroke-width="0.7"/><path d="M1420.2 603.8L1422.2 600.0L1418.2 600.0z" fill="#fff" stroke="#00dddd" stroke-width="0.7"/><path d="M1430.1 604.0L1432.1 600.2L1428.1 600.2z" fill="#fff" stroke="#00dddd" stroke-width="0.7"/><path d="M1440.0 604.1L1442.0 600.3L1438.0 600.3z" fill="#fff" stroke="#00dddd" stroke-width="0.7"/><path d="M1449.8 604.3L1451.8 600.5L1447.8 600.5z" fill="#fff" stroke="#00dddd" stroke-width="0.7"/><path d="M1459.7 604.4L1461.7 600.6L1457.7 600.6z" fill="#fff" stroke="#00dddd" stroke-width="0.7"/><path d="M1469.6 604.6L1471.6 600.8L1467.6 600.8z" fill="#fff" stroke="#00dddd" stroke-width="0.7"/><path d="M1479.4 604.8L1481.4 601.0L1477.4 601.0z" fill="#fff" stroke="#00dddd" stroke-width="0.7"/><path d="M1489.3 605.0L1491.3 601.2L1487.3 601.2z" fill="#fff" stroke="#00dddd" stroke-width="0.7"/><path d="M1499.2 605.3L1501.2 601.5L1497.2 601.5z" fill="#fff" stroke="#00dddd" stroke-width="0.7"/><path d="M1509.1 605.6L1511.1 601.8L1507.1 601.8z" fill="#fff" stroke="#00dddd" stroke-width="0.7"/><path d="M1518.9 606.0L1520.9 602.2L1516.9 602.2z" fill="#fff" stroke="#00dddd" stroke-width="0.7"/><path d="M1528.8 606.5L1530.8 602.7L1526.8 602.7z" fill="#fff" stroke="#00dddd" stroke-width="0.7"/><path d="M1538.7 607.1L1540.7 603.3L1536.7 603.3z" fill="#fff" stroke="#00dddd" stroke-width="0.7"/><path d="M1548.6 607.9L1550.6 604.1L1546.6 604.1z" fill="#fff" stroke="#00dddd" stroke-width="0.7"/><path d="M1558.4 608.8L1560.4 605.0L1556.4 605.0z" fill="#fff" stroke="#00dddd" stroke-width="0.7"/><path d="M1568.3 609.6L1570.3 605.8L1566.3 605.8z" fill="#fff" stroke="#00dddd" stroke-width="0.7"/><path d="M1578.2 610.5L1580.2 606.7L1576.2 606.7z" fill="#fff" stroke="#00dddd" stroke-width="0.7"/><path d="M1588.1 611.4L1590.1 607.6L1586.1 607.6z" fill="#fff" stroke="#00dddd" stroke-width="0.7"/><path d="M1597.9 612.3L1599.9 608.5L1595.9 608.5z" fill="#fff" stroke="#00dddd" stroke-width="0.7"/><path d="M1607.8 612.9L1609.8 609.1L1605.8 609.1z" fill="#fff" stroke="#00dddd" stroke-width="0.7"/>
<path d="M1351.1 588.4C1352.7 588.7 1357.4 589.5 1360.6 590.1C1363.9 590.6 1367.2 591.2 1370.4 591.7C1373.7 592.2 1377.0 592.6 1380.2 592.9C1383.5 593.2 1386.6 593.3 1389.8 593.6C1393.0 593.8 1394.6 594.0 1399.6 594.3C1404.5 594.5 1409.6 594.8 1419.4 595.0C1429.2 595.2 1440.4 595.3 1458.3 595.4C1476.3 595.6 1507.6 595.6 1527.1 595.9C1546.7 596.2 1560.9 596.8 1575.6 597.1C1590.3 597.4 1608.6 597.7 1615.3 597.8" fill="none" stroke="#ee11dd" stroke-width="0.9"/><path d="M1353.3 588.4L1349.5 586.4L1349.5 590.4z" fill="#fff" stroke="#ee11dd" stroke-width="0.7"/><path d="M1363.2 590.1L1359.4 588.1L1359.4 592.1z" fill="#fff" stroke="#ee11dd" stroke-width="0.7"/><path d="M1373.0 591.8L1369.2 589.8L1369.2 593.8z" fill="#fff" stroke="#ee11dd" stroke-width="0.7"/><path d="M1382.9 592.9L1379.1 590.9L1379.1 594.9z" fill="#fff" stroke="#ee11dd" stroke-width="0.7"/><path d="M1392.8 593.6L1389.0 591.6L1389.0 595.6z" fill="#fff" stroke="#ee11dd" stroke-width="0.7"/><path d="M1402.7 594.3L1398.9 592.3L1398.9 596.3z" fill="#fff" stroke="#ee11dd" stroke-width="0.7"/><path d="M1412.5 594.7L1408.7 592.7L1408.7 596.7z" fill="#fff" stroke="#ee11dd" stroke-width="0.7"/><path d="M1422.4 595.0L1418.6 593.0L1418.6 597.0z" fill="#fff" stroke="#ee11dd" stroke-width="0.7"/><path d="M1432.3 595.2L1428.5 593.2L1428.5 597.2z" fill="#fff" stroke="#ee11dd" stroke-width="0.7"/><path d="M1442.2 595.3L1438.4 593.3L1438.4 597.3z" fill="#fff" stroke="#ee11dd" stroke-width="0.7"/><path d="M1452.0 595.4L1448.2 593.4L1448.2 597.4z" fill="#fff" stroke="#ee11dd" stroke-width="0.7"/><path d="M1461.9 595.4L1458.1 593.4L1458.1 597.4z" fill="#fff" stroke="#ee11dd" stroke-width="0.7"/><path d="M1471.8 595.5L1468.0 593.5L1468.0 597.5z" fill="#fff" stroke="#ee11dd" stroke-width="0.7"/><path d="M1481.6 595.6L1477.8 593.6L1477.8 597.6z" fill="#fff" stroke="#ee11dd" stroke-width="0.7"/><path d="M1491.5 595.6L1487.7 593.6L1487.7 597.6z" fill="#fff" stroke="#ee11dd" stroke-width="0.7"/><path d="M1501.4 595.7L1497.6 593.7L1497.6 597.7z" fill="#fff" stroke="#ee11dd" stroke-width="0.7"/><path d="M1511.3 595.7L1507.5 593.7L1507.5 597.7z" fill="#fff" stroke="#ee11dd" stroke-width="0.7"/><path d="M1521.1 595.8L1517.3 593.8L1517.3 597.8z" fill="#fff" stroke="#ee11dd" stroke-width="0.7"/><path d="M1531.0 595.9L1527.2 593.9L1527.2 597.9z" fill="#fff" stroke="#ee11dd" stroke-width="0.7"/><path d="M1540.9 596.1L1537.1 594.1L1537.1 598.1z" fill="#fff" stroke="#ee11dd" stroke-width="0.7"/><path d="M1550.8 596.4L1547.0 594.4L1547.0 598.4z" fill="#fff" stroke="#ee11dd" stroke-width="0.7"/><path d="M1560.6 596.6L1556.8 594.6L1556.8 598.6z" fill="#fff" stroke="#ee11dd" stroke-width="0.7"/><path d="M1570.5 596.9L1566.7 594.9L1566.7 598.9z" fill="#fff" stroke="#ee11dd" stroke-width="0.7"/><path d="M1580.4 597.1L1576.6 595.1L1576.6 599.1z" fill="#fff" stroke="#ee11dd" stroke-width="0.7"/><path d="M1590.3 597.3L1586.5 595.3L1586.5 599.3z" fill="#fff" stroke="#ee11dd" stroke-width="0.7"/><path d="M1600.1 597.5L1596.3 595.5L1596.3 599.5z" fill="#fff" stroke="#ee11dd" stroke-width="0.7"/><path d="M1610.0 597.6L1606.2 595.6L1606.2 599.6z" fill="#fff" stroke="#ee11dd" stroke-width="0.7"/>
<path d="M1351.1 509.2C1352.7 511.3 1357.4 517.4 1360.6 521.8C1363.9 526.1 1367.2 531.0 1370.4 535.3C1373.7 539.6 1377.0 543.9 1380.2 547.4C1383.5 550.9 1386.6 553.5 1389.8 556.3C1393.0 559.0 1396.3 561.7 1399.6 564.0C1402.8 566.2 1406.1 568.1 1409.4 569.8C1412.7 571.5 1416.1 573.0 1419.4 574.2C1422.7 575.5 1425.9 576.4 1429.2 577.3C1432.5 578.1 1436.0 578.9 1439.2 579.6C1442.4 580.3 1445.4 580.9 1448.5 581.4C1451.7 582.0 1455.0 582.3 1458.3 582.6C1461.6 583.0 1465.0 583.3 1468.4 583.5C1471.7 583.8 1475.1 584.1 1478.4 584.2C1481.7 584.4 1485.0 584.6 1488.2 584.7C1491.4 584.9 1494.3 585.0 1497.5 585.2C1500.7 585.3 1502.6 585.4 1507.5 585.6C1512.5 585.9 1520.6 586.3 1527.1 586.6C1533.6 586.8 1539.9 587.0 1546.5 587.3C1553.0 587.5 1559.8 587.7 1566.3 588.0C1572.8 588.2 1579.2 588.4 1585.6 588.7C1592.1 588.9 1600.3 589.2 1605.2 589.4C1610.2 589.5 1613.6 589.6 1615.3 589.6" fill="none" stroke="#00dd00" stroke-width="0.9"/><path d="M1351.1 506.9L1353.4 509.2L1351.1 511.5L1348.8 509.2z" fill="#00dd00" stroke="#00dd00" stroke-width="0.7"/><path d="M1361.0 519.9L1363.3 522.2L1361.0 524.5L1358.7 522.2z" fill="#00dd00" stroke="#00dd00" stroke-width="0.7"/><path d="M1370.8 533.5L1373.1 535.8L1370.8 538.1L1368.5 535.8z" fill="#00dd00" stroke="#00dd00" stroke-width="0.7"/><path d="M1380.7 545.6L1383.0 547.9L1380.7 550.2L1378.4 547.9z" fill="#00dd00" stroke="#00dd00" stroke-width="0.7"/><path d="M1390.6 554.6L1392.9 556.9L1390.6 559.2L1388.3 556.9z" fill="#00dd00" stroke="#00dd00" stroke-width="0.7"/><path d="M1400.5 562.3L1402.8 564.6L1400.5 566.9L1398.2 564.6z" fill="#00dd00" stroke="#00dd00" stroke-width="0.7"/><path d="M1410.3 568.0L1412.6 570.3L1410.3 572.6L1408.0 570.3z" fill="#00dd00" stroke="#00dd00" stroke-width="0.7"/><path d="M1420.2 572.2L1422.5 574.5L1420.2 576.8L1417.9 574.5z" fill="#00dd00" stroke="#00dd00" stroke-width="0.7"/><path d="M1430.1 575.2L1432.4 577.5L1430.1 579.8L1427.8 577.5z" fill="#00dd00" stroke="#00dd00" stroke-width="0.7"/><path d="M1440.0 577.4L1442.3 579.7L1440.0 582.0L1437.7 579.7z" fill="#00dd00" stroke="#00dd00" stroke-width="0.7"/><path d="M1449.8 579.3L1452.1 581.6L1449.8 583.9L1447.5 581.6z" fill="#00dd00" stroke="#00dd00" stroke-width="0.7"/><path d="M1459.7 580.5L1462.0 582.8L1459.7 585.1L1457.4 582.8z" fill="#00dd00" stroke="#00dd00" stroke-width="0.7"/><path d="M1469.6 581.3L1471.9 583.6L1469.6 585.9L1467.3 583.6z" fill="#00dd00" stroke="#00dd00" stroke-width="0.7"/><path d="M1479.4 582.0L1481.7 584.3L1479.4 586.6L1477.1 584.3z" fill="#00dd00" stroke="#00dd00" stroke-width="0.7"/><path d="M1489.3 582.5L1491.6 584.8L1489.3 587.1L1487.0 584.8z" fill="#00dd00" stroke="#00dd00" stroke-width="0.7"/><path d="M1499.2 583.0L1501.5 585.3L1499.2 587.6L1496.9 585.3z" fill="#00dd00" stroke="#00dd00" stroke-width="0.7"/><path d="M1509.1 583.4L1511.4 585.7L1509.1 588.0L1506.8 585.7z" fill="#00dd00" stroke="#00dd00" stroke-width="0.7"/><path d="M1518.9 583.9L1521.2 586.2L1518.9 588.5L1516.6 586.2z" fill="#00dd00" stroke="#00dd00" stroke-width="0.7"/><path d="M1528.8 584.3L1531.1 586.6L1528.8 588.9L1526.5 586.6z" fill="#00dd00" stroke="#00dd00" stroke-width="0.7"/><path d="M1538.7 584.7L1541.0 587.0L1538.7 589.3L1536.4 587.0z" fill="#00dd00" stroke="#00dd00" stroke-width="0.7"/><path d="M1548.6 585.1L1550.9 587.4L1548.6 589.7L1546.3 587.4z" fill="#00dd00" stroke="#00dd00" stroke-width="0.7"/><path d="M1558.4 585.4L1560.7 587.7L1558.4 590.0L1556.1 587.7z" fill="#00dd00" stroke="#00dd00" stroke-width="0.7"/><path d="M1568.3 585.7L1570.6 588.0L1568.3 590.3L1566.0 588.0z" fill="#00dd00" stroke="#00dd00" stroke-width="0.7"/><path d="M1578.2 586.1L1580.5 588.4L1578.2 590.7L1575.9 588.4z" fill="#00dd00" stroke="#00dd00" stroke-width="0.7"/><path d="M1588.1 586.5L1590.4 588.8L1588.1 591.1L1585.8 588.8z" fill="#00dd00" stroke="#00dd00" stroke-width="0.7"/><path d="M1597.9 586.8L1600.2 589.1L1597.9 591.4L1595.6 589.1z" fill="#00dd00" stroke="#00dd00" stroke-width="0.7"/><path d="M1607.8 587.1L1610.1 589.4L1607.8 591.7L1605.5 589.4z" fill="#00dd00" stroke="#00dd00" stroke-width="0.7"/>
<path d="M1351.1 494.5C1352.7 494.6 1357.4 495.0 1360.6 495.2C1363.9 495.4 1367.2 495.5 1370.4 495.6C1373.7 495.8 1377.0 496.0 1380.2 496.3C1383.5 496.7 1386.6 496.9 1389.8 497.5C1393.0 498.1 1396.3 498.7 1399.6 499.8C1402.8 501.0 1406.1 502.5 1409.4 504.5C1412.7 506.5 1416.1 509.0 1419.4 512.0C1422.7 515.0 1425.9 519.0 1429.2 522.5C1432.5 526.0 1436.0 529.5 1439.2 533.0C1442.4 536.4 1445.4 540.3 1448.5 543.4C1451.7 546.6 1455.0 549.2 1458.3 551.6C1461.6 554.1 1465.0 556.2 1468.4 558.1C1471.7 560.1 1475.1 561.7 1478.4 563.3C1481.7 564.8 1485.0 566.2 1488.2 567.5C1491.4 568.7 1494.3 569.9 1497.5 570.7C1500.7 571.6 1504.2 572.0 1507.5 572.6C1510.8 573.2 1514.1 573.9 1517.3 574.5C1520.6 575.0 1523.9 575.2 1527.1 575.6C1530.3 576.0 1533.5 576.4 1536.7 576.8C1539.9 577.1 1543.2 577.4 1546.5 577.7C1549.8 578.0 1553.2 578.2 1556.5 578.4C1559.8 578.7 1563.1 578.9 1566.3 579.1C1569.5 579.3 1572.4 579.4 1575.6 579.6C1578.8 579.7 1582.3 579.9 1585.6 580.0C1588.9 580.2 1592.2 580.5 1595.4 580.7C1598.7 581.0 1601.9 581.3 1605.2 581.4C1608.5 581.6 1613.6 581.8 1615.3 581.9" fill="none" stroke="#ee1111" stroke-width="0.9"/><path d="M1351.1 496.7L1353.1 492.9L1349.1 492.9z" fill="#ee1111" stroke="#ee1111" stroke-width="0.7"/><path d="M1361.0 497.4L1363.0 493.6L1359.0 493.6z" fill="#ee1111" stroke="#ee1111" stroke-width="0.7"/><path d="M1370.8 497.9L1372.8 494.1L1368.8 494.1z" fill="#ee1111" stroke="#ee1111" stroke-width="0.7"/><path d="M1380.7 498.6L1382.7 494.8L1378.7 494.8z" fill="#ee1111" stroke="#ee1111" stroke-width="0.7"/><path d="M1390.6 499.9L1392.6 496.1L1388.6 496.1z" fill="#ee1111" stroke="#ee1111" stroke-width="0.7"/><path d="M1400.5 502.4L1402.5 498.6L1398.5 498.6z" fill="#ee1111" stroke="#ee1111" stroke-width="0.7"/><path d="M1410.3 507.3L1412.3 503.5L1408.3 503.5z" fill="#ee1111" stroke="#ee1111" stroke-width="0.7"/><path d="M1420.2 514.9L1422.2 511.1L1418.2 511.1z" fill="#ee1111" stroke="#ee1111" stroke-width="0.7"/><path d="M1430.1 525.6L1432.1 521.8L1428.1 521.8z" fill="#ee1111" stroke="#ee1111" stroke-width="0.7"/><path d="M1440.0 536.0L1442.0 532.2L1438.0 532.2z" fill="#ee1111" stroke="#ee1111" stroke-width="0.7"/><path d="M1449.8 546.9L1451.8 543.1L1447.8 543.1z" fill="#ee1111" stroke="#ee1111" stroke-width="0.7"/><path d="M1459.7 554.8L1461.7 551.0L1457.7 551.0z" fill="#ee1111" stroke="#ee1111" stroke-width="0.7"/><path d="M1469.6 561.0L1471.6 557.2L1467.6 557.2z" fill="#ee1111" stroke="#ee1111" stroke-width="0.7"/><path d="M1479.4 566.0L1481.4 562.2L1477.4 562.2z" fill="#ee1111" stroke="#ee1111" stroke-width="0.7"/><path d="M1489.3 570.1L1491.3 566.3L1487.3 566.3z" fill="#ee1111" stroke="#ee1111" stroke-width="0.7"/><path d="M1499.2 573.3L1501.2 569.5L1497.2 569.5z" fill="#ee1111" stroke="#ee1111" stroke-width="0.7"/><path d="M1509.1 575.1L1511.1 571.3L1507.1 571.3z" fill="#ee1111" stroke="#ee1111" stroke-width="0.7"/><path d="M1518.9 576.9L1520.9 573.1L1516.9 573.1z" fill="#ee1111" stroke="#ee1111" stroke-width="0.7"/><path d="M1528.8 578.0L1530.8 574.2L1526.8 574.2z" fill="#ee1111" stroke="#ee1111" stroke-width="0.7"/><path d="M1538.7 579.2L1540.7 575.4L1536.7 575.4z" fill="#ee1111" stroke="#ee1111" stroke-width="0.7"/><path d="M1548.6 580.1L1550.6 576.3L1546.6 576.3z" fill="#ee1111" stroke="#ee1111" stroke-width="0.7"/><path d="M1558.4 580.8L1560.4 577.0L1556.4 577.0z" fill="#ee1111" stroke="#ee1111" stroke-width="0.7"/><path d="M1568.3 581.4L1570.3 577.6L1566.3 577.6z" fill="#ee1111" stroke="#ee1111" stroke-width="0.7"/><path d="M1578.2 581.9L1580.2 578.1L1576.2 578.1z" fill="#ee1111" stroke="#ee1111" stroke-width="0.7"/><path d="M1588.1 582.4L1590.1 578.6L1586.1 578.6z" fill="#ee1111" stroke="#ee1111" stroke-width="0.7"/><path d="M1597.9 583.1L1599.9 579.3L1595.9 579.3z" fill="#ee1111" stroke="#ee1111" stroke-width="0.7"/><path d="M1607.8 583.8L1609.8 580.0L1605.8 580.0z" fill="#ee1111" stroke="#ee1111" stroke-width="0.7"/>
<path d="M1351.1 497.5C1352.7 497.6 1357.4 497.8 1360.6 498.0C1363.9 498.1 1367.2 498.3 1370.4 498.4C1373.7 498.5 1376.9 498.5 1380.2 498.6C1383.5 498.6 1386.7 498.6 1390.0 498.6C1393.2 498.6 1396.5 498.6 1399.7 498.6C1403.0 498.6 1406.2 498.6 1409.5 498.6C1412.7 498.6 1416.0 498.6 1419.3 498.6C1422.5 498.6 1425.8 498.6 1429.0 498.6C1432.3 498.6 1435.5 498.5 1438.8 498.6C1442.0 498.7 1445.3 498.7 1448.5 499.1C1451.8 499.6 1455.0 500.2 1458.3 501.5C1461.6 502.7 1465.0 504.5 1468.4 506.6C1471.7 508.7 1475.1 511.5 1478.4 514.3C1481.7 517.1 1485.0 520.5 1488.2 523.6C1491.4 526.7 1494.3 529.9 1497.5 533.0C1500.7 536.0 1504.2 539.2 1507.5 541.8C1510.8 544.5 1514.1 546.7 1517.3 548.8C1520.6 550.9 1523.9 552.8 1527.1 554.4C1530.3 556.0 1533.5 557.3 1536.7 558.6C1539.9 559.9 1543.2 561.1 1546.5 562.1C1549.8 563.1 1553.2 563.7 1556.5 564.4C1559.8 565.1 1563.1 565.6 1566.3 566.3C1569.5 567.0 1572.4 567.8 1575.6 568.4C1578.8 569.0 1582.3 569.3 1585.6 569.8C1588.9 570.3 1592.2 571.0 1595.4 571.4C1598.7 571.9 1601.9 572.3 1605.2 572.6C1608.5 572.9 1613.6 573.2 1615.3 573.3" fill="none" stroke="#1111dd" stroke-width="0.9"/><rect x="1349.5" y="495.9" width="3.2" height="3.2" fill="#1111dd" stroke="#1111dd" stroke-width="0.7"/><rect x="1359.4" y="496.4" width="3.2" height="3.2" fill="#1111dd" stroke="#1111dd" stroke-width="0.7"/><rect x="1369.2" y="496.9" width="3.2" height="3.2" fill="#1111dd" stroke="#1111dd" stroke-width="0.7"/><rect x="1379.1" y="497.0" width="3.2" height="3.2" fill="#1111dd" stroke="#1111dd" stroke-width="0.7"/><rect x="1389.0" y="497.0" width="3.2" height="3.2" fill="#1111dd" stroke="#1111dd" stroke-width="0.7"/><rect x="1398.9" y="497.0" width="3.2" height="3.2" fill="#1111dd" stroke="#1111dd" stroke-width="0.7"/><rect x="1408.7" y="497.0" width="3.2" height="3.2" fill="#1111dd" stroke="#1111dd" stroke-width="0.7"/><rect x="1418.6" y="497.0" width="3.2" height="3.2" fill="#1111dd" stroke="#1111dd" stroke-width="0.7"/><rect x="1428.5" y="497.0" width="3.2" height="3.2" fill="#1111dd" stroke="#1111dd" stroke-width="0.7"/><rect x="1438.4" y="497.0" width="3.2" height="3.2" fill="#1111dd" stroke="#1111dd" stroke-width="0.7"/><rect x="1448.2" y="497.7" width="3.2" height="3.2" fill="#1111dd" stroke="#1111dd" stroke-width="0.7"/><rect x="1458.1" y="500.4" width="3.2" height="3.2" fill="#1111dd" stroke="#1111dd" stroke-width="0.7"/><rect x="1468.0" y="505.8" width="3.2" height="3.2" fill="#1111dd" stroke="#1111dd" stroke-width="0.7"/><rect x="1477.8" y="513.6" width="3.2" height="3.2" fill="#1111dd" stroke="#1111dd" stroke-width="0.7"/><rect x="1487.7" y="523.2" width="3.2" height="3.2" fill="#1111dd" stroke="#1111dd" stroke-width="0.7"/><rect x="1497.6" y="532.9" width="3.2" height="3.2" fill="#1111dd" stroke="#1111dd" stroke-width="0.7"/><rect x="1507.5" y="541.4" width="3.2" height="3.2" fill="#1111dd" stroke="#1111dd" stroke-width="0.7"/><rect x="1517.3" y="548.2" width="3.2" height="3.2" fill="#1111dd" stroke="#1111dd" stroke-width="0.7"/><rect x="1527.2" y="553.6" width="3.2" height="3.2" fill="#1111dd" stroke="#1111dd" stroke-width="0.7"/><rect x="1537.1" y="557.8" width="3.2" height="3.2" fill="#1111dd" stroke="#1111dd" stroke-width="0.7"/><rect x="1547.0" y="561.1" width="3.2" height="3.2" fill="#1111dd" stroke="#1111dd" stroke-width="0.7"/><rect x="1556.8" y="563.2" width="3.2" height="3.2" fill="#1111dd" stroke="#1111dd" stroke-width="0.7"/><rect x="1566.7" y="565.1" width="3.2" height="3.2" fill="#1111dd" stroke="#1111dd" stroke-width="0.7"/><rect x="1576.6" y="567.2" width="3.2" height="3.2" fill="#1111dd" stroke="#1111dd" stroke-width="0.7"/><rect x="1586.5" y="568.6" width="3.2" height="3.2" fill="#1111dd" stroke="#1111dd" stroke-width="0.7"/><rect x="1596.3" y="570.2" width="3.2" height="3.2" fill="#1111dd" stroke="#1111dd" stroke-width="0.7"/><rect x="1606.2" y="571.2" width="3.2" height="3.2" fill="#1111dd" stroke="#1111dd" stroke-width="0.7"/>
<path d="M1351.1 494.5C1352.7 495.0 1357.4 496.7 1360.6 497.5C1363.9 498.4 1367.2 499.1 1370.4 499.6C1373.7 500.2 1377.0 500.5 1380.2 500.8C1383.5 501.0 1386.6 501.0 1389.8 501.0C1393.0 501.1 1396.3 501.1 1399.6 501.1C1402.9 501.1 1406.2 501.1 1409.5 501.1C1412.7 501.1 1416.0 501.1 1419.3 501.1C1422.6 501.1 1425.9 501.1 1429.1 501.1C1432.4 501.1 1435.7 501.1 1439.0 501.1C1442.3 501.1 1445.5 501.1 1448.8 501.1C1452.1 501.1 1455.4 501.1 1458.7 501.1C1461.9 501.1 1465.2 501.1 1468.5 501.1C1471.8 501.1 1475.1 501.1 1478.3 501.1C1481.6 501.2 1485.0 501.2 1488.2 501.5C1491.4 501.7 1494.3 501.8 1497.5 502.6C1500.7 503.5 1504.2 504.9 1507.5 506.6C1510.8 508.3 1514.1 510.5 1517.3 512.7C1520.6 514.8 1523.9 517.1 1527.1 519.7C1530.3 522.3 1533.5 525.4 1536.7 528.3C1539.9 531.2 1543.2 534.3 1546.5 536.9C1549.8 539.6 1553.2 542.0 1556.5 544.1C1559.8 546.3 1563.1 548.3 1566.3 550.0C1569.5 551.7 1572.4 553.0 1575.6 554.4C1578.8 555.8 1582.3 557.0 1585.6 558.1C1588.9 559.2 1592.2 560.1 1595.4 560.9C1598.7 561.8 1601.9 562.7 1605.2 563.3C1608.5 563.8 1613.6 564.2 1615.3 564.4" fill="none" stroke="#ee11dd" stroke-width="0.9"/><circle cx="1351.1" cy="494.5" r="1.8" fill="#ee11dd" stroke="#ee11dd" stroke-width="0.7"/><circle cx="1361.0" cy="497.6" r="1.8" fill="#ee11dd" stroke="#ee11dd" stroke-width="0.7"/><circle cx="1370.8" cy="499.7" r="1.8" fill="#ee11dd" stroke="#ee11dd" stroke-width="0.7"/><circle cx="1380.7" cy="500.8" r="1.8" fill="#ee11dd" stroke="#ee11dd" stroke-width="0.7"/><circle cx="1390.6" cy="501.0" r="1.8" fill="#ee11dd" stroke="#ee11dd" stroke-width="0.7"/><circle cx="1400.5" cy="501.1" r="1.8" fill="#ee11dd" stroke="#ee11dd" stroke-width="0.7"/><circle cx="1410.3" cy="501.1" r="1.8" fill="#ee11dd" stroke="#ee11dd" stroke-width="0.7"/><circle cx="1420.2" cy="501.1" r="1.8" fill="#ee11dd" stroke="#ee11dd" stroke-width="0.7"/><circle cx="1430.1" cy="501.1" r="1.8" fill="#ee11dd" stroke="#ee11dd" stroke-width="0.7"/><circle cx="1440.0" cy="501.1" r="1.8" fill="#ee11dd" stroke="#ee11dd" stroke-width="0.7"/><circle cx="1449.8" cy="501.1" r="1.8" fill="#ee11dd" stroke="#ee11dd" stroke-width="0.7"/><circle cx="1459.7" cy="501.1" r="1.8" fill="#ee11dd" stroke="#ee11dd" stroke-width="0.7"/><circle cx="1469.6" cy="501.1" r="1.8" fill="#ee11dd" stroke="#ee11dd" stroke-width="0.7"/><circle cx="1479.4" cy="501.1" r="1.8" fill="#ee11dd" stroke="#ee11dd" stroke-width="0.7"/><circle cx="1489.3" cy="501.6" r="1.8" fill="#ee11dd" stroke="#ee11dd" stroke-width="0.7"/><circle cx="1499.2" cy="503.1" r="1.8" fill="#ee11dd" stroke="#ee11dd" stroke-width="0.7"/><circle cx="1509.1" cy="507.4" r="1.8" fill="#ee11dd" stroke="#ee11dd" stroke-width="0.7"/><circle cx="1518.9" cy="513.8" r="1.8" fill="#ee11dd" stroke="#ee11dd" stroke-width="0.7"/><circle cx="1528.8" cy="521.1" r="1.8" fill="#ee11dd" stroke="#ee11dd" stroke-width="0.7"/><circle cx="1538.7" cy="530.1" r="1.8" fill="#ee11dd" stroke="#ee11dd" stroke-width="0.7"/><circle cx="1548.6" cy="538.6" r="1.8" fill="#ee11dd" stroke="#ee11dd" stroke-width="0.7"/><circle cx="1558.4" cy="545.4" r="1.8" fill="#ee11dd" stroke="#ee11dd" stroke-width="0.7"/><circle cx="1568.3" cy="551.0" r="1.8" fill="#ee11dd" stroke="#ee11dd" stroke-width="0.7"/><circle cx="1578.2" cy="555.5" r="1.8" fill="#ee11dd" stroke="#ee11dd" stroke-width="0.7"/><circle cx="1588.1" cy="558.9" r="1.8" fill="#ee11dd" stroke="#ee11dd" stroke-width="0.7"/><circle cx="1597.9" cy="561.6" r="1.8" fill="#ee11dd" stroke="#ee11dd" stroke-width="0.7"/><circle cx="1607.8" cy="563.6" r="1.8" fill="#ee11dd" stroke="#ee11dd" stroke-width="0.7"/>
<path d="M1351.1 491.0C1352.7 491.4 1357.4 492.5 1360.6 493.3C1363.9 494.1 1367.2 494.7 1370.4 495.6C1373.7 496.6 1377.0 498.1 1380.2 499.1C1383.5 500.2 1386.6 501.4 1389.8 502.2C1393.0 503.0 1396.3 503.4 1399.6 503.8C1402.8 504.2 1406.1 504.3 1409.4 504.5C1412.7 504.7 1416.0 504.9 1419.2 505.0C1422.5 505.1 1425.8 505.0 1429.1 505.0C1432.4 505.0 1435.7 505.0 1439.0 505.0C1442.2 505.0 1445.5 505.0 1448.8 505.0C1452.1 505.0 1455.4 505.0 1458.7 505.0C1462.0 505.0 1465.3 505.0 1468.5 505.0C1471.8 505.0 1475.1 505.0 1478.4 505.0C1481.7 505.0 1485.0 505.0 1488.3 505.0C1491.6 505.0 1494.8 505.0 1498.1 505.0C1501.4 505.0 1503.2 504.9 1508.0 505.0C1512.8 505.1 1522.3 505.1 1527.1 505.4C1531.9 505.8 1533.5 506.3 1536.7 507.3C1539.9 508.3 1543.2 509.8 1546.5 511.5C1549.8 513.3 1553.2 515.4 1556.5 517.8C1559.8 520.2 1563.1 523.4 1566.3 526.0C1569.5 528.6 1572.4 531.1 1575.6 533.4C1578.8 535.7 1582.3 537.9 1585.6 539.9C1588.9 542.0 1592.2 544.0 1595.4 545.8C1598.7 547.5 1601.9 549.2 1605.2 550.4C1608.5 551.7 1613.6 553.0 1615.3 553.5" fill="none" stroke="#000000" stroke-width="0.9"/><path d="M1351.1 488.8L1353.1 492.6L1349.1 492.6z" fill="#000000" stroke="#000000" stroke-width="0.7"/><path d="M1361.0 491.2L1363.0 495.0L1359.0 495.0z" fill="#000000" stroke="#000000" stroke-width="0.7"/><path d="M1370.8 493.6L1372.8 497.4L1368.8 497.4z" fill="#000000" stroke="#000000" stroke-width="0.7"/><path d="M1380.7 497.1L1382.7 500.9L1378.7 500.9z" fill="#000000" stroke="#000000" stroke-width="0.7"/><path d="M1390.6 500.2L1392.6 504.0L1388.6 504.0z" fill="#000000" stroke="#000000" stroke-width="0.7"/><path d="M1400.5 501.7L1402.5 505.5L1398.5 505.5z" fill="#000000" stroke="#000000" stroke-width="0.7"/><path d="M1410.3 502.4L1412.3 506.2L1408.3 506.2z" fill="#000000" stroke="#000000" stroke-width="0.7"/><path d="M1420.2 502.8L1422.2 506.6L1418.2 506.6z" fill="#000000" stroke="#000000" stroke-width="0.7"/><path d="M1430.1 502.8L1432.1 506.6L1428.1 506.6z" fill="#000000" stroke="#000000" stroke-width="0.7"/><path d="M1440.0 502.8L1442.0 506.6L1438.0 506.6z" fill="#000000" stroke="#000000" stroke-width="0.7"/><path d="M1449.8 502.8L1451.8 506.6L1447.8 506.6z" fill="#000000" stroke="#000000" stroke-width="0.7"/><path d="M1459.7 502.8L1461.7 506.6L1457.7 506.6z" fill="#000000" stroke="#000000" stroke-width="0.7"/><path d="M1469.6 502.8L1471.6 506.6L1467.6 506.6z" fill="#000000" stroke="#000000" stroke-width="0.7"/><path d="M1479.4 502.8L1481.4 506.6L1477.4 506.6z" fill="#000000" stroke="#000000" stroke-width="0.7"/><path d="M1489.3 502.8L1491.3 506.6L1487.3 506.6z" fill="#000000" stroke="#000000" stroke-width="0.7"/><path d="M1499.2 502.8L1501.2 506.6L1497.2 506.6z" fill="#000000" stroke="#000000" stroke-width="0.7"/><path d="M1509.1 502.8L1511.1 506.6L1507.1 506.6z" fill="#000000" stroke="#000000" stroke-width="0.7"/><path d="M1518.9 502.9L1520.9 506.7L1516.9 506.7z" fill="#000000" stroke="#000000" stroke-width="0.7"/><path d="M1528.8 503.4L1530.8 507.2L1526.8 507.2z" fill="#000000" stroke="#000000" stroke-width="0.7"/><path d="M1538.7 505.8L1540.7 509.6L1536.7 509.6z" fill="#000000" stroke="#000000" stroke-width="0.7"/><path d="M1548.6 510.5L1550.6 514.3L1546.6 514.3z" fill="#000000" stroke="#000000" stroke-width="0.7"/><path d="M1558.4 517.1L1560.4 520.9L1556.4 520.9z" fill="#000000" stroke="#000000" stroke-width="0.7"/><path d="M1568.3 525.4L1570.3 529.2L1566.3 529.2z" fill="#000000" stroke="#000000" stroke-width="0.7"/><path d="M1578.2 533.0L1580.2 536.8L1576.2 536.8z" fill="#000000" stroke="#000000" stroke-width="0.7"/><path d="M1588.1 539.3L1590.1 543.1L1586.1 543.1z" fill="#000000" stroke="#000000" stroke-width="0.7"/><path d="M1597.9 544.9L1599.9 548.7L1595.9 548.7z" fill="#000000" stroke="#000000" stroke-width="0.7"/><path d="M1607.8 549.1L1609.8 552.9L1605.8 552.9z" fill="#000000" stroke="#000000" stroke-width="0.7"/>
</g>
<text x="1562.3" y="520.1" font-size="8.6" fill="#000000" transform="rotate(32 1562.3 520.1)">280K</text>
<text x="1537.1" y="525.5" font-size="8.6" fill="#ee11dd" transform="rotate(36 1537.1 525.5)">274K</text>
<text x="1500.5" y="532.5" font-size="8.6" fill="#1111dd" transform="rotate(36 1500.5 532.5)">268K</text>
<text x="1458.3" y="546.5" font-size="8.6" fill="#ee1111" transform="rotate(33 1458.3 546.5)">262K</text>
<text x="1409.6" y="565.1" font-size="8.6" fill="#00dd00" transform="rotate(22 1409.6 565.1)">256K</text>
<text x="1393.8" y="589.4" font-size="8.6" fill="#ee11dd">250K</text>
<rect x="1578.4" y="605.7" width="21" height="8" fill="#fff"/>
<text x="1579.1" y="612.7" font-size="8.6" fill="#00dddd">195K</text>
<text x="1497.5" y="620.4" font-size="8.6" fill="#000000">153K</text>
<text x="1597.3" y="503.3" font-size="9.5" fill="#000">(a)</text>
<rect x="1347.6" y="485.9" width="267.7" height="138.0" fill="none" stroke="#000" stroke-width="1.1"/>
<path d="M1387.0 623.9V620.1M1387.0 485.9V489.7M1457.6 623.9V620.1M1457.6 485.9V489.7M1528.2 623.9V620.1M1528.2 485.9V489.7M1598.8 623.9V620.1M1598.8 485.9V489.7" stroke="#000" stroke-width="0.9" fill="none"/>
<path d="M1351.7 623.9V621.7M1351.7 485.9V488.1M1422.3 623.9V621.7M1422.3 485.9V488.1M1492.9 623.9V621.7M1492.9 485.9V488.1M1563.5 623.9V621.7M1563.5 485.9V488.1" stroke="#000" stroke-width="0.9" fill="none"/>
<path d="M1347.6 491.4H1351.4M1615.3 491.4H1611.5M1347.6 517.3H1351.4M1615.3 517.3H1611.5M1347.6 553.2H1351.4M1615.3 553.2H1611.5M1347.6 614.6H1351.4M1615.3 614.6H1611.5" stroke="#000" stroke-width="0.9" fill="none"/>
<path d="M1347.6 589.0H1349.8M1615.3 589.0H1613.1M1347.6 569.2H1349.8M1615.3 569.2H1613.1M1347.6 539.3H1349.8M1615.3 539.3H1613.1M1347.6 527.4H1349.8M1615.3 527.4H1613.1M1347.6 507.6H1349.8M1615.3 507.6H1613.1M1347.6 499.1H1349.8M1615.3 499.1H1613.1" stroke="#000" stroke-width="0.9" fill="none"/>
<text x="1342.6" y="496.0" font-size="13.0" fill="#000" text-anchor="end">12</text>
<text x="1342.6" y="521.9" font-size="13.0" fill="#000" text-anchor="end">9</text>
<text x="1342.6" y="557.8" font-size="13.0" fill="#000" text-anchor="end">6</text>
<text x="1342.6" y="619.2" font-size="13.0" fill="#000" text-anchor="end">3</text>
<text x="1314.0" y="559.0" font-size="15" fill="#000" transform="rotate(-90 1314.0 559.0)" class="s">ε'</text>
<g clip-path="url(#c1b)">
<path d="M1370.0 783.9C1371.7 783.9 1376.9 783.8 1380.2 783.9C1383.5 784.0 1386.6 784.7 1389.8 784.6C1393.0 784.4 1396.3 783.6 1399.6 782.9C1402.8 782.3 1406.1 781.4 1409.4 780.6C1412.7 779.8 1416.1 779.3 1419.4 778.3C1422.7 777.3 1425.9 776.0 1429.2 774.6C1432.5 773.2 1436.0 771.4 1439.2 769.9C1442.4 768.3 1445.4 766.7 1448.5 765.2C1451.7 763.8 1455.0 762.4 1458.3 761.0C1461.6 759.7 1465.0 758.4 1468.4 757.1C1471.7 755.7 1475.1 754.2 1478.4 753.1C1481.7 752.0 1485.0 751.4 1488.2 750.5C1491.4 749.6 1494.3 748.5 1497.5 747.7C1500.7 747.0 1504.2 746.4 1507.5 745.9C1510.8 745.4 1514.1 745.0 1517.3 744.7C1520.6 744.4 1523.8 744.4 1527.1 744.2C1530.4 744.1 1533.9 744.0 1537.1 744.0C1540.4 744.0 1543.2 744.1 1546.5 744.2C1549.7 744.4 1553.2 744.4 1556.5 744.7C1559.8 745.0 1563.1 745.5 1566.3 746.1C1569.5 746.7 1572.4 747.7 1575.6 748.4C1578.8 749.2 1582.3 750.0 1585.6 750.5C1588.9 751.1 1592.2 751.4 1595.4 751.7C1598.7 752.1 1601.9 752.4 1605.2 752.6C1608.5 752.9 1613.6 753.0 1615.3 753.1" fill="none" stroke="#000000" stroke-width="0.9"/><circle cx="1370.0" cy="783.9" r="1.8" fill="#fff" stroke="#000000" stroke-width="0.7"/><circle cx="1379.8" cy="783.9" r="1.8" fill="#fff" stroke="#000000" stroke-width="0.7"/><circle cx="1389.7" cy="784.6" r="1.8" fill="#fff" stroke="#000000" stroke-width="0.7"/><circle cx="1399.6" cy="782.9" r="1.8" fill="#fff" stroke="#000000" stroke-width="0.7"/><circle cx="1409.5" cy="780.6" r="1.8" fill="#fff" stroke="#000000" stroke-width="0.7"/><circle cx="1419.3" cy="778.3" r="1.8" fill="#fff" stroke="#000000" stroke-width="0.7"/><circle cx="1429.2" cy="774.5" r="1.8" fill="#fff" stroke="#000000" stroke-width="0.7"/><circle cx="1439.1" cy="770.0" r="1.8" fill="#fff" stroke="#000000" stroke-width="0.7"/><circle cx="1449.0" cy="765.0" r="1.8" fill="#fff" stroke="#000000" stroke-width="0.7"/><circle cx="1458.8" cy="760.8" r="1.8" fill="#fff" stroke="#000000" stroke-width="0.7"/><circle cx="1468.7" cy="756.9" r="1.8" fill="#fff" stroke="#000000" stroke-width="0.7"/><circle cx="1478.6" cy="753.0" r="1.8" fill="#fff" stroke="#000000" stroke-width="0.7"/><circle cx="1488.5" cy="750.5" r="1.8" fill="#fff" stroke="#000000" stroke-width="0.7"/><circle cx="1498.3" cy="747.5" r="1.8" fill="#fff" stroke="#000000" stroke-width="0.7"/><circle cx="1508.2" cy="745.8" r="1.8" fill="#fff" stroke="#000000" stroke-width="0.7"/><circle cx="1518.1" cy="744.7" r="1.8" fill="#fff" stroke="#000000" stroke-width="0.7"/><circle cx="1528.0" cy="744.2" r="1.8" fill="#fff" stroke="#000000" stroke-width="0.7"/><circle cx="1537.8" cy="744.0" r="1.8" fill="#fff" stroke="#000000" stroke-width="0.7"/><circle cx="1547.7" cy="744.3" r="1.8" fill="#fff" stroke="#000000" stroke-width="0.7"/><circle cx="1557.6" cy="744.8" r="1.8" fill="#fff" stroke="#000000" stroke-width="0.7"/><circle cx="1567.5" cy="746.4" r="1.8" fill="#fff" stroke="#000000" stroke-width="0.7"/><circle cx="1577.3" cy="748.8" r="1.8" fill="#fff" stroke="#000000" stroke-width="0.7"/><circle cx="1587.2" cy="750.8" r="1.8" fill="#fff" stroke="#000000" stroke-width="0.7"/><circle cx="1597.1" cy="751.9" r="1.8" fill="#fff" stroke="#000000" stroke-width="0.7"/><circle cx="1607.0" cy="752.7" r="1.8" fill="#fff" stroke="#000000" stroke-width="0.7"/>
<path d="M1359.9 808.6C1361.6 806.7 1366.6 800.4 1370.0 797.4C1373.4 794.4 1376.9 792.5 1380.2 790.4C1383.5 788.3 1386.6 786.0 1389.8 784.6C1393.0 783.1 1396.3 782.4 1399.6 781.8C1402.8 781.1 1406.1 781.0 1409.4 780.6C1412.7 780.2 1416.1 779.5 1419.4 779.5C1422.7 779.5 1425.9 780.3 1429.2 780.6C1432.5 781.0 1436.0 781.3 1439.2 781.6C1442.4 781.8 1445.4 782.1 1448.5 782.2C1451.7 782.4 1455.0 782.3 1458.3 782.2C1461.6 782.2 1465.0 782.2 1468.4 781.8C1471.7 781.4 1475.1 780.9 1478.4 779.9C1481.7 778.9 1485.0 777.5 1488.2 776.0C1491.4 774.4 1494.3 772.5 1497.5 770.6C1500.7 768.7 1504.2 766.7 1507.5 764.8C1510.8 762.8 1514.1 760.6 1517.3 758.7C1520.6 756.8 1523.8 754.8 1527.1 753.1C1530.4 751.4 1533.9 749.9 1537.1 748.4C1540.4 747.0 1543.2 745.5 1546.5 744.2C1549.7 743.0 1553.2 741.8 1556.5 740.7C1559.8 739.7 1563.1 738.5 1566.3 738.0C1569.5 737.4 1572.4 737.4 1575.6 737.3C1578.8 737.1 1582.3 736.9 1585.6 736.8C1588.9 736.7 1592.2 736.9 1595.4 736.8C1598.7 736.7 1601.9 736.4 1605.2 736.1C1608.5 735.8 1613.6 735.1 1615.3 734.9" fill="none" stroke="#f08a1e" stroke-width="0.9"/><rect x="1358.3" y="807.0" width="3.2" height="3.2" fill="#fff" stroke="#f08a1e" stroke-width="0.7"/><rect x="1368.2" y="795.9" width="3.2" height="3.2" fill="#fff" stroke="#f08a1e" stroke-width="0.7"/><rect x="1378.1" y="789.2" width="3.2" height="3.2" fill="#fff" stroke="#f08a1e" stroke-width="0.7"/><rect x="1388.0" y="783.1" width="3.2" height="3.2" fill="#fff" stroke="#f08a1e" stroke-width="0.7"/><rect x="1397.8" y="780.2" width="3.2" height="3.2" fill="#fff" stroke="#f08a1e" stroke-width="0.7"/><rect x="1407.7" y="779.0" width="3.2" height="3.2" fill="#fff" stroke="#f08a1e" stroke-width="0.7"/><rect x="1417.6" y="777.9" width="3.2" height="3.2" fill="#fff" stroke="#f08a1e" stroke-width="0.7"/><rect x="1427.5" y="779.0" width="3.2" height="3.2" fill="#fff" stroke="#f08a1e" stroke-width="0.7"/><rect x="1437.3" y="779.9" width="3.2" height="3.2" fill="#fff" stroke="#f08a1e" stroke-width="0.7"/><rect x="1447.2" y="780.7" width="3.2" height="3.2" fill="#fff" stroke="#f08a1e" stroke-width="0.7"/><rect x="1457.1" y="780.6" width="3.2" height="3.2" fill="#fff" stroke="#f08a1e" stroke-width="0.7"/><rect x="1467.0" y="780.2" width="3.2" height="3.2" fill="#fff" stroke="#f08a1e" stroke-width="0.7"/><rect x="1476.8" y="778.3" width="3.2" height="3.2" fill="#fff" stroke="#f08a1e" stroke-width="0.7"/><rect x="1486.7" y="774.3" width="3.2" height="3.2" fill="#fff" stroke="#f08a1e" stroke-width="0.7"/><rect x="1496.6" y="768.6" width="3.2" height="3.2" fill="#fff" stroke="#f08a1e" stroke-width="0.7"/><rect x="1506.5" y="762.8" width="3.2" height="3.2" fill="#fff" stroke="#f08a1e" stroke-width="0.7"/><rect x="1516.3" y="756.7" width="3.2" height="3.2" fill="#fff" stroke="#f08a1e" stroke-width="0.7"/><rect x="1526.2" y="751.2" width="3.2" height="3.2" fill="#fff" stroke="#f08a1e" stroke-width="0.7"/><rect x="1536.1" y="746.6" width="3.2" height="3.2" fill="#fff" stroke="#f08a1e" stroke-width="0.7"/><rect x="1546.0" y="742.2" width="3.2" height="3.2" fill="#fff" stroke="#f08a1e" stroke-width="0.7"/><rect x="1555.8" y="738.8" width="3.2" height="3.2" fill="#fff" stroke="#f08a1e" stroke-width="0.7"/><rect x="1565.7" y="736.2" width="3.2" height="3.2" fill="#fff" stroke="#f08a1e" stroke-width="0.7"/><rect x="1575.6" y="735.6" width="3.2" height="3.2" fill="#fff" stroke="#f08a1e" stroke-width="0.7"/><rect x="1585.5" y="735.2" width="3.2" height="3.2" fill="#fff" stroke="#f08a1e" stroke-width="0.7"/><rect x="1595.3" y="735.1" width="3.2" height="3.2" fill="#fff" stroke="#f08a1e" stroke-width="0.7"/><rect x="1605.2" y="734.3" width="3.2" height="3.2" fill="#fff" stroke="#f08a1e" stroke-width="0.7"/>
<path d="M1379.8 818.4C1381.4 817.0 1386.5 812.9 1389.8 810.2C1393.1 807.5 1396.3 804.6 1399.6 802.1C1402.8 799.5 1406.1 797.4 1409.4 795.1C1412.7 792.7 1416.1 790.0 1419.4 788.1C1422.7 786.1 1425.9 784.5 1429.2 783.4C1432.5 782.3 1436.0 781.7 1439.2 781.6C1442.4 781.4 1445.4 782.0 1448.5 782.2C1451.7 782.5 1455.0 782.9 1458.3 782.9C1461.6 783.0 1465.0 782.8 1468.4 782.7C1471.7 782.6 1475.1 782.6 1478.4 782.2C1481.7 781.9 1485.0 781.4 1488.2 780.6C1491.4 779.8 1494.3 778.8 1497.5 777.6C1500.7 776.4 1504.2 775.2 1507.5 773.6C1510.8 772.1 1514.1 770.1 1517.3 768.3C1520.6 766.4 1523.8 764.3 1527.1 762.4C1530.4 760.6 1533.9 758.9 1537.1 757.1C1540.4 755.2 1543.2 753.1 1546.5 751.2C1549.7 749.4 1553.2 747.7 1556.5 746.1C1559.8 744.5 1563.1 742.8 1566.3 741.4C1569.5 740.0 1572.4 738.8 1575.6 737.7C1578.8 736.6 1582.3 735.7 1585.6 734.9C1588.9 734.1 1592.2 733.8 1595.4 733.1C1598.7 732.4 1601.9 731.6 1605.2 730.7C1608.5 729.9 1613.6 728.4 1615.3 727.9" fill="none" stroke="#00dddd" stroke-width="0.9"/><path d="M1379.8 820.6L1381.8 816.8L1377.8 816.8z" fill="#fff" stroke="#00dddd" stroke-width="0.7"/><path d="M1389.6 812.6L1391.6 808.8L1387.6 808.8z" fill="#fff" stroke="#00dddd" stroke-width="0.7"/><path d="M1399.5 804.3L1401.5 800.5L1397.5 800.5z" fill="#fff" stroke="#00dddd" stroke-width="0.7"/><path d="M1409.4 797.3L1411.4 793.5L1407.4 793.5z" fill="#fff" stroke="#00dddd" stroke-width="0.7"/><path d="M1419.3 790.4L1421.3 786.6L1417.3 786.6z" fill="#fff" stroke="#00dddd" stroke-width="0.7"/><path d="M1429.1 785.6L1431.1 781.8L1427.1 781.8z" fill="#fff" stroke="#00dddd" stroke-width="0.7"/><path d="M1439.0 783.8L1441.0 780.0L1437.0 780.0z" fill="#fff" stroke="#00dddd" stroke-width="0.7"/><path d="M1448.9 784.5L1450.9 780.7L1446.9 780.7z" fill="#fff" stroke="#00dddd" stroke-width="0.7"/><path d="M1458.8 785.2L1460.8 781.4L1456.8 781.4z" fill="#fff" stroke="#00dddd" stroke-width="0.7"/><path d="M1468.6 784.9L1470.6 781.1L1466.6 781.1z" fill="#fff" stroke="#00dddd" stroke-width="0.7"/><path d="M1478.5 784.4L1480.5 780.6L1476.5 780.6z" fill="#fff" stroke="#00dddd" stroke-width="0.7"/><path d="M1488.4 782.8L1490.4 779.0L1486.4 779.0z" fill="#fff" stroke="#00dddd" stroke-width="0.7"/><path d="M1498.3 779.5L1500.3 775.7L1496.3 775.7z" fill="#fff" stroke="#00dddd" stroke-width="0.7"/><path d="M1508.1 775.5L1510.1 771.7L1506.1 771.7z" fill="#fff" stroke="#00dddd" stroke-width="0.7"/><path d="M1518.0 770.1L1520.0 766.3L1516.0 766.3z" fill="#fff" stroke="#00dddd" stroke-width="0.7"/><path d="M1527.9 764.2L1529.9 760.4L1525.9 760.4z" fill="#fff" stroke="#00dddd" stroke-width="0.7"/><path d="M1537.8 758.9L1539.8 755.1L1535.8 755.1z" fill="#fff" stroke="#00dddd" stroke-width="0.7"/><path d="M1547.6 752.8L1549.6 749.0L1545.6 749.0z" fill="#fff" stroke="#00dddd" stroke-width="0.7"/><path d="M1557.5 747.8L1559.5 744.0L1555.5 744.0z" fill="#fff" stroke="#00dddd" stroke-width="0.7"/><path d="M1567.4 743.2L1569.4 739.4L1565.4 739.4z" fill="#fff" stroke="#00dddd" stroke-width="0.7"/><path d="M1577.2 739.4L1579.2 735.6L1575.2 735.6z" fill="#fff" stroke="#00dddd" stroke-width="0.7"/><path d="M1587.1 736.8L1589.1 733.0L1585.1 733.0z" fill="#fff" stroke="#00dddd" stroke-width="0.7"/><path d="M1597.0 734.9L1599.0 731.1L1595.0 731.1z" fill="#fff" stroke="#00dddd" stroke-width="0.7"/><path d="M1606.9 732.5L1608.9 728.7L1604.9 728.7z" fill="#fff" stroke="#00dddd" stroke-width="0.7"/>
<path d="M1399.1 830.0C1400.8 829.9 1406.0 830.0 1409.4 829.3C1412.8 828.6 1416.1 827.2 1419.4 825.8C1422.7 824.5 1425.9 823.1 1429.2 821.2C1432.5 819.2 1436.0 816.6 1439.2 814.2C1442.4 811.8 1445.4 809.3 1448.5 806.7C1451.7 804.1 1455.0 800.9 1458.3 798.6C1461.6 796.2 1465.0 794.6 1468.4 792.7C1471.7 790.9 1475.1 788.9 1478.4 787.6C1481.7 786.4 1485.0 785.9 1488.2 785.3C1491.4 784.7 1494.3 784.4 1497.5 784.1C1500.7 783.8 1504.2 783.6 1507.5 783.4C1510.8 783.2 1514.1 783.2 1517.3 782.7C1520.6 782.2 1523.9 781.4 1527.1 780.4C1530.3 779.3 1533.5 778.0 1536.7 776.4C1539.9 774.9 1543.2 772.9 1546.5 771.1C1549.8 769.2 1553.2 767.4 1556.5 765.2C1559.8 763.0 1563.1 760.3 1566.3 757.8C1569.5 755.2 1572.4 752.4 1575.6 750.1C1578.8 747.7 1582.3 745.8 1585.6 743.8C1588.9 741.7 1592.2 739.7 1595.4 737.7C1598.7 735.8 1601.9 733.6 1605.2 732.1C1608.5 730.7 1613.6 729.6 1615.3 729.1" fill="none" stroke="#1111dd" stroke-width="0.9"/><path d="M1399.1 827.7L1401.4 830.0L1399.1 832.3L1396.8 830.0z" fill="#fff" stroke="#1111dd" stroke-width="0.7"/><path d="M1409.0 827.1L1411.3 829.4L1409.0 831.7L1406.7 829.4z" fill="#fff" stroke="#1111dd" stroke-width="0.7"/><path d="M1418.9 823.8L1421.2 826.1L1418.9 828.4L1416.6 826.1z" fill="#fff" stroke="#1111dd" stroke-width="0.7"/><path d="M1428.7 819.2L1431.0 821.5L1428.7 823.8L1426.4 821.5z" fill="#fff" stroke="#1111dd" stroke-width="0.7"/><path d="M1438.6 812.3L1440.9 814.6L1438.6 816.9L1436.3 814.6z" fill="#fff" stroke="#1111dd" stroke-width="0.7"/><path d="M1448.5 804.5L1450.8 806.8L1448.5 809.1L1446.2 806.8z" fill="#fff" stroke="#1111dd" stroke-width="0.7"/><path d="M1458.4 796.3L1460.7 798.6L1458.4 800.9L1456.1 798.6z" fill="#fff" stroke="#1111dd" stroke-width="0.7"/><path d="M1468.2 790.5L1470.5 792.8L1468.2 795.1L1465.9 792.8z" fill="#fff" stroke="#1111dd" stroke-width="0.7"/><path d="M1478.1 785.4L1480.4 787.7L1478.1 790.0L1475.8 787.7z" fill="#fff" stroke="#1111dd" stroke-width="0.7"/><path d="M1488.0 783.0L1490.3 785.3L1488.0 787.6L1485.7 785.3z" fill="#fff" stroke="#1111dd" stroke-width="0.7"/><path d="M1497.9 781.8L1500.2 784.1L1497.9 786.4L1495.6 784.1z" fill="#fff" stroke="#1111dd" stroke-width="0.7"/><path d="M1507.7 781.1L1510.0 783.4L1507.7 785.7L1505.4 783.4z" fill="#fff" stroke="#1111dd" stroke-width="0.7"/><path d="M1517.6 780.4L1519.9 782.7L1517.6 785.0L1515.3 782.7z" fill="#fff" stroke="#1111dd" stroke-width="0.7"/><path d="M1527.5 778.0L1529.8 780.3L1527.5 782.6L1525.2 780.3z" fill="#fff" stroke="#1111dd" stroke-width="0.7"/><path d="M1537.4 773.8L1539.7 776.1L1537.4 778.4L1535.1 776.1z" fill="#fff" stroke="#1111dd" stroke-width="0.7"/><path d="M1547.2 768.3L1549.5 770.6L1547.2 772.9L1544.9 770.6z" fill="#fff" stroke="#1111dd" stroke-width="0.7"/><path d="M1557.1 762.5L1559.4 764.8L1557.1 767.1L1554.8 764.8z" fill="#fff" stroke="#1111dd" stroke-width="0.7"/><path d="M1567.0 754.9L1569.3 757.2L1567.0 759.5L1564.7 757.2z" fill="#fff" stroke="#1111dd" stroke-width="0.7"/><path d="M1576.9 746.9L1579.2 749.2L1576.9 751.5L1574.6 749.2z" fill="#fff" stroke="#1111dd" stroke-width="0.7"/><path d="M1586.7 740.8L1589.0 743.1L1586.7 745.4L1584.4 743.1z" fill="#fff" stroke="#1111dd" stroke-width="0.7"/><path d="M1596.6 734.7L1598.9 737.0L1596.6 739.3L1594.3 737.0z" fill="#fff" stroke="#1111dd" stroke-width="0.7"/><path d="M1606.5 729.3L1608.8 731.6L1606.5 733.9L1604.2 731.6z" fill="#fff" stroke="#1111dd" stroke-width="0.7"/>
<path d="M1351.1 711.1C1352.7 712.8 1357.4 717.7 1360.6 720.9C1363.9 724.2 1367.2 727.6 1370.4 730.7C1373.7 733.8 1377.0 736.7 1380.2 739.6C1383.5 742.4 1386.6 745.1 1389.8 747.7C1393.0 750.4 1396.3 752.8 1399.6 755.4C1402.8 758.0 1406.1 760.8 1409.4 763.4C1412.7 766.0 1416.1 768.6 1419.4 771.1C1422.7 773.5 1425.9 775.9 1429.2 778.1C1432.5 780.2 1436.0 781.8 1439.2 783.9C1442.4 785.9 1445.4 788.4 1448.5 790.4C1451.7 792.4 1455.0 794.6 1458.3 796.0C1461.6 797.4 1465.0 798.1 1468.4 799.0C1471.7 800.0 1475.1 801.0 1478.4 801.6C1481.7 802.2 1485.0 802.8 1488.2 802.5C1491.4 802.3 1494.3 801.2 1497.5 800.2C1500.7 799.2 1504.2 797.9 1507.5 796.7C1510.8 795.5 1514.1 794.1 1517.3 792.7C1520.6 791.4 1523.9 789.8 1527.1 788.5C1530.3 787.3 1533.5 786.4 1536.7 785.3C1539.9 784.1 1543.2 782.8 1546.5 781.6C1549.8 780.3 1553.2 778.9 1556.5 777.6C1559.8 776.3 1563.1 775.0 1566.3 773.6C1569.5 772.3 1572.4 771.3 1575.6 769.4C1578.8 767.6 1582.3 765.1 1585.6 762.4C1588.9 759.8 1592.2 756.6 1595.4 753.6C1598.7 750.5 1601.9 747.2 1605.2 744.2C1608.5 741.3 1613.6 737.4 1615.3 736.1" fill="none" stroke="#ee11dd" stroke-width="0.9"/><path d="M1353.3 711.1L1349.5 709.1L1349.5 713.1z" fill="#fff" stroke="#ee11dd" stroke-width="0.7"/><path d="M1363.2 721.2L1359.4 719.2L1359.4 723.2z" fill="#fff" stroke="#ee11dd" stroke-width="0.7"/><path d="M1373.0 731.1L1369.2 729.1L1369.2 733.1z" fill="#fff" stroke="#ee11dd" stroke-width="0.7"/><path d="M1382.9 740.0L1379.1 738.0L1379.1 742.0z" fill="#fff" stroke="#ee11dd" stroke-width="0.7"/><path d="M1392.8 748.4L1389.0 746.4L1389.0 750.4z" fill="#fff" stroke="#ee11dd" stroke-width="0.7"/><path d="M1402.7 756.1L1398.9 754.1L1398.9 758.1z" fill="#fff" stroke="#ee11dd" stroke-width="0.7"/><path d="M1412.5 764.1L1408.7 762.1L1408.7 766.1z" fill="#fff" stroke="#ee11dd" stroke-width="0.7"/><path d="M1422.4 771.7L1418.6 769.7L1418.6 773.7z" fill="#fff" stroke="#ee11dd" stroke-width="0.7"/><path d="M1432.3 778.6L1428.5 776.6L1428.5 780.6z" fill="#fff" stroke="#ee11dd" stroke-width="0.7"/><path d="M1442.2 784.4L1438.4 782.4L1438.4 786.4z" fill="#fff" stroke="#ee11dd" stroke-width="0.7"/><path d="M1452.0 791.2L1448.2 789.2L1448.2 793.2z" fill="#fff" stroke="#ee11dd" stroke-width="0.7"/><path d="M1461.9 796.6L1458.1 794.6L1458.1 798.6z" fill="#fff" stroke="#ee11dd" stroke-width="0.7"/><path d="M1471.8 799.4L1468.0 797.4L1468.0 801.4z" fill="#fff" stroke="#ee11dd" stroke-width="0.7"/><path d="M1481.6 801.8L1477.8 799.8L1477.8 803.8z" fill="#fff" stroke="#ee11dd" stroke-width="0.7"/><path d="M1491.5 802.4L1487.7 800.4L1487.7 804.4z" fill="#fff" stroke="#ee11dd" stroke-width="0.7"/><path d="M1501.4 799.7L1497.6 797.7L1497.6 801.7z" fill="#fff" stroke="#ee11dd" stroke-width="0.7"/><path d="M1511.3 796.1L1507.5 794.1L1507.5 798.1z" fill="#fff" stroke="#ee11dd" stroke-width="0.7"/><path d="M1521.1 792.1L1517.3 790.1L1517.3 794.1z" fill="#fff" stroke="#ee11dd" stroke-width="0.7"/><path d="M1531.0 787.9L1527.2 785.9L1527.2 789.9z" fill="#fff" stroke="#ee11dd" stroke-width="0.7"/><path d="M1540.9 784.5L1537.1 782.5L1537.1 786.5z" fill="#fff" stroke="#ee11dd" stroke-width="0.7"/><path d="M1550.8 780.7L1547.0 778.7L1547.0 782.7z" fill="#fff" stroke="#ee11dd" stroke-width="0.7"/><path d="M1560.6 776.8L1556.8 774.8L1556.8 778.8z" fill="#fff" stroke="#ee11dd" stroke-width="0.7"/><path d="M1570.5 772.8L1566.7 770.8L1566.7 774.8z" fill="#fff" stroke="#ee11dd" stroke-width="0.7"/><path d="M1580.4 767.8L1576.6 765.8L1576.6 769.8z" fill="#fff" stroke="#ee11dd" stroke-width="0.7"/><path d="M1590.3 760.4L1586.5 758.4L1586.5 762.4z" fill="#fff" stroke="#ee11dd" stroke-width="0.7"/><path d="M1600.1 751.2L1596.3 749.2L1596.3 753.2z" fill="#fff" stroke="#ee11dd" stroke-width="0.7"/><path d="M1610.0 742.0L1606.2 740.0L1606.2 744.0z" fill="#fff" stroke="#ee11dd" stroke-width="0.7"/>
<path d="M1350.6 655.2C1352.3 654.8 1357.3 652.8 1360.6 652.8C1363.9 652.9 1367.2 654.2 1370.4 655.6C1373.7 657.1 1376.9 659.3 1380.2 661.5C1383.5 663.6 1387.0 666.3 1390.3 668.5C1393.5 670.6 1396.4 671.9 1399.6 674.3C1402.8 676.7 1406.1 680.2 1409.4 683.2C1412.7 686.1 1416.1 689.0 1419.4 691.8C1422.7 694.6 1425.9 697.1 1429.2 699.9C1432.5 702.8 1436.0 706.0 1439.2 708.8C1442.4 711.6 1445.2 713.9 1448.5 716.7C1451.8 719.5 1455.7 722.8 1459.0 725.6C1462.3 728.4 1465.1 730.6 1468.4 733.3C1471.6 735.9 1475.1 738.8 1478.4 741.4C1481.7 744.1 1485.0 746.7 1488.2 748.9C1491.4 751.1 1494.2 753.0 1497.5 754.7C1500.8 756.5 1504.7 758.3 1508.0 759.6C1511.3 761.0 1514.0 762.0 1517.3 762.9C1520.6 763.8 1524.5 764.5 1527.8 764.8C1531.1 765.1 1534.0 764.9 1537.1 764.8C1540.3 764.6 1543.4 764.5 1546.5 764.1C1549.6 763.7 1552.5 763.4 1555.8 762.4C1559.1 761.5 1563.0 759.7 1566.3 758.2C1569.6 756.8 1572.5 755.0 1575.6 753.6C1578.7 752.1 1581.6 751.3 1584.9 749.4C1588.2 747.4 1592.1 744.3 1595.4 741.9C1598.7 739.5 1601.5 737.4 1604.8 734.9C1608.1 732.4 1613.5 728.1 1615.3 726.8" fill="none" stroke="#00dd00" stroke-width="0.9"/><path d="M1350.6 652.9L1352.9 655.2L1350.6 657.5L1348.3 655.2z" fill="#00dd00" stroke="#00dd00" stroke-width="0.7"/><path d="M1360.5 650.5L1362.8 652.8L1360.5 655.1L1358.2 652.8z" fill="#00dd00" stroke="#00dd00" stroke-width="0.7"/><path d="M1370.4 653.3L1372.7 655.6L1370.4 657.9L1368.1 655.6z" fill="#00dd00" stroke="#00dd00" stroke-width="0.7"/><path d="M1380.2 659.2L1382.5 661.5L1380.2 663.8L1377.9 661.5z" fill="#00dd00" stroke="#00dd00" stroke-width="0.7"/><path d="M1390.1 666.1L1392.4 668.4L1390.1 670.7L1387.8 668.4z" fill="#00dd00" stroke="#00dd00" stroke-width="0.7"/><path d="M1400.0 672.3L1402.3 674.6L1400.0 676.9L1397.7 674.6z" fill="#00dd00" stroke="#00dd00" stroke-width="0.7"/><path d="M1409.9 681.3L1412.2 683.6L1409.9 685.9L1407.6 683.6z" fill="#00dd00" stroke="#00dd00" stroke-width="0.7"/><path d="M1419.7 689.8L1422.0 692.1L1419.7 694.4L1417.4 692.1z" fill="#00dd00" stroke="#00dd00" stroke-width="0.7"/><path d="M1429.6 698.0L1431.9 700.3L1429.6 702.6L1427.3 700.3z" fill="#00dd00" stroke="#00dd00" stroke-width="0.7"/><path d="M1439.5 706.7L1441.8 709.0L1439.5 711.3L1437.2 709.0z" fill="#00dd00" stroke="#00dd00" stroke-width="0.7"/><path d="M1449.4 715.1L1451.7 717.4L1449.4 719.7L1447.1 717.4z" fill="#00dd00" stroke="#00dd00" stroke-width="0.7"/><path d="M1459.2 723.5L1461.5 725.8L1459.2 728.1L1456.9 725.8z" fill="#00dd00" stroke="#00dd00" stroke-width="0.7"/><path d="M1469.1 731.6L1471.4 733.9L1469.1 736.2L1466.8 733.9z" fill="#00dd00" stroke="#00dd00" stroke-width="0.7"/><path d="M1479.0 739.6L1481.3 741.9L1479.0 744.2L1476.7 741.9z" fill="#00dd00" stroke="#00dd00" stroke-width="0.7"/><path d="M1488.9 747.1L1491.2 749.4L1488.9 751.7L1486.6 749.4z" fill="#00dd00" stroke="#00dd00" stroke-width="0.7"/><path d="M1498.7 753.1L1501.0 755.4L1498.7 757.7L1496.4 755.4z" fill="#00dd00" stroke="#00dd00" stroke-width="0.7"/><path d="M1508.6 757.6L1510.9 759.9L1508.6 762.2L1506.3 759.9z" fill="#00dd00" stroke="#00dd00" stroke-width="0.7"/><path d="M1518.5 760.9L1520.8 763.2L1518.5 765.5L1516.2 763.2z" fill="#00dd00" stroke="#00dd00" stroke-width="0.7"/><path d="M1528.4 762.5L1530.7 764.8L1528.4 767.1L1526.1 764.8z" fill="#00dd00" stroke="#00dd00" stroke-width="0.7"/><path d="M1538.2 762.4L1540.5 764.7L1538.2 767.0L1535.9 764.7z" fill="#00dd00" stroke="#00dd00" stroke-width="0.7"/><path d="M1548.1 761.6L1550.4 763.9L1548.1 766.2L1545.8 763.9z" fill="#00dd00" stroke="#00dd00" stroke-width="0.7"/><path d="M1558.0 759.4L1560.3 761.7L1558.0 764.0L1555.7 761.7z" fill="#00dd00" stroke="#00dd00" stroke-width="0.7"/><path d="M1567.9 755.2L1570.2 757.5L1567.9 759.8L1565.6 757.5z" fill="#00dd00" stroke="#00dd00" stroke-width="0.7"/><path d="M1577.7 750.3L1580.0 752.6L1577.7 754.9L1575.4 752.6z" fill="#00dd00" stroke="#00dd00" stroke-width="0.7"/><path d="M1587.6 745.4L1589.9 747.7L1587.6 750.0L1585.3 747.7z" fill="#00dd00" stroke="#00dd00" stroke-width="0.7"/><path d="M1597.5 738.1L1599.8 740.4L1597.5 742.7L1595.2 740.4z" fill="#00dd00" stroke="#00dd00" stroke-width="0.7"/><path d="M1607.3 730.6L1609.6 732.9L1607.3 735.2L1605.0 732.9z" fill="#00dd00" stroke="#00dd00" stroke-width="0.7"/>
<path d="M1370.0 719.8C1371.6 717.2 1376.5 709.8 1379.8 704.6C1383.1 699.4 1386.5 693.8 1389.8 688.8C1393.1 683.7 1396.4 678.5 1399.6 674.3C1402.8 670.1 1405.6 666.6 1408.9 663.8C1412.2 661.0 1416.0 658.8 1419.4 657.5C1422.8 656.3 1425.9 656.2 1429.2 656.3C1432.5 656.5 1436.0 657.3 1439.2 658.4C1442.4 659.6 1445.2 661.5 1448.5 663.3C1451.8 665.2 1455.7 667.4 1459.0 669.6C1462.3 671.9 1465.1 674.2 1468.4 676.6C1471.6 679.0 1475.1 681.4 1478.4 684.1C1481.7 686.7 1485.0 689.8 1488.2 692.5C1491.4 695.1 1494.2 697.3 1497.5 699.9C1500.8 702.5 1504.7 705.5 1508.0 708.1C1511.3 710.7 1514.0 713.4 1517.3 715.8C1520.6 718.2 1524.5 720.8 1527.8 722.8C1531.1 724.8 1534.0 726.4 1537.1 727.9C1540.3 729.5 1543.4 730.9 1546.5 732.1C1549.6 733.4 1554.2 734.8 1555.8 735.4" fill="none" stroke="#ee1111" stroke-width="0.9"/><path d="M1370.0 722.0L1372.0 718.2L1368.0 718.2z" fill="#ee1111" stroke="#ee1111" stroke-width="0.7"/><path d="M1379.8 706.7L1381.8 702.9L1377.8 702.9z" fill="#ee1111" stroke="#ee1111" stroke-width="0.7"/><path d="M1389.7 691.1L1391.7 687.3L1387.7 687.3z" fill="#ee1111" stroke="#ee1111" stroke-width="0.7"/><path d="M1399.6 676.5L1401.6 672.7L1397.6 672.7z" fill="#ee1111" stroke="#ee1111" stroke-width="0.7"/><path d="M1409.5 665.5L1411.5 661.7L1407.5 661.7z" fill="#ee1111" stroke="#ee1111" stroke-width="0.7"/><path d="M1419.3 659.7L1421.3 655.9L1417.3 655.9z" fill="#ee1111" stroke="#ee1111" stroke-width="0.7"/><path d="M1429.2 658.5L1431.2 654.7L1427.2 654.7z" fill="#ee1111" stroke="#ee1111" stroke-width="0.7"/><path d="M1439.1 660.6L1441.1 656.8L1437.1 656.8z" fill="#ee1111" stroke="#ee1111" stroke-width="0.7"/><path d="M1449.0 665.8L1451.0 662.0L1447.0 662.0z" fill="#ee1111" stroke="#ee1111" stroke-width="0.7"/><path d="M1458.8 671.7L1460.8 667.9L1456.8 667.9z" fill="#ee1111" stroke="#ee1111" stroke-width="0.7"/><path d="M1468.7 679.1L1470.7 675.3L1466.7 675.3z" fill="#ee1111" stroke="#ee1111" stroke-width="0.7"/><path d="M1478.6 686.5L1480.6 682.7L1476.6 682.7z" fill="#ee1111" stroke="#ee1111" stroke-width="0.7"/><path d="M1488.5 694.9L1490.5 691.1L1486.5 691.1z" fill="#ee1111" stroke="#ee1111" stroke-width="0.7"/><path d="M1498.3 702.8L1500.3 699.0L1496.3 699.0z" fill="#ee1111" stroke="#ee1111" stroke-width="0.7"/><path d="M1508.2 710.5L1510.2 706.7L1506.2 706.7z" fill="#ee1111" stroke="#ee1111" stroke-width="0.7"/><path d="M1518.1 718.6L1520.1 714.8L1516.1 714.8z" fill="#ee1111" stroke="#ee1111" stroke-width="0.7"/><path d="M1528.0 725.1L1530.0 721.3L1526.0 721.3z" fill="#ee1111" stroke="#ee1111" stroke-width="0.7"/><path d="M1537.8 730.5L1539.8 726.7L1535.8 726.7z" fill="#ee1111" stroke="#ee1111" stroke-width="0.7"/><path d="M1547.7 734.8L1549.7 731.0L1545.7 731.0z" fill="#ee1111" stroke="#ee1111" stroke-width="0.7"/>
<path d="M1418.9 734.9C1420.6 732.5 1425.9 725.5 1429.2 720.5C1432.5 715.4 1435.3 709.9 1438.5 704.6C1441.7 699.3 1445.2 693.7 1448.5 688.8C1451.8 683.8 1455.0 678.7 1458.3 674.8C1461.6 670.8 1465.0 667.5 1468.4 665.0C1471.7 662.5 1475.2 660.7 1478.4 659.8C1481.6 659.0 1484.5 659.3 1487.7 659.6C1490.9 659.9 1494.2 660.3 1497.5 661.5C1500.8 662.6 1504.2 664.8 1507.5 666.6C1510.8 668.4 1514.1 670.4 1517.3 672.4C1520.6 674.5 1523.9 676.7 1527.1 679.0C1530.3 681.2 1533.5 683.6 1536.7 686.0C1539.9 688.3 1543.2 690.6 1546.5 693.0C1549.8 695.3 1553.2 697.8 1556.5 699.9C1559.8 702.1 1563.1 704.0 1566.3 705.8C1569.5 707.5 1572.4 709.3 1575.6 710.4C1578.8 711.6 1582.3 712.3 1585.6 712.8C1588.9 713.2 1592.2 713.4 1595.4 713.2C1598.7 713.0 1601.9 712.3 1605.2 711.6C1608.5 710.9 1613.6 709.3 1615.3 708.8" fill="none" stroke="#1111dd" stroke-width="0.9"/><rect x="1417.3" y="733.3" width="3.2" height="3.2" fill="#1111dd" stroke="#1111dd" stroke-width="0.7"/><rect x="1427.2" y="719.5" width="3.2" height="3.2" fill="#1111dd" stroke="#1111dd" stroke-width="0.7"/><rect x="1437.1" y="702.7" width="3.2" height="3.2" fill="#1111dd" stroke="#1111dd" stroke-width="0.7"/><rect x="1447.0" y="687.1" width="3.2" height="3.2" fill="#1111dd" stroke="#1111dd" stroke-width="0.7"/><rect x="1456.8" y="673.1" width="3.2" height="3.2" fill="#1111dd" stroke="#1111dd" stroke-width="0.7"/><rect x="1466.7" y="663.4" width="3.2" height="3.2" fill="#1111dd" stroke="#1111dd" stroke-width="0.7"/><rect x="1476.6" y="658.3" width="3.2" height="3.2" fill="#1111dd" stroke="#1111dd" stroke-width="0.7"/><rect x="1486.5" y="658.0" width="3.2" height="3.2" fill="#1111dd" stroke="#1111dd" stroke-width="0.7"/><rect x="1496.3" y="660.0" width="3.2" height="3.2" fill="#1111dd" stroke="#1111dd" stroke-width="0.7"/><rect x="1506.2" y="665.2" width="3.2" height="3.2" fill="#1111dd" stroke="#1111dd" stroke-width="0.7"/><rect x="1516.1" y="671.1" width="3.2" height="3.2" fill="#1111dd" stroke="#1111dd" stroke-width="0.7"/><rect x="1525.9" y="677.7" width="3.2" height="3.2" fill="#1111dd" stroke="#1111dd" stroke-width="0.7"/><rect x="1535.8" y="684.9" width="3.2" height="3.2" fill="#1111dd" stroke="#1111dd" stroke-width="0.7"/><rect x="1545.7" y="691.9" width="3.2" height="3.2" fill="#1111dd" stroke="#1111dd" stroke-width="0.7"/><rect x="1555.6" y="698.8" width="3.2" height="3.2" fill="#1111dd" stroke="#1111dd" stroke-width="0.7"/><rect x="1565.4" y="704.6" width="3.2" height="3.2" fill="#1111dd" stroke="#1111dd" stroke-width="0.7"/><rect x="1575.3" y="709.3" width="3.2" height="3.2" fill="#1111dd" stroke="#1111dd" stroke-width="0.7"/><rect x="1585.2" y="711.3" width="3.2" height="3.2" fill="#1111dd" stroke="#1111dd" stroke-width="0.7"/><rect x="1595.1" y="711.5" width="3.2" height="3.2" fill="#1111dd" stroke="#1111dd" stroke-width="0.7"/><rect x="1604.9" y="709.7" width="3.2" height="3.2" fill="#1111dd" stroke="#1111dd" stroke-width="0.7"/>
<path d="M1458.3 747.3C1460.0 744.8 1465.1 737.7 1468.4 732.6C1471.6 727.5 1474.6 722.2 1477.9 716.7C1481.2 711.3 1484.9 705.3 1488.2 699.9C1491.4 694.6 1494.3 689.3 1497.5 684.8C1500.7 680.3 1504.2 676.4 1507.5 673.1C1510.8 669.9 1514.1 667.2 1517.3 665.4C1520.6 663.7 1523.8 663.0 1527.1 662.6C1530.4 662.3 1533.9 662.4 1537.1 663.1C1540.4 663.8 1543.2 665.2 1546.5 666.6C1549.7 668.0 1553.2 669.6 1556.5 671.5C1559.8 673.4 1563.1 675.8 1566.3 677.8C1569.5 679.8 1572.4 681.7 1575.6 683.6C1578.8 685.6 1582.3 687.8 1585.6 689.5C1588.9 691.1 1592.2 692.5 1595.4 693.7C1598.7 694.8 1601.9 695.7 1605.2 696.2C1608.5 696.7 1613.6 696.4 1615.3 696.4" fill="none" stroke="#ee11dd" stroke-width="0.9"/><circle cx="1458.3" cy="747.3" r="1.8" fill="#ee11dd" stroke="#ee11dd" stroke-width="0.7"/><circle cx="1468.2" cy="732.8" r="1.8" fill="#ee11dd" stroke="#ee11dd" stroke-width="0.7"/><circle cx="1478.1" cy="716.5" r="1.8" fill="#ee11dd" stroke="#ee11dd" stroke-width="0.7"/><circle cx="1488.0" cy="700.3" r="1.8" fill="#ee11dd" stroke="#ee11dd" stroke-width="0.7"/><circle cx="1497.8" cy="684.3" r="1.8" fill="#ee11dd" stroke="#ee11dd" stroke-width="0.7"/><circle cx="1507.7" cy="673.0" r="1.8" fill="#ee11dd" stroke="#ee11dd" stroke-width="0.7"/><circle cx="1517.6" cy="665.3" r="1.8" fill="#ee11dd" stroke="#ee11dd" stroke-width="0.7"/><circle cx="1527.5" cy="662.6" r="1.8" fill="#ee11dd" stroke="#ee11dd" stroke-width="0.7"/><circle cx="1537.3" cy="663.1" r="1.8" fill="#ee11dd" stroke="#ee11dd" stroke-width="0.7"/><circle cx="1547.2" cy="666.9" r="1.8" fill="#ee11dd" stroke="#ee11dd" stroke-width="0.7"/><circle cx="1557.1" cy="671.8" r="1.8" fill="#ee11dd" stroke="#ee11dd" stroke-width="0.7"/><circle cx="1567.0" cy="678.2" r="1.8" fill="#ee11dd" stroke="#ee11dd" stroke-width="0.7"/><circle cx="1576.8" cy="684.4" r="1.8" fill="#ee11dd" stroke="#ee11dd" stroke-width="0.7"/><circle cx="1586.7" cy="690.0" r="1.8" fill="#ee11dd" stroke="#ee11dd" stroke-width="0.7"/><circle cx="1596.6" cy="694.0" r="1.8" fill="#ee11dd" stroke="#ee11dd" stroke-width="0.7"/><circle cx="1606.4" cy="696.4" r="1.8" fill="#ee11dd" stroke="#ee11dd" stroke-width="0.7"/>
<path d="M1487.7 757.1C1489.3 754.7 1494.2 748.2 1497.5 743.1C1500.8 737.9 1504.2 731.6 1507.5 726.1C1510.8 720.5 1514.1 715.3 1517.3 709.7C1520.6 704.2 1523.9 698.1 1527.1 693.0C1530.3 687.8 1533.5 682.8 1536.7 679.0C1539.9 675.1 1543.2 671.9 1546.5 669.6C1549.8 667.4 1553.2 666.4 1556.5 665.7C1559.8 664.9 1563.1 664.8 1566.3 665.0C1569.5 665.1 1572.4 665.8 1575.6 666.6C1578.8 667.5 1582.3 668.7 1585.6 670.1C1588.9 671.5 1592.2 673.4 1595.4 675.0C1598.7 676.6 1601.9 678.2 1605.2 679.4C1608.5 680.7 1613.6 682.0 1615.3 682.5" fill="none" stroke="#000000" stroke-width="0.9"/><path d="M1487.7 754.9L1489.7 758.7L1485.7 758.7z" fill="#000000" stroke="#000000" stroke-width="0.7"/><path d="M1497.6 740.8L1499.6 744.6L1495.6 744.6z" fill="#000000" stroke="#000000" stroke-width="0.7"/><path d="M1507.5 724.0L1509.5 727.8L1505.5 727.8z" fill="#000000" stroke="#000000" stroke-width="0.7"/><path d="M1517.3 707.5L1519.3 711.3L1515.3 711.3z" fill="#000000" stroke="#000000" stroke-width="0.7"/><path d="M1527.2 690.6L1529.2 694.4L1525.2 694.4z" fill="#000000" stroke="#000000" stroke-width="0.7"/><path d="M1537.1 676.3L1539.1 680.1L1535.1 680.1z" fill="#000000" stroke="#000000" stroke-width="0.7"/><path d="M1547.0 667.1L1549.0 670.9L1545.0 670.9z" fill="#000000" stroke="#000000" stroke-width="0.7"/><path d="M1556.8 663.4L1558.8 667.2L1554.8 667.2z" fill="#000000" stroke="#000000" stroke-width="0.7"/><path d="M1566.7 662.8L1568.7 666.6L1564.7 666.6z" fill="#000000" stroke="#000000" stroke-width="0.7"/><path d="M1576.6 664.7L1578.6 668.5L1574.6 668.5z" fill="#000000" stroke="#000000" stroke-width="0.7"/><path d="M1586.5 668.3L1588.5 672.1L1584.5 672.1z" fill="#000000" stroke="#000000" stroke-width="0.7"/><path d="M1596.3 673.2L1598.3 677.0L1594.3 677.0z" fill="#000000" stroke="#000000" stroke-width="0.7"/><path d="M1606.2 677.6L1608.2 681.4L1604.2 681.4z" fill="#000000" stroke="#000000" stroke-width="0.7"/>
</g>
<path d="M1361.1 639.3V647.3" stroke="#1111dd" stroke-width="1.5" fill="none"/><path d="M1361.1 649.8L1358.4 644.8L1363.8 644.8z" fill="#1111dd"/>
<path d="M1426.4 642.8V650.8" stroke="#1111dd" stroke-width="1.5" fill="none"/><path d="M1426.4 653.3L1423.7 648.3L1429.1 648.3z" fill="#1111dd"/>
<path d="M1483.1 646.3V654.3" stroke="#1111dd" stroke-width="1.5" fill="none"/><path d="M1483.1 656.8L1480.4 651.8L1485.8 651.8z" fill="#1111dd"/>
<path d="M1527.4 648.7V656.6" stroke="#1111dd" stroke-width="1.5" fill="none"/><path d="M1527.4 659.1L1524.7 654.1L1530.1 654.1z" fill="#1111dd"/>
<path d="M1564.0 651.5V659.7" stroke="#1111dd" stroke-width="1.5" fill="none"/><path d="M1564.0 662.2L1561.3 657.2L1566.7 657.2z" fill="#1111dd"/>
<path d="M1527.8 729.8V737.5" stroke="#118811" stroke-width="1.5" fill="none"/><path d="M1527.8 740.0L1525.1 735.0L1530.5 735.0z" fill="#118811"/>
<path d="M1569.8 724.0V731.7" stroke="#118811" stroke-width="1.5" fill="none"/><path d="M1569.8 734.2L1567.1 729.2L1572.5 729.2z" fill="#118811"/>
<path d="M1600.1 720.5V728.2" stroke="#118811" stroke-width="1.5" fill="none"/><path d="M1600.1 730.7L1597.4 725.7L1602.8 725.7z" fill="#118811"/>
<path d="M1410.5 764.8V773.2" stroke="#ee1111" stroke-width="1.5" fill="none"/><path d="M1410.5 775.7L1407.8 770.7L1413.2 770.7z" fill="#ee1111"/>
<path d="M1440.9 767.1V775.6" stroke="#ee1111" stroke-width="1.5" fill="none"/><path d="M1440.9 778.1L1438.2 773.1L1443.6 773.1z" fill="#ee1111"/>
<path d="M1497.0 768.7V777.2" stroke="#ee1111" stroke-width="1.5" fill="none"/><path d="M1497.0 779.7L1494.3 774.7L1499.7 774.7z" fill="#ee1111"/>
<path d="M1550.0 768.7V777.2" stroke="#ee1111" stroke-width="1.5" fill="none"/><path d="M1550.0 779.7L1547.3 774.7L1552.7 774.7z" fill="#ee1111"/>
<rect x="1463.7" y="631.2" width="15.2" height="15.6" fill="#fff" stroke="#1111dd" stroke-width="0.9"/><text x="1471.3" y="642.6" font-size="13.5" fill="#1111dd" text-anchor="middle" class="s">α</text>
<rect x="1561.6" y="704.1" width="14.7" height="15.6" fill="#fff" stroke="#118811" stroke-width="0.9"/><text x="1569.0" y="715.6" font-size="13.5" fill="#118811" text-anchor="middle" class="s">γ</text>
<rect x="1465.3" y="757.1" width="15.4" height="15.6" fill="#fff" stroke="#ee1111" stroke-width="0.9"/><text x="1473.0" y="768.5" font-size="13.5" fill="#ee1111" text-anchor="middle" class="s">β</text>
<text x="1370.4" y="650.5" font-size="8.6" fill="#00dd00" transform="rotate(27 1370.4 650.5)">256K</text>
<text x="1438.8" y="651.5" font-size="8.6" fill="#ee1111" transform="rotate(27 1438.8 651.5)">262K</text>
<text x="1490.0" y="654.5" font-size="8.6" fill="#1111dd" transform="rotate(20 1490.0 654.5)">268K</text>
<text x="1532.5" y="656.1" font-size="8.6" fill="#ee11dd" transform="rotate(20 1532.5 656.1)">274K</text>
<text x="1572.1" y="660.3" font-size="8.6" fill="#000000" transform="rotate(20 1572.1 660.3)">280K</text>
<text x="1366.9" y="741.4" font-size="8.6" fill="#ee11dd" transform="rotate(40 1366.9 741.4)">250K</text>
<text x="1364.6" y="779.7" font-size="8.6" fill="#000000">153K</text>
<text x="1376.7" y="803.7" font-size="8.6" fill="#f08a1e" transform="rotate(-40 1376.7 803.7)">183K</text>
<text x="1402.4" y="810.7" font-size="8.6" fill="#00dddd" transform="rotate(-42 1402.4 810.7)">195K</text>
<text x="1446.7" y="819.3" font-size="8.6" fill="#1111dd" transform="rotate(-47 1446.7 819.3)">219K</text>
<text x="1597.8" y="656.1" font-size="9.5" fill="#000">(b)</text>
<text x="1539.9" y="820.0" font-size="16.6" fill="#000">DGEBA</text>
<rect x="1347.6" y="639.3" width="267.7" height="200.0" fill="none" stroke="#000" stroke-width="1.1"/>
<path d="M1387.0 839.3V835.5M1387.0 639.3V643.1M1457.6 839.3V835.5M1457.6 639.3V643.1M1528.2 839.3V835.5M1528.2 639.3V643.1M1598.8 839.3V835.5M1598.8 639.3V643.1" stroke="#000" stroke-width="0.9" fill="none"/>
<path d="M1351.7 839.3V837.1M1351.7 639.3V641.5M1422.3 839.3V837.1M1422.3 639.3V641.5M1492.9 839.3V837.1M1492.9 639.3V641.5M1563.5 839.3V837.1M1563.5 639.3V641.5" stroke="#000" stroke-width="0.9" fill="none"/>
<path d="M1347.6 676.2H1351.4M1615.3 676.2H1611.5M1347.6 738.9H1351.4M1615.3 738.9H1611.5M1347.6 801.5H1351.4M1615.3 801.5H1611.5" stroke="#000" stroke-width="0.9" fill="none"/>
<text x="1333.6" y="680.8" font-size="13.0" text-anchor="middle">10<tspan dy="-5.5" font-size="8.1">0</tspan></text>
<text x="1332.6" y="743.5" font-size="13.0" text-anchor="middle">10<tspan dy="-5.5" font-size="8.1">-1</tspan></text>
<text x="1332.6" y="806.1" font-size="13.0" text-anchor="middle">10<tspan dy="-5.5" font-size="8.1">-2</tspan></text>
<text x="1387.0" y="858.5" font-size="13.0" text-anchor="middle">10<tspan dy="-5.5" font-size="8.1">0</tspan></text>
<text x="1457.6" y="858.5" font-size="13.0" text-anchor="middle">10<tspan dy="-5.5" font-size="8.1">2</tspan></text>
<text x="1528.2" y="858.5" font-size="13.0" text-anchor="middle">10<tspan dy="-5.5" font-size="8.1">4</tspan></text>
<text x="1598.8" y="858.5" font-size="13.0" text-anchor="middle">10<tspan dy="-5.5" font-size="8.1">6</tspan></text>
<text x="1314.0" y="746.5" font-size="15" fill="#000" transform="rotate(-90 1314.0 746.5)" class="s">ε"</text>
<text x="1481.5" y="876.5" font-size="14.8" text-anchor="middle"><tspan class="s" font-size="14">ν</tspan> (Hz)</text>
<defs><radialGradient id="gb" cx="0.38" cy="0.35" r="0.75"><stop offset="0" stop-color="#e08c14"/><stop offset="0.65" stop-color="#d07f10"/><stop offset="1" stop-color="#a05f08"/></radialGradient><clipPath id="c2a"><rect x="1831.6" y="361.4" width="241.5" height="133.6"/></clipPath><clipPath id="c2b"><rect x="1831.6" y="508.2" width="242.5" height="191.8"/></clipPath></defs>
<g clip-path="url(#c2a)">
<path d="M1831.6 373.3C1839.1 373.5 1861.3 373.9 1876.6 374.3C1891.8 374.6 1907.7 374.8 1923.2 375.4C1938.8 376.1 1956.2 376.9 1969.8 378.0C1983.4 379.1 1995.1 380.5 2004.8 382.0C2014.5 383.4 2020.4 384.3 2028.1 386.6C2035.9 389.0 2044.4 392.5 2051.4 396.0C2058.4 399.5 2067.0 405.7 2070.1 407.6" fill="none" stroke="#00dddd" stroke-width="1.2"/>
<path d="M1831.6 371.0C1839.1 371.2 1861.3 371.8 1876.6 372.2C1891.8 372.6 1907.7 372.9 1923.2 373.6C1938.8 374.4 1956.2 375.3 1969.8 376.5C1983.4 377.7 1995.1 379.2 2004.8 380.7C2014.5 382.1 2020.4 383.1 2028.1 385.5C2035.9 387.8 2044.4 391.4 2051.4 394.9C2058.4 398.5 2067.0 404.7 2070.1 406.7" fill="none" stroke="#00dddd" stroke-width="1.2" stroke-dasharray="2.6 2.2"/>
<path d="M1831.6 378.5C1839.1 378.7 1861.3 379.4 1876.6 380.1C1891.8 380.8 1907.7 381.4 1923.2 382.7C1938.8 383.9 1956.2 385.8 1969.8 387.8C1983.4 389.8 1995.1 392.3 2004.8 394.8C2014.5 397.3 2020.4 399.3 2028.1 403.0C2035.9 406.6 2044.4 411.9 2051.4 416.9C2058.4 422.0 2067.0 430.5 2070.1 433.3" fill="none" stroke="#ee11dd" stroke-width="1.2"/>
<path d="M1831.6 376.1C1839.1 376.5 1861.3 377.2 1876.6 378.0C1891.8 378.8 1907.7 379.5 1923.2 380.9C1938.8 382.2 1956.2 384.2 1969.8 386.3C1983.4 388.4 1995.1 390.9 2004.8 393.5C2014.5 396.1 2020.4 398.0 2028.1 401.8C2035.9 405.5 2044.4 410.8 2051.4 415.9C2058.4 421.0 2067.0 429.6 2070.1 432.3" fill="none" stroke="#ee11dd" stroke-width="1.2" stroke-dasharray="2.6 2.2"/>
<path d="M1831.6 382.0C1839.1 382.4 1861.3 383.2 1876.6 384.3C1891.8 385.4 1907.7 386.6 1923.2 388.5C1938.8 390.4 1956.2 393.2 1969.8 396.0C1983.4 398.8 1995.1 402.0 2004.8 405.3C2014.5 408.6 2020.4 411.3 2028.1 415.8C2035.9 420.2 2044.4 426.3 2051.4 432.1C2058.4 437.9 2067.0 447.6 2070.1 450.7" fill="none" stroke="#00dd00" stroke-width="1.2"/>
<path d="M1831.6 379.6C1839.1 380.1 1861.3 381.1 1876.6 382.2C1891.8 383.4 1907.7 384.7 1923.2 386.7C1938.8 388.7 1956.2 391.6 1969.8 394.4C1983.4 397.3 1995.1 400.6 2004.8 404.0C2014.5 407.3 2020.4 410.1 2028.1 414.6C2035.9 419.1 2044.4 425.2 2051.4 431.1C2058.4 436.9 2067.0 446.7 2070.1 449.8" fill="none" stroke="#00dd00" stroke-width="1.2" stroke-dasharray="2.6 2.2"/>
<path d="M1831.6 385.5C1839.1 386.0 1861.3 387.3 1876.6 389.0C1891.8 390.6 1907.7 392.5 1923.2 395.3C1938.8 398.0 1956.2 401.7 1969.8 405.3C1983.4 408.9 1995.1 412.9 2004.8 416.9C2014.5 421.0 2020.4 424.5 2028.1 429.8C2035.9 435.0 2044.4 442.0 2051.4 448.4C2058.4 454.8 2067.0 464.9 2070.1 468.2" fill="none" stroke="#1111dd" stroke-width="1.2"/>
<path d="M1831.6 383.1C1839.1 383.8 1861.3 385.2 1876.6 386.9C1891.8 388.6 1907.7 390.7 1923.2 393.5C1938.8 396.3 1956.2 400.1 1969.8 403.8C1983.4 407.5 1995.1 411.5 2004.8 415.6C2014.5 419.8 2020.4 423.3 2028.1 428.6C2035.9 433.9 2044.4 440.9 2051.4 447.4C2058.4 453.8 2067.0 464.0 2070.1 467.3" fill="none" stroke="#1111dd" stroke-width="1.2" stroke-dasharray="2.6 2.2"/>
<path d="M1831.6 389.0C1839.1 389.9 1861.3 392.2 1876.6 394.3C1891.8 396.5 1907.7 398.7 1923.2 401.8C1938.8 404.9 1956.2 408.5 1969.8 412.7C1983.4 417.0 1995.1 422.6 2004.8 427.4C2014.5 432.3 2020.4 436.3 2028.1 441.9C2035.9 447.5 2044.4 454.8 2051.4 461.2C2058.4 467.7 2067.0 477.4 2070.1 480.6" fill="none" stroke="#ee1111" stroke-width="1.2"/>
<path d="M1831.6 386.6C1839.1 387.6 1861.3 390.0 1876.6 392.3C1891.8 394.5 1907.7 396.8 1923.2 400.0C1938.8 403.2 1956.2 406.9 1969.8 411.2C1983.4 415.6 1995.1 421.2 2004.8 426.1C2014.5 431.0 2020.4 435.0 2028.1 440.7C2035.9 446.4 2044.4 453.7 2051.4 460.2C2058.4 466.7 2067.0 476.4 2070.1 479.7" fill="none" stroke="#ee1111" stroke-width="1.2" stroke-dasharray="2.6 2.2"/>
<path d="M1831.6 394.1C1835.2 394.9 1845.8 397.3 1853.3 398.8C1860.8 400.2 1868.8 401.5 1876.6 403.0C1884.3 404.4 1892.1 406.1 1899.9 407.6C1907.7 409.2 1916.2 410.8 1923.2 412.3C1930.2 413.8 1936.0 415.0 1941.9 416.5C1947.7 418.0 1953.5 419.6 1958.2 421.1C1962.8 422.7 1966.0 423.9 1969.8 425.6C1973.7 427.2 1977.6 429.0 1981.5 430.9C1985.4 432.8 1989.3 434.9 1993.2 437.0C1997.0 439.1 2000.9 441.2 2004.8 443.8C2008.7 446.3 2012.6 449.2 2016.5 452.1C2020.4 455.1 2022.3 456.6 2028.1 461.2C2034.0 465.9 2044.4 474.3 2051.4 479.9C2058.4 485.5 2067.0 492.5 2070.1 495.0" fill="none" stroke="#000000" stroke-width="1.2"/>
<path d="M1831.6 391.8C1835.2 392.6 1845.8 395.0 1853.3 396.6C1860.8 398.1 1868.8 399.4 1876.6 400.9C1884.3 402.4 1892.1 404.1 1899.9 405.7C1907.7 407.3 1916.2 409.0 1923.2 410.5C1930.2 412.0 1936.0 413.3 1941.9 414.8C1947.7 416.3 1953.5 418.0 1958.2 419.5C1962.8 421.1 1966.0 422.4 1969.8 424.0C1973.7 425.7 1977.6 427.6 1981.5 429.5C1985.4 431.4 1989.3 433.4 1993.2 435.6C1997.0 437.8 2000.9 439.9 2004.8 442.4C2008.7 445.0 2012.6 448.0 2016.5 450.9C2020.4 453.8 2022.3 455.4 2028.1 460.1C2034.0 464.7 2044.4 473.2 2051.4 478.9C2058.4 484.5 2067.0 491.6 2070.1 494.1" fill="none" stroke="#000000" stroke-width="1.2" stroke-dasharray="2.6 2.2"/>
</g>
<text x="2033.5" y="384.3" font-size="8.8" fill="#00dddd" transform="rotate(18 2033.5 384.3)">239 K</text>
<text x="2022.5" y="396.0" font-size="8.8" fill="#ee11dd" transform="rotate(20 2022.5 396.0)">220 K</text>
<text x="2015.5" y="406.9" font-size="8.8" fill="#00dd00" transform="rotate(24 2015.5 406.9)">208 K</text>
<text x="2007.6" y="416.9" font-size="8.8" fill="#1111dd" transform="rotate(27 2007.6 416.9)">196 K</text>
<text x="1999.0" y="436.1" font-size="8.8" fill="#ee1111" transform="rotate(31 1999.0 436.1)">187 K</text>
<text x="1992.7" y="452.6" font-size="8.8" fill="#000000" transform="rotate(34 1992.7 452.6)">175 K</text>
<text x="2053.3" y="378.0" font-size="9.5" fill="#000">(a)</text>
<path d="M1831.6 495.0V361.4H2073.1V495.0H1981.0" fill="none" stroke="#000" stroke-width="1.1"/>
<path d="M1865.4 361.4V365.2M1931.8 361.4V365.2M1998.2 361.4V365.2M2064.6 361.4V365.2" stroke="#000" stroke-width="0.9" fill="none"/>
<path d="M1898.6 361.4V363.6M1965.0 361.4V363.6M2031.4 361.4V363.6" stroke="#000" stroke-width="0.9" fill="none"/>
<path d="M1998.2 495.0V491.2M2064.6 495.0V491.2" stroke="#000" stroke-width="0.9" fill="none"/>
<path d="M2031.4 495.0V492.8" stroke="#000" stroke-width="0.9" fill="none"/>
<path d="M1831.6 420.9H1835.4M2073.1 420.9H2069.3M1831.6 480.6H1835.4M2073.1 480.6H2069.3" stroke="#000" stroke-width="0.9" fill="none"/>
<path d="M1831.6 376.3H1833.8M2073.1 376.3H2070.9M1831.6 391.2H1833.8M2073.1 391.2H2070.9M1831.6 406.1H1833.8M2073.1 406.1H2070.9M1831.6 435.9H1833.8M2073.1 435.9H2070.9M1831.6 450.8H1833.8M2073.1 450.8H2070.9M1831.6 465.7H1833.8M2073.1 465.7H2070.9" stroke="#000" stroke-width="0.9" fill="none"/>
<path d="M2073.1 376.3H2069.3" stroke="#000" stroke-width="0.9" fill="none"/>
<text x="1825.1" y="365.8" font-size="12.5" fill="#000" text-anchor="end">3.4</text>
<text x="1825.1" y="425.3" font-size="12.5" fill="#000" text-anchor="end">3.0</text>
<text x="1825.1" y="485.0" font-size="12.5" fill="#000" text-anchor="end">2.6</text>
<text x="1800.5" y="429.0" font-size="15" fill="#000" transform="rotate(-90 1800.5 429.0)" class="s">ε'</text>
<g transform="translate(1843.8 445.9) rotate(-13) scale(1.0)"><path d="M-3.6 -3.2 L-1.6 -8.6 L1.6 -8.6 L3.6 -3.2z" fill="#c97c10"/><ellipse cx="0" cy="0.4" rx="4.9" ry="6.3" fill="url(#gb)"/><circle cx="0" cy="-8.6" r="2.2" fill="url(#gb)"/></g>
<g transform="translate(1855.9 436.9) rotate(-57) scale(1.0)"><path d="M-3.6 -3.2 L-1.6 -8.6 L1.6 -8.6 L3.6 -3.2z" fill="#c97c10"/><ellipse cx="0" cy="0.4" rx="4.9" ry="6.3" fill="url(#gb)"/><circle cx="0" cy="-8.6" r="2.2" fill="url(#gb)"/></g>
<g transform="translate(1872.3 434.4) rotate(37) scale(1.0)"><path d="M-3.6 -3.2 L-1.6 -8.6 L1.6 -8.6 L3.6 -3.2z" fill="#c97c10"/><ellipse cx="0" cy="0.4" rx="4.9" ry="6.3" fill="url(#gb)"/><circle cx="0" cy="-8.6" r="2.2" fill="url(#gb)"/></g>
<g transform="translate(1888.6 438.2) rotate(-25) scale(1.0)"><path d="M-3.6 -3.2 L-1.6 -8.6 L1.6 -8.6 L3.6 -3.2z" fill="#c97c10"/><ellipse cx="0" cy="0.4" rx="4.9" ry="6.3" fill="url(#gb)"/><circle cx="0" cy="-8.6" r="2.2" fill="url(#gb)"/></g>
<g transform="translate(1901.5 437.7) rotate(7) scale(1.0)"><path d="M-3.6 -3.2 L-1.6 -8.6 L1.6 -8.6 L3.6 -3.2z" fill="#c97c10"/><ellipse cx="0" cy="0.4" rx="4.9" ry="6.3" fill="url(#gb)"/><circle cx="0" cy="-8.6" r="2.2" fill="url(#gb)"/></g>
<g transform="translate(1914.5 441.5) rotate(28) scale(1.0)"><path d="M-3.6 -3.2 L-1.6 -8.6 L1.6 -8.6 L3.6 -3.2z" fill="#c97c10"/><ellipse cx="0" cy="0.4" rx="4.9" ry="6.3" fill="url(#gb)"/><circle cx="0" cy="-8.6" r="2.2" fill="url(#gb)"/></g>
<g transform="translate(1852.1 461.9) rotate(-40) scale(1.0)"><path d="M-3.6 -3.2 L-1.6 -8.6 L1.6 -8.6 L3.6 -3.2z" fill="#c97c10"/><ellipse cx="0" cy="0.4" rx="4.9" ry="6.3" fill="url(#gb)"/><circle cx="0" cy="-8.6" r="2.2" fill="url(#gb)"/></g>
<g transform="translate(1863.0 455.0) rotate(34) scale(1.0)"><path d="M-3.6 -3.2 L-1.6 -8.6 L1.6 -8.6 L3.6 -3.2z" fill="#c97c10"/><ellipse cx="0" cy="0.4" rx="4.9" ry="6.3" fill="url(#gb)"/><circle cx="0" cy="-8.6" r="2.2" fill="url(#gb)"/></g>
<g transform="translate(1880.3 455.5) rotate(-27) scale(1.0)"><path d="M-3.6 -3.2 L-1.6 -8.6 L1.6 -8.6 L3.6 -3.2z" fill="#c97c10"/><ellipse cx="0" cy="0.4" rx="4.9" ry="6.3" fill="url(#gb)"/><circle cx="0" cy="-8.6" r="2.2" fill="url(#gb)"/></g>
<g transform="translate(1895.3 458.4) rotate(-41) scale(1.0)"><path d="M-3.6 -3.2 L-1.6 -8.6 L1.6 -8.6 L3.6 -3.2z" fill="#c97c10"/><ellipse cx="0" cy="0.4" rx="4.9" ry="6.3" fill="url(#gb)"/><circle cx="0" cy="-8.6" r="2.2" fill="url(#gb)"/></g>
<g transform="translate(1911.6 461.9) rotate(23) scale(1.0)"><path d="M-3.6 -3.2 L-1.6 -8.6 L1.6 -8.6 L3.6 -3.2z" fill="#c97c10"/><ellipse cx="0" cy="0.4" rx="4.9" ry="6.3" fill="url(#gb)"/><circle cx="0" cy="-8.6" r="2.2" fill="url(#gb)"/></g>
<g transform="translate(1866.9 476.7) rotate(27) scale(1.0)"><path d="M-3.6 -3.2 L-1.6 -8.6 L1.6 -8.6 L3.6 -3.2z" fill="#c97c10"/><ellipse cx="0" cy="0.4" rx="4.9" ry="6.3" fill="url(#gb)"/><circle cx="0" cy="-8.6" r="2.2" fill="url(#gb)"/></g>
<g transform="translate(1885.7 474.7) rotate(-13) scale(1.0)"><path d="M-3.6 -3.2 L-1.6 -8.6 L1.6 -8.6 L3.6 -3.2z" fill="#c97c10"/><ellipse cx="0" cy="0.4" rx="4.9" ry="6.3" fill="url(#gb)"/><circle cx="0" cy="-8.6" r="2.2" fill="url(#gb)"/></g>
<g transform="translate(1904.9 475.7) rotate(-57) scale(1.0)"><path d="M-3.6 -3.2 L-1.6 -8.6 L1.6 -8.6 L3.6 -3.2z" fill="#c97c10"/><ellipse cx="0" cy="0.4" rx="4.9" ry="6.3" fill="url(#gb)"/><circle cx="0" cy="-8.6" r="2.2" fill="url(#gb)"/></g>
<text x="1924.8" y="451.0" font-size="9.5" fill="#111">glass electret</text>
<text x="1924.8" y="463.6" font-size="9.5" fill="#111">(dashed lines)</text>
<g transform="translate(1843.8 517.6) rotate(-2) scale(1.0)"><path d="M-3.6 -3.2 L-1.6 -8.6 L1.6 -8.6 L3.6 -3.2z" fill="#c97c10"/><ellipse cx="0" cy="0.4" rx="4.9" ry="6.3" fill="url(#gb)"/><circle cx="0" cy="-8.6" r="2.2" fill="url(#gb)"/></g>
<g transform="translate(1853.4 506.1) rotate(146) scale(1.0)"><path d="M-3.6 -3.2 L-1.6 -8.6 L1.6 -8.6 L3.6 -3.2z" fill="#c97c10"/><ellipse cx="0" cy="0.4" rx="4.9" ry="6.3" fill="url(#gb)"/><circle cx="0" cy="-8.6" r="2.2" fill="url(#gb)"/></g>
<g transform="translate(1870.3 505.1) rotate(78) scale(1.0)"><path d="M-3.6 -3.2 L-1.6 -8.6 L1.6 -8.6 L3.6 -3.2z" fill="#c97c10"/><ellipse cx="0" cy="0.4" rx="4.9" ry="6.3" fill="url(#gb)"/><circle cx="0" cy="-8.6" r="2.2" fill="url(#gb)"/></g>
<g transform="translate(1888.6 507.4) rotate(-137) scale(1.0)"><path d="M-3.6 -3.2 L-1.6 -8.6 L1.6 -8.6 L3.6 -3.2z" fill="#c97c10"/><ellipse cx="0" cy="0.4" rx="4.9" ry="6.3" fill="url(#gb)"/><circle cx="0" cy="-8.6" r="2.2" fill="url(#gb)"/></g>
<g transform="translate(1902.6 509.9) rotate(-33) scale(1.0)"><path d="M-3.6 -3.2 L-1.6 -8.6 L1.6 -8.6 L3.6 -3.2z" fill="#c97c10"/><ellipse cx="0" cy="0.4" rx="4.9" ry="6.3" fill="url(#gb)"/><circle cx="0" cy="-8.6" r="2.2" fill="url(#gb)"/></g>
<g transform="translate(1915.5 509.9) rotate(-148) scale(1.0)"><path d="M-3.6 -3.2 L-1.6 -8.6 L1.6 -8.6 L3.6 -3.2z" fill="#c97c10"/><ellipse cx="0" cy="0.4" rx="4.9" ry="6.3" fill="url(#gb)"/><circle cx="0" cy="-8.6" r="2.2" fill="url(#gb)"/></g>
<g transform="translate(1852.7 533.3) rotate(-141) scale(1.0)"><path d="M-3.6 -3.2 L-1.6 -8.6 L1.6 -8.6 L3.6 -3.2z" fill="#c97c10"/><ellipse cx="0" cy="0.4" rx="4.9" ry="6.3" fill="url(#gb)"/><circle cx="0" cy="-8.6" r="2.2" fill="url(#gb)"/></g>
<g transform="translate(1865.0 527.6) rotate(-34) scale(1.0)"><path d="M-3.6 -3.2 L-1.6 -8.6 L1.6 -8.6 L3.6 -3.2z" fill="#c97c10"/><ellipse cx="0" cy="0.4" rx="4.9" ry="6.3" fill="url(#gb)"/><circle cx="0" cy="-8.6" r="2.2" fill="url(#gb)"/></g>
<g transform="translate(1879.0 524.7) rotate(180) scale(1.0)"><path d="M-3.6 -3.2 L-1.6 -8.6 L1.6 -8.6 L3.6 -3.2z" fill="#c97c10"/><ellipse cx="0" cy="0.4" rx="4.9" ry="6.3" fill="url(#gb)"/><circle cx="0" cy="-8.6" r="2.2" fill="url(#gb)"/></g>
<g transform="translate(1892.4 530.4) rotate(90) scale(1.0)"><path d="M-3.6 -3.2 L-1.6 -8.6 L1.6 -8.6 L3.6 -3.2z" fill="#c97c10"/><ellipse cx="0" cy="0.4" rx="4.9" ry="6.3" fill="url(#gb)"/><circle cx="0" cy="-8.6" r="2.2" fill="url(#gb)"/></g>
<g transform="translate(1910.7 531.4) rotate(152) scale(1.0)"><path d="M-3.6 -3.2 L-1.6 -8.6 L1.6 -8.6 L3.6 -3.2z" fill="#c97c10"/><ellipse cx="0" cy="0.4" rx="4.9" ry="6.3" fill="url(#gb)"/><circle cx="0" cy="-8.6" r="2.2" fill="url(#gb)"/></g>
<g transform="translate(1867.5 544.9) rotate(184) scale(1.0)"><path d="M-3.6 -3.2 L-1.6 -8.6 L1.6 -8.6 L3.6 -3.2z" fill="#c97c10"/><ellipse cx="0" cy="0.4" rx="4.9" ry="6.3" fill="url(#gb)"/><circle cx="0" cy="-8.6" r="2.2" fill="url(#gb)"/></g>
<g transform="translate(1883.4 545.2) rotate(123) scale(1.0)"><path d="M-3.6 -3.2 L-1.6 -8.6 L1.6 -8.6 L3.6 -3.2z" fill="#c97c10"/><ellipse cx="0" cy="0.4" rx="4.9" ry="6.3" fill="url(#gb)"/><circle cx="0" cy="-8.6" r="2.2" fill="url(#gb)"/></g>
<g transform="translate(1901.5 548.3) rotate(42) scale(1.0)"><path d="M-3.6 -3.2 L-1.6 -8.6 L1.6 -8.6 L3.6 -3.2z" fill="#c97c10"/><ellipse cx="0" cy="0.4" rx="4.9" ry="6.3" fill="url(#gb)"/><circle cx="0" cy="-8.6" r="2.2" fill="url(#gb)"/></g>
<text x="1924.8" y="523.3" font-size="9.5" fill="#111">normal glass</text>
<text x="1924.8" y="535.5" font-size="9.5" fill="#111">(solid lines)</text>
<g clip-path="url(#c2b)">
<path d="M1831.6 624.8C1833.2 622.1 1838.4 612.9 1841.6 608.9C1844.8 604.9 1847.8 602.8 1850.9 600.7C1854.0 598.7 1856.8 597.4 1860.3 596.6C1863.8 595.7 1866.9 595.3 1871.9 595.4C1877.0 595.4 1885.1 596.5 1890.6 596.8C1896.0 597.1 1899.9 597.6 1904.6 597.3C1909.2 596.9 1913.9 596.5 1918.5 594.9C1923.2 593.4 1927.9 591.0 1932.5 587.9C1937.2 584.8 1941.9 580.2 1946.5 576.3C1951.2 572.4 1955.8 568.6 1960.5 564.6C1965.2 560.6 1969.8 556.2 1974.5 552.5C1979.2 548.8 1983.8 545.3 1988.5 542.5C1993.2 539.6 1997.8 537.2 2002.5 535.5C2007.1 533.7 2011.8 532.8 2016.5 532.0C2021.1 531.1 2025.8 530.5 2030.5 530.3C2035.1 530.1 2039.8 530.1 2044.4 530.8C2049.1 531.5 2054.2 532.0 2058.4 534.3C2062.7 536.6 2068.2 543.0 2070.1 544.8" fill="none" stroke="#000000" stroke-width="1.2"/>
<path d="M1831.6 619.4C1833.2 617.1 1838.4 609.1 1841.6 605.4C1844.8 601.7 1847.8 599.3 1850.9 597.3C1854.0 595.2 1856.8 594.3 1860.3 593.3C1863.8 592.3 1866.9 591.5 1871.9 591.4C1877.0 591.4 1885.1 592.5 1890.6 593.1C1896.0 593.6 1899.9 594.5 1904.6 594.5C1909.2 594.4 1913.9 593.9 1918.5 592.6C1923.2 591.3 1927.9 589.6 1932.5 586.8C1937.2 584.0 1944.2 577.6 1946.5 575.8" fill="none" stroke="#000000" stroke-width="1.2" stroke-dasharray="2.6 2.2"/>
<path d="M1850.5 643.2C1852.1 641.6 1857.1 637.2 1860.3 633.4C1863.4 629.6 1866.5 624.3 1869.6 620.6C1872.7 616.8 1875.4 613.5 1878.9 610.8C1882.4 608.1 1886.3 605.9 1890.6 604.2C1894.8 602.6 1899.9 601.5 1904.6 600.7C1909.2 600.0 1913.9 600.4 1918.5 599.6C1923.2 598.8 1927.9 597.6 1932.5 596.1C1937.2 594.5 1941.9 593.0 1946.5 590.3C1951.2 587.5 1955.8 583.5 1960.5 579.8C1965.2 576.1 1969.8 572.2 1974.5 568.1C1979.2 564.0 1983.8 559.4 1988.5 555.3C1993.2 551.1 1997.8 546.7 2002.5 543.2C2007.1 539.7 2011.8 536.7 2016.5 534.3C2021.1 531.9 2025.8 529.9 2030.5 528.5C2035.1 527.0 2040.2 526.1 2044.4 525.4C2048.7 524.8 2053.0 524.2 2056.1 524.5C2059.2 524.8 2060.8 526.3 2063.1 527.3C2065.4 528.4 2068.9 530.2 2070.1 530.8" fill="none" stroke="#ee1111" stroke-width="1.2"/>
<path d="M1850.5 636.9C1852.1 635.5 1857.1 632.0 1860.3 628.7C1863.4 625.4 1866.5 620.6 1869.6 617.1C1872.7 613.6 1875.4 610.3 1878.9 607.7C1882.4 605.1 1886.3 603.0 1890.6 601.4C1894.8 599.9 1899.9 599.1 1904.6 598.4C1909.2 597.7 1913.9 597.9 1918.5 597.3C1923.2 596.6 1927.9 595.8 1932.5 594.5C1937.2 593.1 1941.9 591.6 1946.5 589.1C1951.2 586.6 1958.2 580.9 1960.5 579.3" fill="none" stroke="#ee1111" stroke-width="1.2" stroke-dasharray="2.6 2.2"/>
<path d="M1868.4 654.4C1870.2 652.2 1875.2 646.0 1878.9 641.6C1882.6 637.1 1886.7 631.6 1890.6 627.6C1894.5 623.5 1898.3 620.2 1902.2 617.1C1906.1 614.0 1909.6 611.0 1913.9 608.9C1918.2 606.8 1923.2 605.4 1927.9 604.2C1932.5 603.1 1937.2 603.0 1941.9 601.9C1946.5 600.8 1951.2 599.9 1955.8 597.7C1960.5 595.6 1965.2 592.5 1969.8 589.1C1974.5 585.7 1979.2 581.5 1983.8 577.4C1988.5 573.4 1993.2 569.0 1997.8 564.6C2002.5 560.2 2007.1 555.4 2011.8 551.1C2016.5 546.8 2021.1 542.5 2025.8 539.0C2030.5 535.4 2035.5 532.2 2039.8 529.6C2044.1 527.0 2047.9 524.9 2051.4 523.3C2054.9 521.8 2057.7 520.0 2060.8 520.3C2063.9 520.6 2068.5 524.2 2070.1 525.0" fill="none" stroke="#1111dd" stroke-width="1.2"/>
<path d="M1868.4 652.7C1870.2 650.5 1875.2 643.9 1878.9 639.2C1882.6 634.6 1886.7 628.9 1890.6 624.8C1894.5 620.6 1898.3 617.3 1902.2 614.3C1906.1 611.2 1909.6 608.6 1913.9 606.6C1918.2 604.5 1923.2 603.1 1927.9 601.9C1932.5 600.7 1937.2 600.6 1941.9 599.6C1946.5 598.6 1951.2 598.0 1955.8 596.1C1960.5 594.1 1965.2 591.2 1969.8 587.9C1974.5 584.7 1981.5 578.6 1983.8 576.7" fill="none" stroke="#1111dd" stroke-width="1.2" stroke-dasharray="2.6 2.2"/>
<path d="M1887.1 669.1C1888.2 667.4 1891.1 663.2 1894.1 659.0C1897.0 654.8 1900.5 649.1 1904.6 643.9C1908.6 638.6 1913.9 632.0 1918.5 627.6C1923.2 623.1 1927.9 620.0 1932.5 617.1C1937.2 614.2 1941.9 611.9 1946.5 610.1C1951.2 608.2 1955.8 607.9 1960.5 606.1C1965.2 604.4 1969.8 602.6 1974.5 599.6C1979.2 596.6 1983.8 592.2 1988.5 587.9C1993.2 583.7 1997.8 578.8 2002.5 573.9C2007.1 569.1 2011.8 563.6 2016.5 558.8C2021.1 553.9 2025.8 549.5 2030.5 544.8C2035.1 540.1 2040.2 534.7 2044.4 530.8C2048.7 526.9 2053.0 523.5 2056.1 521.5C2059.2 519.4 2060.8 518.7 2063.1 518.4C2065.4 518.2 2068.9 519.6 2070.1 519.8" fill="none" stroke="#00dd00" stroke-width="1.2"/>
<path d="M1887.1 667.7C1888.2 665.9 1891.1 661.5 1894.1 657.2C1897.0 652.8 1900.5 646.9 1904.6 641.6C1908.6 636.2 1913.9 629.7 1918.5 625.2C1923.2 620.8 1927.9 617.7 1932.5 614.7C1937.2 611.8 1941.9 609.6 1946.5 607.7C1951.2 605.9 1955.8 605.5 1960.5 603.8C1965.2 602.1 1969.8 600.6 1974.5 597.7C1979.2 594.9 1983.8 590.8 1988.5 586.8C1993.2 582.7 2000.1 575.5 2002.5 573.2" fill="none" stroke="#00dd00" stroke-width="1.2" stroke-dasharray="2.6 2.2"/>
<path d="M1905.7 678.4C1907.1 676.5 1911.0 671.4 1913.9 667.2C1916.8 663.0 1919.7 657.9 1923.2 653.2C1926.7 648.5 1931.0 643.5 1934.9 639.2C1938.8 634.9 1942.2 631.3 1946.5 627.6C1950.8 623.9 1955.8 620.0 1960.5 617.1C1965.2 614.2 1969.8 612.6 1974.5 610.1C1979.2 607.5 1983.8 605.6 1988.5 601.9C1993.2 598.2 1997.8 592.8 2002.5 587.9C2007.1 583.1 2011.8 578.2 2016.5 572.8C2021.1 567.3 2025.8 561.1 2030.5 555.3C2035.1 549.5 2040.2 542.8 2044.4 537.8C2048.7 532.7 2053.0 527.9 2056.1 525.0C2059.2 522.1 2060.8 521.2 2063.1 520.3C2065.4 519.5 2068.9 519.9 2070.1 519.8" fill="none" stroke="#ee11dd" stroke-width="1.2"/>
<path d="M1905.7 677.0C1907.1 675.0 1911.0 669.7 1913.9 665.3C1916.8 661.0 1919.7 655.6 1923.2 650.9C1926.7 646.1 1931.0 641.2 1934.9 636.9C1938.8 632.6 1942.2 628.9 1946.5 625.2C1950.8 621.5 1955.8 617.7 1960.5 614.7C1965.2 611.8 1969.8 610.2 1974.5 607.7C1979.2 605.3 1983.8 603.5 1988.5 600.0C1993.2 596.6 1997.8 591.4 2002.5 586.8C2007.1 582.1 2014.1 574.5 2016.5 572.1" fill="none" stroke="#ee11dd" stroke-width="1.2" stroke-dasharray="2.6 2.2"/>
<path d="M1923.2 695.2C1925.5 692.3 1932.5 683.5 1937.2 677.7C1941.9 671.9 1946.5 665.8 1951.2 660.2C1955.8 654.6 1960.9 648.5 1965.2 643.9C1969.5 639.2 1972.9 635.3 1976.8 632.2C1980.7 629.1 1984.6 628.3 1988.5 625.2C1992.4 622.1 1996.3 618.2 2000.1 613.6C2004.0 608.9 2007.5 603.1 2011.8 597.3C2016.1 591.4 2021.1 584.8 2025.8 578.6C2030.5 572.4 2035.1 566.0 2039.8 559.9C2044.4 553.9 2049.5 547.3 2053.8 542.5C2058.0 537.6 2062.7 533.3 2065.4 530.8C2068.2 528.3 2069.3 527.9 2070.1 527.3" fill="none" stroke="#00dddd" stroke-width="1.2"/>
<path d="M1923.2 694.0C1925.5 691.0 1932.5 682.0 1937.2 676.1C1941.9 670.1 1946.5 664.0 1951.2 658.3C1955.8 652.7 1960.9 646.8 1965.2 642.0C1969.5 637.3 1972.9 633.2 1976.8 629.9C1980.7 626.6 1984.6 625.5 1988.5 622.4C1992.4 619.3 1996.3 615.6 2000.1 611.2C2004.0 606.8 2007.5 601.6 2011.8 596.1C2016.1 590.6 2023.5 581.1 2025.8 578.1" fill="none" stroke="#00dddd" stroke-width="1.2" stroke-dasharray="2.6 2.2"/>
<path d="M1881.2 699.8C1882.8 697.9 1887.5 691.5 1890.6 688.2C1893.7 684.9 1896.4 682.5 1899.9 680.0C1903.4 677.5 1906.9 674.9 1911.6 673.0C1916.2 671.2 1922.0 670.4 1927.9 669.1C1933.7 667.7 1941.1 666.7 1946.5 664.9C1952.0 663.0 1955.8 661.0 1960.5 657.9C1965.2 654.8 1969.8 650.5 1974.5 646.2C1979.2 641.9 1983.8 637.1 1988.5 632.2C1993.2 627.4 1997.8 621.9 2002.5 617.1C2007.1 612.2 2011.8 607.4 2016.5 603.1C2021.1 598.8 2025.8 594.9 2030.5 591.4C2035.1 587.9 2040.6 584.3 2044.4 582.1C2048.3 579.9 2051.1 579.1 2053.8 578.1C2056.5 577.2 2058.0 576.0 2060.8 576.3C2063.5 576.5 2068.0 579.5 2070.1 579.8C2072.2 580.1 2073.0 578.4 2073.6 578.1" fill="none" stroke="#1111dd" stroke-width="1.2"/>
<path d="M1881.2 698.7C1882.8 696.6 1887.5 689.8 1890.6 686.3C1893.7 682.8 1896.4 680.3 1899.9 677.7C1903.4 675.1 1906.9 672.5 1911.6 670.7C1916.2 668.9 1922.0 668.0 1927.9 666.7C1933.7 665.4 1941.1 664.7 1946.5 663.0C1952.0 661.3 1955.8 659.6 1960.5 656.7C1965.2 653.8 1972.2 647.6 1974.5 645.7" fill="none" stroke="#1111dd" stroke-width="1.2" stroke-dasharray="2.6 2.2"/>
</g>
<text x="1840.4" y="603.8" font-size="8.8" fill="#000000" transform="rotate(-38 1840.4 603.8)">175 K</text>
<text x="1856.1" y="627.6" font-size="8.8" fill="#ee1111" transform="rotate(-52 1856.1 627.6)">187 K</text>
<text x="1872.6" y="639.9" font-size="8.8" fill="#1111dd" transform="rotate(-52 1872.6 639.9)">196 K</text>
<text x="1897.6" y="645.7" font-size="8.8" fill="#00dd00" transform="rotate(-52 1897.6 645.7)">208 K</text>
<text x="1924.4" y="648.1" font-size="8.8" fill="#ee11dd" transform="rotate(-52 1924.4 648.1)">220 K</text>
<text x="1957.7" y="649.0" font-size="8.8" fill="#00dddd" transform="rotate(-52 1957.7 649.0)">239 K</text>
<text x="1985.0" y="649.2" font-size="9.7" fill="#1111dd">196 K, tan <tspan class="s" font-size="11">δ</tspan></text>
<text x="1882.9" y="585.1" font-size="14.5" fill="#000" class="s">β</text>
<text x="2023.0" y="519.8" font-size="14.5" fill="#000" class="s">γ</text>
<text x="1967.5" y="686.3" font-size="15.9" fill="#000">TPMTGE</text>
<text x="2053.3" y="690.0" font-size="9.5" fill="#000">(b)</text>
<path d="M1981.0 508.2H2073.1V700.0H1831.6V508.2H1834.1" fill="none" stroke="#000" stroke-width="1.1"/>
<path d="M1865.4 700.0V696.2M1931.8 700.0V696.2M1998.2 700.0V696.2M2064.6 700.0V696.2" stroke="#000" stroke-width="0.9" fill="none"/>
<path d="M1898.6 700.0V697.8M1965.0 700.0V697.8M2031.4 700.0V697.8" stroke="#000" stroke-width="0.9" fill="none"/>
<path d="M1998.2 508.2V512.0M2064.6 508.2V512.0" stroke="#000" stroke-width="0.9" fill="none"/>
<path d="M2031.4 508.2V510.4" stroke="#000" stroke-width="0.9" fill="none"/>
<path d="M1831.6 535.9H1835.4M2073.1 535.9H2069.3M1831.6 663.1H1835.4M2073.1 663.1H2069.3" stroke="#000" stroke-width="0.9" fill="none"/>
<path d="M1831.6 624.8H1833.8M2073.1 624.8H2070.9M1831.6 602.4H1833.8M2073.1 602.4H2070.9M1831.6 586.5H1833.8M2073.1 586.5H2070.9M1831.6 574.2H1833.8M2073.1 574.2H2070.9M1831.6 564.1H1833.8M2073.1 564.1H2070.9M1831.6 555.6H1833.8M2073.1 555.6H2070.9M1831.6 548.2H1833.8M2073.1 548.2H2070.9M1831.6 541.7H1833.8M2073.1 541.7H2070.9M1831.6 691.3H1833.8M2073.1 691.3H2070.9M1831.6 682.8H1833.8M2073.1 682.8H2070.9M1831.6 675.4H1833.8M2073.1 675.4H2070.9M1831.6 668.9H1833.8M2073.1 668.9H2070.9" stroke="#000" stroke-width="0.9" fill="none"/>
<text x="1816.1" y="540.3" font-size="12.5" text-anchor="middle">10<tspan dy="-5.2" font-size="7.8">-1</tspan></text>
<text x="1816.1" y="667.5" font-size="12.5" text-anchor="middle">10<tspan dy="-5.2" font-size="7.8">-2</tspan></text>
<text x="1865.4" y="717.0" font-size="12.5" text-anchor="middle">10<tspan dy="-5.2" font-size="7.8">0</tspan></text>
<text x="1931.8" y="717.0" font-size="12.5" text-anchor="middle">10<tspan dy="-5.2" font-size="7.8">2</tspan></text>
<text x="1998.2" y="717.0" font-size="12.5" text-anchor="middle">10<tspan dy="-5.2" font-size="7.8">4</tspan></text>
<text x="2064.6" y="717.0" font-size="12.5" text-anchor="middle">10<tspan dy="-5.2" font-size="7.8">6</tspan></text>
<text x="1800.5" y="608.0" font-size="15" fill="#000" transform="rotate(-90 1800.5 608.0)" class="s">ε"</text>
<text x="1949" y="734.5" font-size="14.8" text-anchor="middle"><tspan class="s" font-size="14">ν</tspan> (Hz)</text>
<defs><clipPath id="c3a"><rect x="2207.8" y="391.2" width="241.3" height="134.5"/></clipPath><clipPath id="c3b"><rect x="2207.8" y="538.2" width="241.3" height="190.6"/></clipPath></defs>
<g clip-path="url(#c3a)">
<path d="M2207.8 430.8C2213.7 431.0 2231.5 431.2 2243.3 431.8C2255.0 432.3 2266.6 433.1 2278.2 434.1C2289.9 435.1 2301.6 436.7 2313.2 437.8C2324.9 439.0 2338.5 440.2 2348.2 441.1C2357.9 441.9 2363.7 442.1 2371.5 443.0C2379.3 443.8 2387.0 444.7 2394.8 446.4C2402.6 448.2 2410.0 449.8 2418.1 453.4C2426.3 457.1 2439.5 466.1 2443.8 468.6" fill="none" stroke="#00dd00" stroke-width="1.2"/>
<path d="M2207.8 407.5C2213.7 407.6 2231.5 407.6 2243.3 408.0C2255.0 408.4 2266.6 409.0 2278.2 409.8C2289.9 410.7 2301.6 412.0 2313.2 413.3C2324.9 414.7 2336.5 415.9 2348.2 417.8C2359.8 419.6 2373.4 422.0 2383.2 424.3C2392.9 426.6 2398.7 428.6 2406.5 431.3C2414.2 434.0 2423.6 437.7 2429.8 440.6C2436.0 443.5 2441.4 447.4 2443.8 448.8" fill="none" stroke="#00dd00" stroke-width="1.3" stroke-dasharray="1.4 3.0"/>
<path d="M2207.8 436.7C2213.7 436.8 2231.5 437.0 2243.3 437.6C2255.0 438.2 2266.6 438.9 2278.2 440.2C2289.9 441.4 2301.6 443.5 2313.2 444.8C2324.9 446.2 2338.5 447.1 2348.2 448.3C2357.9 449.6 2363.7 450.5 2371.5 452.3C2379.3 454.1 2387.0 456.2 2394.8 459.3C2402.6 462.4 2410.0 466.3 2418.1 470.9C2426.3 475.6 2439.5 484.5 2443.8 487.3" fill="none" stroke="#000000" stroke-width="1.2"/>
<path d="M2207.8 412.2C2213.7 412.4 2231.5 413.0 2243.3 413.8C2255.0 414.7 2266.6 415.9 2278.2 417.3C2289.9 418.7 2301.6 420.2 2313.2 422.0C2324.9 423.7 2336.5 425.5 2348.2 427.8C2359.8 430.1 2373.4 433.0 2383.2 436.0C2392.9 438.9 2398.7 441.8 2406.5 445.3C2414.2 448.8 2423.6 453.6 2429.8 456.9C2436.0 460.2 2441.4 463.7 2443.8 465.1" fill="none" stroke="#000000" stroke-width="1.3" stroke-dasharray="1.4 3.0"/>
<path d="M2207.8 441.1C2213.7 441.6 2231.5 442.8 2243.3 444.1C2255.0 445.4 2266.6 447.3 2278.2 448.8C2289.9 450.2 2301.6 451.4 2313.2 452.7C2324.9 454.1 2338.5 455.3 2348.2 456.9C2357.9 458.6 2363.7 460.2 2371.5 462.8C2379.3 465.3 2387.0 468.2 2394.8 472.1C2402.6 476.0 2410.0 480.6 2418.1 486.1C2426.3 491.5 2439.5 501.6 2443.8 504.7" fill="none" stroke="#ee1111" stroke-width="1.2"/>
<path d="M2207.8 417.3C2213.7 417.7 2231.5 418.5 2243.3 419.6C2255.0 420.8 2266.6 422.6 2278.2 424.3C2289.9 426.0 2301.6 428.0 2313.2 430.1C2324.9 432.3 2336.5 434.2 2348.2 437.1C2359.8 440.0 2373.4 443.9 2383.2 447.6C2392.9 451.3 2398.7 454.6 2406.5 459.3C2414.2 463.9 2423.6 470.9 2429.8 475.6C2436.0 480.3 2441.4 485.3 2443.8 487.3" fill="none" stroke="#ee1111" stroke-width="1.3" stroke-dasharray="1.4 3.0"/>
<path d="M2207.8 446.4C2213.7 447.4 2231.5 450.5 2243.3 452.3C2255.0 454.0 2266.6 455.4 2278.2 456.9C2289.9 458.5 2301.6 459.7 2313.2 461.6C2324.9 463.5 2338.5 466.1 2348.2 468.6C2357.9 471.1 2363.7 473.7 2371.5 476.8C2379.3 479.9 2387.0 482.8 2394.8 487.3C2402.6 491.7 2410.0 497.9 2418.1 503.6C2426.3 509.2 2439.5 518.1 2443.8 521.1" fill="none" stroke="#1111dd" stroke-width="1.2"/>
<path d="M2207.8 422.7C2213.7 423.7 2231.5 426.9 2243.3 429.0C2255.0 431.0 2266.6 432.7 2278.2 434.8C2289.9 436.9 2301.6 439.3 2313.2 441.8C2324.9 444.3 2336.5 446.4 2348.2 449.9C2359.8 453.4 2373.4 458.5 2383.2 462.8C2392.9 467.0 2398.7 470.7 2406.5 475.6C2414.2 480.5 2423.6 487.4 2429.8 491.9C2436.0 496.4 2441.4 500.7 2443.8 502.4" fill="none" stroke="#1111dd" stroke-width="1.3" stroke-dasharray="1.4 3.0"/>
</g>
<text x="2420.5" y="466.7" font-size="9.8" fill="#00dd00" transform="rotate(20 2420.5 466.7)">219 K</text>
<text x="2411.6" y="478.4" font-size="9.8" fill="#000000" transform="rotate(24 2411.6 478.4)">207 K</text>
<text x="2404.6" y="491.4" font-size="9.8" fill="#ee1111" transform="rotate(25 2404.6 491.4)">195 K</text>
<text x="2397.6" y="504.3" font-size="9.8" fill="#1111dd" transform="rotate(27 2397.6 504.3)">183 K</text>
<text x="2362.9" y="413.8" font-size="15.8" fill="#000">DGEBA</text>
<text x="2428.6" y="411.0" font-size="9.5" fill="#000">(a)</text>
<g clip-path="url(#c3b)">
<path d="M2207.8 651.7C2209.8 650.4 2216.0 645.8 2219.9 643.6C2223.9 641.4 2227.7 639.4 2231.6 638.4C2235.5 637.5 2239.0 637.5 2243.3 637.7C2247.5 638.0 2252.6 639.3 2257.3 640.1C2261.9 640.9 2266.6 642.0 2271.2 642.4C2275.9 642.8 2280.6 642.8 2285.2 642.4C2289.9 642.0 2294.6 641.8 2299.2 640.1C2303.9 638.3 2308.5 635.2 2313.2 631.9C2317.9 628.6 2322.5 624.5 2327.2 620.3C2331.9 616.0 2336.5 610.7 2341.2 606.3C2345.8 601.8 2350.5 597.3 2355.2 593.4C2359.8 589.6 2364.5 586.3 2369.2 583.0C2373.8 579.6 2378.5 576.5 2383.2 573.6C2387.8 570.7 2393.6 567.3 2397.1 565.5C2400.6 563.6 2400.6 563.0 2404.1 562.4C2407.6 561.9 2411.5 562.0 2418.1 562.0C2424.7 561.9 2439.5 562.0 2443.8 562.0" fill="none" stroke="#1111dd" stroke-width="1.2"/>
<path d="M2207.8 643.6C2209.8 642.6 2216.0 639.3 2219.9 637.7C2223.9 636.2 2227.7 634.9 2231.6 634.2C2235.5 633.5 2239.0 633.4 2243.3 633.5C2247.5 633.7 2252.6 634.3 2257.3 634.9C2261.9 635.6 2266.6 636.8 2271.2 637.3C2275.9 637.7 2280.6 638.1 2285.2 637.7C2289.9 637.4 2294.6 637.4 2299.2 635.4C2303.9 633.5 2308.5 629.6 2313.2 626.1C2317.9 622.6 2322.5 618.7 2327.2 614.4C2331.9 610.2 2336.5 604.7 2341.2 600.4C2345.8 596.2 2350.5 592.5 2355.2 588.8C2359.8 585.1 2364.5 581.4 2369.2 578.3C2373.8 575.2 2378.5 572.7 2383.2 570.1C2387.8 567.6 2393.3 564.9 2397.1 563.1C2401.0 561.4 2403.0 560.4 2406.5 559.6C2410.0 558.9 2414.2 559.1 2418.1 558.5C2422.0 557.9 2425.5 557.1 2429.8 556.1C2434.1 555.2 2441.4 553.2 2443.8 552.6" fill="none" stroke="#1111dd" stroke-width="1.3" stroke-dasharray="1.4 3.0"/>
<path d="M2207.8 698.4C2209.8 695.4 2216.0 686.1 2219.9 680.9C2223.9 675.6 2227.7 671.4 2231.6 666.9C2235.5 662.4 2239.4 657.6 2243.3 654.1C2247.1 650.6 2251.0 648.0 2254.9 645.9C2258.8 643.8 2262.3 642.6 2266.6 641.7C2270.9 640.9 2275.1 640.7 2280.6 640.8C2286.0 640.9 2293.8 642.1 2299.2 642.4C2304.7 642.7 2308.5 643.2 2313.2 642.4C2317.9 641.6 2322.5 640.3 2327.2 637.7C2331.9 635.2 2336.5 631.3 2341.2 627.3C2345.8 623.2 2350.5 618.1 2355.2 613.3C2359.8 608.4 2364.5 602.8 2369.2 598.1C2373.8 593.4 2378.5 589.2 2383.2 585.3C2387.8 581.4 2392.5 578.1 2397.1 574.8C2401.8 571.5 2406.5 567.8 2411.1 565.5C2415.8 563.1 2419.7 562.7 2425.1 560.8C2430.6 558.9 2440.7 555.0 2443.8 553.8" fill="none" stroke="#ee1111" stroke-width="1.2"/>
<path d="M2207.8 693.7C2209.8 691.0 2216.0 682.5 2219.9 677.4C2223.9 672.2 2227.7 667.2 2231.6 662.7C2235.5 658.2 2239.4 653.9 2243.3 650.6C2247.1 647.2 2251.0 644.4 2254.9 642.4C2258.8 640.4 2262.3 639.3 2266.6 638.4C2270.9 637.5 2275.1 637.0 2280.6 637.0C2286.0 637.0 2293.8 638.1 2299.2 638.4C2304.7 638.8 2308.5 639.6 2313.2 638.9C2317.9 638.2 2322.5 637.0 2327.2 634.2C2331.9 631.5 2336.5 626.9 2341.2 622.6C2345.8 618.3 2350.5 613.3 2355.2 608.6C2359.8 603.9 2364.5 598.6 2369.2 594.1C2373.8 589.7 2378.5 585.6 2383.2 581.8C2387.8 578.0 2392.5 574.4 2397.1 571.3C2401.8 568.2 2406.5 565.5 2411.1 563.1C2415.8 560.8 2419.7 559.4 2425.1 557.3C2430.6 555.2 2440.7 551.5 2443.8 550.3" fill="none" stroke="#ee1111" stroke-width="1.3" stroke-dasharray="1.4 3.0"/>
<path d="M2213.0 728.7C2215.3 725.4 2221.9 715.8 2226.9 708.9C2232.0 701.9 2238.2 693.3 2243.3 686.7C2248.3 680.1 2252.6 674.3 2257.3 669.2C2261.9 664.2 2266.6 659.9 2271.2 656.4C2275.9 652.9 2280.6 650.1 2285.2 648.2C2289.9 646.4 2294.6 646.0 2299.2 645.4C2303.9 644.9 2308.5 645.1 2313.2 644.7C2317.9 644.3 2322.5 643.9 2327.2 643.1C2331.9 642.3 2337.3 641.4 2341.2 640.1C2345.1 638.8 2346.6 638.3 2350.5 635.4C2354.4 632.5 2359.8 627.3 2364.5 622.6C2369.2 617.9 2373.8 612.5 2378.5 607.4C2383.2 602.4 2387.8 596.9 2392.5 592.3C2397.1 587.6 2401.8 583.5 2406.5 579.5C2411.1 575.4 2415.8 571.3 2420.5 567.8C2425.1 564.3 2430.6 561.0 2434.4 558.5C2438.3 555.9 2442.2 553.6 2443.8 552.6" fill="none" stroke="#000000" stroke-width="1.2"/>
<path d="M2207.8 728.7C2210.2 725.4 2217.1 715.8 2222.3 708.9C2227.4 701.9 2233.5 693.3 2238.6 686.7C2243.7 680.1 2247.9 674.3 2252.6 669.2C2257.3 664.2 2261.9 660.0 2266.6 656.4C2271.2 652.8 2275.9 649.9 2280.6 647.8C2285.2 645.6 2289.1 644.6 2294.6 643.6C2300.0 642.6 2307.8 642.3 2313.2 641.7C2318.6 641.1 2322.5 641.0 2327.2 640.1C2331.9 639.1 2337.3 637.7 2341.2 636.1C2345.1 634.6 2346.6 633.8 2350.5 630.7C2354.4 627.7 2359.8 622.5 2364.5 617.9C2369.2 613.4 2373.8 608.3 2378.5 603.5C2383.2 598.6 2387.8 593.3 2392.5 588.8C2397.1 584.3 2401.8 580.3 2406.5 576.4C2411.1 572.5 2415.8 568.8 2420.5 565.5C2425.1 562.1 2430.6 558.7 2434.4 556.1C2438.3 553.5 2442.2 550.9 2443.8 549.8" fill="none" stroke="#000000" stroke-width="1.3" stroke-dasharray="1.4 3.0"/>
<path d="M2229.3 728.7C2231.6 727.7 2238.6 726.1 2243.3 722.8C2247.9 719.5 2252.6 713.9 2257.3 708.9C2261.9 703.8 2266.6 698.0 2271.2 692.5C2275.9 687.1 2280.6 681.3 2285.2 676.2C2289.9 671.2 2295.3 665.7 2299.2 662.2C2303.1 658.7 2304.7 657.4 2308.5 655.2C2312.4 653.1 2317.9 650.8 2322.5 649.4C2327.2 648.0 2331.9 648.0 2336.5 647.1C2341.2 646.1 2346.6 644.9 2350.5 643.6C2354.4 642.2 2356.0 641.6 2359.8 638.9C2363.7 636.2 2369.2 631.9 2373.8 627.3C2378.5 622.6 2383.2 616.4 2387.8 610.9C2392.5 605.5 2397.1 599.9 2401.8 594.6C2406.5 589.4 2411.1 584.3 2415.8 579.5C2420.5 574.6 2425.1 569.5 2429.8 565.5C2434.4 561.4 2441.4 556.7 2443.8 555.0" fill="none" stroke="#00dd00" stroke-width="1.2"/>
<path d="M2207.8 718.2C2209.5 718.6 2214.4 720.6 2217.6 721.0C2220.8 721.4 2222.7 721.4 2226.9 720.5C2231.2 719.7 2238.2 719.0 2243.3 715.8C2248.3 712.7 2252.6 707.1 2257.3 701.9C2261.9 696.6 2266.6 689.8 2271.2 684.4C2275.9 678.9 2280.6 673.9 2285.2 669.2C2289.9 664.6 2294.6 659.7 2299.2 656.4C2303.9 653.1 2308.5 651.1 2313.2 649.4C2317.9 647.7 2322.5 647.0 2327.2 645.9C2331.9 644.9 2336.5 644.5 2341.2 643.1C2345.8 641.7 2350.5 640.6 2355.2 637.7C2359.8 634.9 2364.5 630.6 2369.2 626.1C2373.8 621.6 2378.5 616.2 2383.2 610.9C2387.8 605.7 2392.5 599.7 2397.1 594.6C2401.8 589.5 2406.5 584.8 2411.1 580.2C2415.8 575.5 2419.7 571.4 2425.1 566.6C2430.6 561.9 2440.7 554.0 2443.8 551.5" fill="none" stroke="#00dd00" stroke-width="1.3" stroke-dasharray="1.4 3.0"/>
<path d="M2229.3 728.7C2230.8 727.3 2235.1 723.8 2238.6 720.5C2242.1 717.2 2246.4 711.7 2250.3 708.9C2254.1 706.1 2257.6 704.8 2261.9 703.7C2266.2 702.7 2270.5 702.6 2275.9 702.6C2281.3 702.6 2288.3 703.6 2294.6 703.7C2300.8 703.8 2307.8 703.9 2313.2 703.0C2318.6 702.1 2322.5 700.9 2327.2 698.4C2331.9 695.8 2336.5 692.0 2341.2 687.9C2345.8 683.8 2350.5 678.7 2355.2 673.9C2359.8 669.0 2364.5 663.8 2369.2 658.7C2373.8 653.7 2378.5 648.2 2383.2 643.6C2387.8 638.9 2392.5 634.2 2397.1 630.7C2401.8 627.3 2406.5 624.9 2411.1 622.6C2415.8 620.3 2420.5 618.5 2425.1 616.8C2429.8 615.0 2435.1 613.1 2439.1 612.1C2443.1 611.0 2447.5 610.7 2449.1 610.5" fill="none" stroke="#ee1111" stroke-width="1.2"/>
<path d="M2229.3 727.5C2230.8 726.0 2235.1 722.1 2238.6 718.6C2242.1 715.2 2246.4 709.5 2250.3 706.5C2254.1 703.5 2257.6 701.9 2261.9 700.7C2266.2 699.5 2270.5 699.5 2275.9 699.5C2281.3 699.5 2288.3 700.6 2294.6 700.7C2300.8 700.8 2307.8 701.0 2313.2 700.2C2318.6 699.5 2322.5 698.4 2327.2 696.0C2331.9 693.7 2336.5 690.0 2341.2 686.0C2345.8 682.0 2350.5 677.0 2355.2 672.2C2359.8 667.5 2364.5 662.5 2369.2 657.6C2373.8 652.6 2378.5 647.3 2383.2 642.6C2387.8 638.0 2392.5 633.3 2397.1 629.8C2401.8 626.3 2406.5 624.0 2411.1 621.7C2415.8 619.3 2420.5 617.6 2425.1 615.8C2429.8 614.1 2435.1 612.2 2439.1 611.2C2443.1 610.1 2447.5 609.8 2449.1 609.5" fill="none" stroke="#ee1111" stroke-width="1.3" stroke-dasharray="1.4 3.0"/>
</g>
<text x="2207.1" y="669.2" font-size="9.8" fill="#1111dd" transform="rotate(-45 2207.1 669.2)">183 K</text>
<text x="2228.1" y="686.0" font-size="9.8" fill="#ee1111" transform="rotate(-52 2228.1 686.0)">195 K</text>
<text x="2253.8" y="692.1" font-size="9.8" fill="#000000" transform="rotate(-55 2253.8 692.1)">207 K</text>
<text x="2281.0" y="694.4" font-size="9.8" fill="#00dd00" transform="rotate(-55 2281.0 694.4)">219 K</text>
<text x="2357.5" y="684.4" font-size="9.7" fill="#ee1111">195 K, tan <tspan class="s" font-size="11">δ</tspan></text>
<text x="2270.5" y="630.7" font-size="14.5" fill="#000" class="s">β</text>
<text x="2424.7" y="589.9" font-size="14.5" fill="#000" class="s">γ</text>
<text x="2428.6" y="717.7" font-size="9.5" fill="#000">(b)</text>
<path d="M2391.3 525.7H2400.1M2397.9 525.7V522.7M2427.5 525.7H2449.1V391.2H2207.8" fill="none" stroke="#000" stroke-width="1.1"/>
<path d="M2207.8 391.2V525.7H2211.6" fill="none" stroke="#000" stroke-width="1.1"/>
<path d="M2391.3 538.2H2400.1M2397.9 538.2V541.2M2427.5 538.2H2449.1V728.8H2207.8V538.2H2211.6" fill="none" stroke="#000" stroke-width="1.1"/>
<path d="M2284.5 391.2V395.0M2361.2 391.2V395.0M2437.9 391.2V395.0" stroke="#000" stroke-width="0.9" fill="none"/>
<path d="M2246.2 391.2V393.4M2322.9 391.2V393.4M2399.6 391.2V393.4" stroke="#000" stroke-width="0.9" fill="none"/>
<path d="M2437.9 525.7V521.9" stroke="#000" stroke-width="0.9" fill="none"/>
<path d="M2284.5 728.8V725.0M2361.2 728.8V725.0M2437.9 728.8V725.0" stroke="#000" stroke-width="0.9" fill="none"/>
<path d="M2246.2 728.8V726.6M2322.9 728.8V726.6M2399.6 728.8V726.6" stroke="#000" stroke-width="0.9" fill="none"/>
<path d="M2437.9 538.2V542.0" stroke="#000" stroke-width="0.9" fill="none"/>
<path d="M2207.8 458.8H2211.6M2449.1 458.8H2445.3" stroke="#000" stroke-width="0.9" fill="none"/>
<path d="M2207.8 408.0H2210.0M2449.1 408.0H2446.9M2207.8 424.9H2210.0M2449.1 424.9H2446.9M2207.8 441.7H2210.0M2449.1 441.7H2446.9" stroke="#000" stroke-width="0.9" fill="none"/>
<path d="M2207.8 475.3H2210.0M2449.1 475.3H2446.9M2207.8 492.2H2210.0M2449.1 492.2H2446.9M2207.8 509.0H2210.0M2449.1 509.0H2446.9" stroke="#000" stroke-width="0.9" fill="none"/>
<text x="2201.3" y="395.6" font-size="12.5" fill="#000" text-anchor="end">3.8</text>
<text x="2201.3" y="463.2" font-size="12.5" fill="#000" text-anchor="end">3.4</text>
<text x="2201.3" y="530.1" font-size="12.5" fill="#000" text-anchor="end">3.0</text>
<text x="2176.5" y="465.5" font-size="15" fill="#000" transform="rotate(-90 2176.5 465.5)" class="s">ε'</text>
<path d="M2207.8 564.8H2211.6M2449.1 564.8H2445.3M2207.8 678.0H2211.6M2449.1 678.0H2445.3" stroke="#000" stroke-width="0.9" fill="none"/>
<path d="M2207.8 644.2H2210.0M2449.1 644.2H2446.9M2207.8 624.2H2210.0M2449.1 624.2H2446.9M2207.8 610.0H2210.0M2449.1 610.0H2446.9M2207.8 599.0H2210.0M2449.1 599.0H2446.9M2207.8 590.0H2210.0M2449.1 590.0H2446.9M2207.8 582.4H2210.0M2449.1 582.4H2446.9M2207.8 575.8H2210.0M2449.1 575.8H2446.9M2207.8 570.0H2210.0M2449.1 570.0H2446.9M2207.8 723.6H2210.0M2449.1 723.6H2446.9M2207.8 712.6H2210.0M2449.1 712.6H2446.9M2207.8 703.6H2210.0M2449.1 703.6H2446.9M2207.8 696.0H2210.0M2449.1 696.0H2446.9M2207.8 689.4H2210.0M2449.1 689.4H2446.9M2207.8 683.6H2210.0M2449.1 683.6H2446.9" stroke="#000" stroke-width="0.9" fill="none"/>
<text x="2192.3" y="569.2" font-size="12.5" text-anchor="middle">10<tspan dy="-5.2" font-size="7.8">-1</tspan></text>
<text x="2192.3" y="682.4" font-size="12.5" text-anchor="middle">10<tspan dy="-5.2" font-size="7.8">-2</tspan></text>
<text x="2208.8" y="747.0" font-size="12.5" text-anchor="middle">10<tspan dy="-5.2" font-size="7.8">0</tspan></text>
<text x="2285.5" y="747.0" font-size="12.5" text-anchor="middle">10<tspan dy="-5.2" font-size="7.8">2</tspan></text>
<text x="2362.2" y="747.0" font-size="12.5" text-anchor="middle">10<tspan dy="-5.2" font-size="7.8">4</tspan></text>
<text x="2438.9" y="747.0" font-size="12.5" text-anchor="middle">10<tspan dy="-5.2" font-size="7.8">6</tspan></text>
<text x="2176.5" y="636.5" font-size="15" fill="#000" transform="rotate(-90 2176.5 636.5)" class="s">ε"</text>
<text x="2325" y="763.5" font-size="14.8" text-anchor="middle"><tspan class="s" font-size="14">ν</tspan> (Hz)</text>
<rect x="2221.1" y="477.5" width="119.6" height="87.7" fill="#fff"/>
<rect x="2221.1" y="477.5" width="119.6" height="87.7" fill="none" stroke="#000" stroke-width="1.0"/>
<circle cx="2228.1" cy="545.1" r="2.1" fill="#fff" stroke="#ee1111" stroke-width="0.9"/>
<circle cx="2233.2" cy="550.2" r="2.1" fill="#fff" stroke="#ee1111" stroke-width="0.9"/>
<circle cx="2238.4" cy="532.7" r="2.1" fill="#fff" stroke="#ee1111" stroke-width="0.9"/>
<circle cx="2243.7" cy="516.4" r="2.1" fill="#fff" stroke="#ee1111" stroke-width="0.9"/>
<circle cx="2249.1" cy="504.3" r="2.1" fill="#fff" stroke="#ee1111" stroke-width="0.9"/>
<circle cx="2254.2" cy="500.5" r="2.1" fill="#fff" stroke="#ee1111" stroke-width="0.9"/>
<circle cx="2259.6" cy="490.7" r="2.1" fill="#fff" stroke="#ee1111" stroke-width="0.9"/>
<circle cx="2264.5" cy="489.6" r="2.1" fill="#fff" stroke="#ee1111" stroke-width="0.9"/>
<circle cx="2269.6" cy="491.2" r="2.1" fill="#fff" stroke="#ee1111" stroke-width="0.9"/>
<circle cx="2275.2" cy="498.4" r="2.1" fill="#fff" stroke="#ee1111" stroke-width="0.9"/>
<circle cx="2280.3" cy="506.4" r="2.1" fill="#fff" stroke="#ee1111" stroke-width="0.9"/>
<circle cx="2285.5" cy="517.6" r="2.1" fill="#fff" stroke="#ee1111" stroke-width="0.9"/>
<circle cx="2290.6" cy="526.9" r="2.1" fill="#fff" stroke="#ee1111" stroke-width="0.9"/>
<circle cx="2296.0" cy="533.2" r="2.1" fill="#fff" stroke="#ee1111" stroke-width="0.9"/>
<circle cx="2301.1" cy="537.8" r="2.1" fill="#fff" stroke="#ee1111" stroke-width="0.9"/>
<circle cx="2306.2" cy="540.9" r="2.1" fill="#fff" stroke="#ee1111" stroke-width="0.9"/>
<circle cx="2311.3" cy="544.6" r="2.1" fill="#fff" stroke="#ee1111" stroke-width="0.9"/>
<circle cx="2316.5" cy="560.7" r="2.1" fill="#fff" stroke="#ee1111" stroke-width="0.9"/>
<circle cx="2321.8" cy="544.1" r="2.1" fill="#fff" stroke="#ee1111" stroke-width="0.9"/>
<circle cx="2327.2" cy="546.7" r="2.1" fill="#fff" stroke="#ee1111" stroke-width="0.9"/>
<circle cx="2332.3" cy="547.4" r="2.1" fill="#fff" stroke="#ee1111" stroke-width="0.9"/>
<circle cx="2337.5" cy="536.2" r="2.1" fill="#fff" stroke="#ee1111" stroke-width="0.9"/>
<text x="2252.6" y="545.5" font-size="10.5" fill="#ee1111">195 K</text>
<path d="M2221.1 565.2V562.0M2221.1 477.5V480.7M2258.4 565.2V562.0M2258.4 477.5V480.7M2296.9 565.2V562.0M2296.9 477.5V480.7M2335.4 565.2V562.0M2335.4 477.5V480.7" stroke="#000" stroke-width="0.9" fill="none"/>
<path d="M2239.8 565.2V563.3M2239.8 477.5V479.4M2277.8 565.2V563.3M2277.8 477.5V479.4M2316.0 565.2V563.3M2316.0 477.5V479.4" stroke="#000" stroke-width="0.9" fill="none"/>
<path d="M2221.1 494.7H2224.3M2340.7 494.7H2337.5M2221.1 530.4H2224.3M2340.7 530.4H2337.5" stroke="#000" stroke-width="0.9" fill="none"/>
<path d="M2221.1 476.9H2223.0M2340.7 476.9H2338.8M2221.1 512.5H2223.0M2340.7 512.5H2338.8M2221.1 548.2H2223.0M2340.7 548.2H2338.8" stroke="#000" stroke-width="0.9" fill="none"/>
<text x="2344.2" y="498.2" font-size="9.8" fill="#000">1.10</text>
<text x="2344.2" y="533.9" font-size="9.8" fill="#000">1.08</text>
<text x="2344.2" y="568.7" font-size="9.8" fill="#000">1.06</text>
<text x="2221.1" y="580.0" font-size="10.2" text-anchor="middle">10<tspan dy="-4.3" font-size="6.3">0</tspan></text>
<text x="2258.4" y="580.0" font-size="10.2" text-anchor="middle">10<tspan dy="-4.3" font-size="6.3">2</tspan></text>
<text x="2296.9" y="580.0" font-size="10.2" text-anchor="middle">10<tspan dy="-4.3" font-size="6.3">4</tspan></text>
<text x="2335.4" y="580.0" font-size="10.2" text-anchor="middle">10<tspan dy="-4.3" font-size="6.3">6</tspan></text>
<text x="2378.0" y="493.5" font-size="9.2" transform="rotate(90 2378.0 493.5)"><tspan class="s" font-size="13">ε"</tspan><tspan dy="5.0" dx="1.5">el</tspan><tspan dy="-5.0" font-size="12" dx="-1.5"> / </tspan><tspan class="s" font-size="13" dx="0">ε"</tspan><tspan dy="5.0" dx="1.5">non-el</tspan></text>
<defs><clipPath id="c4a"><rect x="2671.3" y="521.0" width="244.1" height="177.3"/></clipPath><clipPath id="c4b"><rect x="2671.3" y="728.1" width="244.1" height="177.8"/></clipPath><clipPath id="c4i"><rect x="2680.6" y="530.3" width="94.9" height="71.8"/></clipPath><clipPath id="c4j"><rect x="2680.6" y="737.5" width="94.9" height="71.6"/></clipPath></defs>
<g clip-path="url(#c4a)">
<path d="M2669.5 699.3C2670.2 698.8 2671.3 698.3 2674.1 695.8C2676.9 693.4 2682.3 688.7 2686.2 684.7C2690.2 680.6 2694.0 676.0 2697.9 671.6C2701.8 667.2 2705.8 662.4 2709.8 658.1C2713.8 653.7 2718.0 649.3 2721.9 645.5C2725.9 641.6 2729.6 638.0 2733.6 635.0C2737.5 632.0 2741.5 629.5 2745.5 627.3C2749.4 625.1 2753.4 623.3 2757.4 621.9C2761.3 620.5 2765.1 620.0 2769.0 618.9C2772.9 617.8 2776.9 616.8 2780.9 615.4C2784.9 614.1 2788.8 612.4 2792.8 610.7C2796.8 609.1 2800.8 607.6 2804.7 605.4C2808.6 603.2 2812.4 600.5 2816.3 597.5C2820.3 594.4 2824.3 590.5 2828.2 587.0C2832.2 583.4 2836.2 579.9 2840.1 576.2C2844.1 572.6 2848.1 568.9 2852.0 565.3C2855.9 561.7 2859.7 557.9 2863.7 554.6C2867.6 551.2 2871.6 548.0 2875.6 545.0C2879.5 542.0 2883.5 539.2 2887.5 536.8C2891.4 534.5 2897.2 531.8 2899.1 530.8" fill="none" stroke="#22dd22" stroke-width="1.2" stroke-dasharray="1.3 2.6"/>
<path d="M2669.5 698.9C2670.2 698.3 2671.3 697.8 2674.1 695.4C2676.9 692.9 2682.3 688.0 2686.2 684.2C2690.2 680.3 2694.0 676.5 2697.9 672.3C2701.8 668.1 2705.8 663.1 2709.8 658.8C2713.8 654.4 2718.0 650.0 2721.9 646.2C2725.9 642.3 2729.6 638.9 2733.6 635.7C2737.5 632.5 2741.5 629.2 2745.5 626.8C2749.4 624.5 2753.4 622.9 2757.4 621.5C2761.3 620.1 2765.1 619.5 2769.0 618.4C2772.9 617.4 2776.9 616.3 2780.9 614.9C2784.9 613.6 2788.8 612.1 2792.8 610.3C2796.8 608.5 2800.8 606.6 2804.7 604.2C2808.6 601.9 2812.4 599.2 2816.3 596.3C2820.3 593.4 2824.3 590.3 2828.2 587.0C2832.2 583.6 2836.2 579.9 2840.1 576.2C2844.1 572.6 2848.1 568.9 2852.0 565.3C2855.9 561.7 2859.7 557.9 2863.7 554.6C2867.6 551.2 2871.6 548.0 2875.6 545.0C2879.5 542.0 2883.5 539.2 2887.5 536.8C2891.4 534.5 2897.2 531.8 2899.1 530.8" fill="none" stroke="#1111dd" stroke-width="1.2" stroke-dasharray="3.2 2.6"/>
<path d="M2669.5 698.2C2670.2 697.6 2671.3 697.1 2674.1 694.7C2676.9 692.2 2682.3 687.6 2686.2 683.5C2690.2 679.4 2694.0 674.7 2697.9 670.2C2701.8 665.7 2705.8 661.0 2709.8 656.7C2713.8 652.3 2718.0 647.9 2721.9 644.1C2725.9 640.2 2729.6 636.6 2733.6 633.6C2737.5 630.6 2741.5 628.3 2745.5 626.1C2749.4 624.0 2753.4 622.2 2757.4 620.8C2761.3 619.4 2765.1 618.8 2769.0 617.7C2772.9 616.7 2776.9 615.6 2780.9 614.2C2784.9 612.9 2788.8 611.3 2792.8 609.6C2796.8 607.9 2800.8 606.4 2804.7 604.2C2808.6 602.0 2812.4 599.2 2816.3 596.3C2820.3 593.4 2824.3 590.3 2828.2 587.0C2832.2 583.6 2836.2 579.9 2840.1 576.2C2844.1 572.6 2848.1 568.9 2852.0 565.3C2855.9 561.7 2859.7 557.9 2863.7 554.6C2867.6 551.2 2871.6 548.0 2875.6 545.0C2879.5 542.0 2883.5 539.2 2887.5 536.8C2891.4 534.5 2897.2 531.8 2899.1 530.8" fill="none" stroke="#ee1111" stroke-width="1.2"/>
<circle cx="2674.1" cy="694.7" r="2.4" fill="none" stroke="#000" stroke-width="0.95"/>
<circle cx="2686.2" cy="683.5" r="2.4" fill="none" stroke="#000" stroke-width="0.95"/>
<circle cx="2697.9" cy="670.2" r="2.4" fill="none" stroke="#000" stroke-width="0.95"/>
<circle cx="2709.8" cy="656.7" r="2.4" fill="none" stroke="#000" stroke-width="0.95"/>
<circle cx="2721.9" cy="644.1" r="2.4" fill="none" stroke="#000" stroke-width="0.95"/>
<circle cx="2733.6" cy="633.6" r="2.4" fill="none" stroke="#000" stroke-width="0.95"/>
<circle cx="2745.5" cy="626.1" r="2.4" fill="none" stroke="#000" stroke-width="0.95"/>
<circle cx="2757.4" cy="620.8" r="2.4" fill="none" stroke="#000" stroke-width="0.95"/>
<circle cx="2769.0" cy="617.7" r="2.4" fill="none" stroke="#000" stroke-width="0.95"/>
<circle cx="2780.9" cy="614.2" r="2.4" fill="none" stroke="#000" stroke-width="0.95"/>
<circle cx="2792.8" cy="609.6" r="2.4" fill="none" stroke="#000" stroke-width="0.95"/>
<circle cx="2804.7" cy="604.2" r="2.4" fill="none" stroke="#000" stroke-width="0.95"/>
<circle cx="2816.3" cy="596.3" r="2.4" fill="none" stroke="#000" stroke-width="0.95"/>
<circle cx="2828.2" cy="587.0" r="2.4" fill="none" stroke="#000" stroke-width="0.95"/>
<circle cx="2840.1" cy="576.2" r="2.4" fill="none" stroke="#000" stroke-width="0.95"/>
<circle cx="2852.0" cy="565.3" r="2.4" fill="none" stroke="#000" stroke-width="0.95"/>
<circle cx="2863.7" cy="554.6" r="2.4" fill="none" stroke="#000" stroke-width="0.95"/>
<circle cx="2875.6" cy="545.0" r="2.4" fill="none" stroke="#000" stroke-width="0.95"/>
<circle cx="2887.5" cy="536.8" r="2.4" fill="none" stroke="#000" stroke-width="0.95"/>
<circle cx="2899.1" cy="530.8" r="2.4" fill="none" stroke="#000" stroke-width="0.95"/>
</g>
<text x="2894.9" y="552.5" font-size="14.5" fill="#000" class="s">γ</text>
<text x="2754.1" y="641.1" font-size="14.5" fill="#000" class="s">β</text>
<text x="2765.0" y="671.5" font-size="14.6" fill="#000">TPMTGE</text>
<text x="2750.6" y="686.6" font-size="9.7" fill="#111">glass electret, 208 K</text>
<text x="2894.0" y="691.8" font-size="9.5" fill="#000">(a)</text>
<rect x="2671.3" y="521.0" width="244.1" height="177.3" fill="none" stroke="#000" stroke-width="1.1"/>
<path d="M2744.1 698.3V694.5M2744.1 521.0V524.8M2829.8 698.3V694.5M2829.8 521.0V524.8" stroke="#000" stroke-width="0.9" fill="none"/>
<path d="M2701.2 698.3V696.1M2701.2 521.0V523.2M2786.9 698.3V696.1M2786.9 521.0V523.2M2872.7 698.3V696.1M2872.7 521.0V523.2" stroke="#000" stroke-width="0.9" fill="none"/>
<path d="M2671.3 544.3H2675.1M2915.4 544.3H2911.6M2671.3 678.0H2675.1M2915.4 678.0H2911.6" stroke="#000" stroke-width="0.9" fill="none"/>
<path d="M2671.3 637.8H2673.5M2915.4 637.8H2913.2M2671.3 614.2H2673.5M2915.4 614.2H2913.2M2671.3 597.5H2673.5M2915.4 597.5H2913.2M2671.3 584.5H2673.5M2915.4 584.5H2913.2M2671.3 574.0H2673.5M2915.4 574.0H2913.2M2671.3 565.0H2673.5M2915.4 565.0H2913.2M2671.3 557.3H2673.5M2915.4 557.3H2913.2M2671.3 550.4H2673.5M2915.4 550.4H2913.2M2671.3 691.0H2673.5M2915.4 691.0H2913.2M2671.3 684.1H2673.5M2915.4 684.1H2913.2" stroke="#000" stroke-width="0.9" fill="none"/>
<text x="2655.8" y="548.7" font-size="12.5" text-anchor="middle">10<tspan dy="-5.2" font-size="7.8">-1</tspan></text>
<text x="2655.8" y="682.4" font-size="12.5" text-anchor="middle">10<tspan dy="-5.2" font-size="7.8">-2</tspan></text>
<text x="2744.1" y="715.0" font-size="12.5" text-anchor="middle">10<tspan dy="-5.2" font-size="7.8">2</tspan></text>
<text x="2829.8" y="715.0" font-size="12.5" text-anchor="middle">10<tspan dy="-5.2" font-size="7.8">4</tspan></text>
<text x="2915.4" y="715.0" font-size="12.5" text-anchor="middle">10<tspan dy="-5.2" font-size="7.8">6</tspan></text>
<text x="2645.0" y="611.5" font-size="15" fill="#000" transform="rotate(-90 2645.0 611.5)" class="s">ε"</text>
<rect x="2828.7" y="602.1" width="79.7" height="52.2" fill="#fff" stroke="#000" stroke-width="0.8"/>
<text x="2832.7" y="611.4" font-size="8.9" fill="#111">lines: fits CC + CC</text>
<path d="M2832.7 621.7H2852.5" stroke="#ee1111" stroke-width="1.2"/>
<path d="M2832.7 634.8H2852.5" stroke="#1111dd" stroke-width="1.2" stroke-dasharray="3.2 2.6"/>
<path d="M2832.7 648.1H2852.5" stroke="#22dd22" stroke-width="1.2" stroke-dasharray="1.3 2.6"/>
<text x="2855.3" y="624.5" font-size="8.9" fill="#222"><tspan class="s" font-size="10">Δε</tspan> free</text>
<text x="2855.3" y="637.6" font-size="8.9" fill="#222"><tspan class="s" font-size="10">τ</tspan> free</text>
<text x="2855.3" y="650.9" font-size="8.9" fill="#222"><tspan class="s" font-size="10">τ</tspan> and <tspan class="s" font-size="10">α</tspan> free</text>
<rect x="2680.6" y="530.3" width="94.9" height="71.8" fill="#fff"/>
<g clip-path="url(#c4i)">
<path d="M2680.6 599.1C2681.6 598.5 2682.9 597.3 2686.2 595.4C2689.5 593.4 2695.7 589.7 2700.5 587.4C2705.2 585.1 2709.9 583.2 2714.7 581.6C2719.4 580.0 2724.2 579.8 2728.9 577.9C2733.6 576.0 2738.2 573.4 2742.9 570.2C2747.6 566.9 2752.1 563.2 2756.9 558.3C2761.6 553.4 2768.2 545.2 2771.3 540.6C2774.5 535.9 2775.2 532.2 2776.0 530.5" fill="none" stroke="#22dd22" stroke-width="1.1" stroke-dasharray="1.3 2.6"/>
<path d="M2680.6 599.3C2681.6 598.7 2682.9 597.5 2686.2 595.6C2689.5 593.7 2695.7 590.0 2700.5 587.7C2705.2 585.4 2709.9 583.7 2714.7 581.8C2719.4 580.0 2724.2 578.8 2728.9 576.5C2733.6 574.1 2738.2 571.3 2742.9 567.8C2747.6 564.4 2752.1 560.9 2756.9 556.0C2761.6 551.0 2768.2 542.6 2771.3 538.2C2774.5 533.9 2775.2 531.4 2776.0 530.1" fill="none" stroke="#1111dd" stroke-width="1.1" stroke-dasharray="3.2 2.6"/>
<path d="M2680.6 597.5C2681.6 596.8 2682.9 595.7 2686.2 593.7C2689.5 591.8 2695.7 588.1 2700.5 585.8C2705.2 583.5 2709.9 581.8 2714.7 580.0C2719.4 578.1 2724.2 576.8 2728.9 574.6C2733.6 572.4 2738.2 570.2 2742.9 566.9C2747.6 563.7 2752.1 560.0 2756.9 555.0C2761.6 550.1 2768.2 541.6 2771.3 537.3C2774.5 533.0 2775.2 530.5 2776.0 529.1" fill="none" stroke="#ee1111" stroke-width="1.1"/>
<circle cx="2686.2" cy="593.7" r="2.4" fill="none" stroke="#000" stroke-width="0.95"/>
<circle cx="2700.5" cy="585.8" r="2.4" fill="none" stroke="#000" stroke-width="0.95"/>
<circle cx="2714.7" cy="580.0" r="2.4" fill="none" stroke="#000" stroke-width="0.95"/>
<circle cx="2728.9" cy="574.6" r="2.4" fill="none" stroke="#000" stroke-width="0.95"/>
<circle cx="2742.9" cy="566.9" r="2.4" fill="none" stroke="#000" stroke-width="0.95"/>
<circle cx="2756.9" cy="555.0" r="2.4" fill="none" stroke="#000" stroke-width="0.95"/>
<circle cx="2771.3" cy="537.3" r="2.4" fill="none" stroke="#000" stroke-width="0.95"/>
</g>
<rect x="2680.6" y="530.3" width="94.9" height="71.8" fill="none" stroke="#000" stroke-width="1.0"/>
<path d="M2684.6 602.1V599.1M2684.6 530.3V533.3M2735.9 602.1V599.1M2735.9 530.3V533.3" stroke="#000" stroke-width="0.9" fill="none"/>
<path d="M2700.1 602.1V600.5M2700.1 530.3V531.9M2709.1 602.1V600.5M2709.1 530.3V531.9M2715.5 602.1V600.5M2715.5 530.3V531.9M2720.5 602.1V600.5M2720.5 530.3V531.9" stroke="#000" stroke-width="0.9" fill="none"/>
<path d="M2680.6 540.8H2683.6M2775.5 540.8H2772.5M2680.6 575.1H2683.6M2775.5 575.1H2772.5" stroke="#000" stroke-width="0.9" fill="none"/>
<path d="M2680.6 557.8H2682.2M2775.5 557.8H2773.9M2680.6 592.1H2682.2M2775.5 592.1H2773.9" stroke="#000" stroke-width="0.9" fill="none"/>
<text x="2779.5" y="544.2" font-size="9.6" fill="#000">0.04</text>
<text x="2779.5" y="578.5" font-size="9.6" fill="#000">0.03</text>
<text x="2685.1" y="616.1" font-size="9.6" text-anchor="middle">10<tspan dy="-4.0" font-size="6.0">2</tspan></text>
<text x="2736.4" y="616.1" font-size="9.6" text-anchor="middle">10<tspan dy="-4.0" font-size="6.0">3</tspan></text>
<g clip-path="url(#c4b)">
<path d="M2673.2 902.1C2674.7 900.1 2679.1 895.5 2682.3 890.4C2685.5 885.4 2689.0 877.1 2692.3 871.8C2695.6 866.4 2698.9 862.0 2702.3 858.2C2705.7 854.5 2709.2 851.7 2712.6 849.4C2716.0 847.0 2719.6 845.1 2722.6 844.0C2725.6 843.0 2727.5 843.0 2730.5 843.1C2733.5 843.1 2737.2 843.5 2740.6 844.2C2743.9 845.0 2747.2 846.8 2750.6 847.7C2754.0 848.7 2757.5 849.4 2760.9 849.8C2764.2 850.3 2767.5 850.7 2770.9 850.5C2774.2 850.3 2777.6 850.2 2780.9 848.7C2784.2 847.1 2787.6 843.9 2790.9 841.2C2794.3 838.5 2797.6 835.9 2801.0 832.6C2804.3 829.3 2807.8 825.4 2811.2 821.4C2814.6 817.4 2817.9 812.9 2821.2 808.6C2824.6 804.2 2827.9 799.6 2831.3 795.3C2834.6 791.0 2837.9 786.9 2841.3 782.9C2844.6 778.9 2848.0 774.8 2851.3 771.3C2854.7 767.8 2858.0 764.2 2861.3 761.9C2864.7 759.6 2868.0 759.1 2871.4 757.5C2874.7 755.9 2878.0 753.9 2881.4 752.4C2884.8 750.9 2888.3 749.5 2891.7 748.4C2895.0 747.4 2898.3 746.3 2901.7 746.1C2905.0 745.9 2909.3 746.7 2911.7 747.3C2914.1 747.8 2915.2 749.2 2915.9 749.6" fill="none" stroke="#22dd22" stroke-width="1.2" stroke-dasharray="1.3 2.6"/>
<path d="M2671.3 901.8C2672.8 899.9 2677.2 895.0 2680.4 890.2C2683.6 885.4 2687.1 878.2 2690.4 873.2C2693.8 868.1 2697.1 863.4 2700.5 859.6C2703.8 855.9 2707.3 853.1 2710.7 850.8C2714.1 848.4 2717.4 846.5 2720.7 845.4C2724.1 844.4 2727.2 844.7 2730.5 844.5C2733.8 844.2 2737.2 843.6 2740.6 844.0C2743.9 844.4 2747.2 846.0 2750.6 846.8C2754.0 847.6 2757.5 848.4 2760.9 848.9C2764.2 849.4 2767.5 849.8 2770.9 849.6C2774.2 849.4 2777.6 849.1 2780.9 847.7C2784.2 846.3 2787.6 843.7 2790.9 841.2C2794.3 838.7 2797.6 835.9 2801.0 832.6C2804.3 829.3 2807.8 825.4 2811.2 821.4C2814.6 817.4 2817.9 812.9 2821.2 808.6C2824.6 804.2 2827.9 799.6 2831.3 795.3C2834.6 791.0 2837.9 786.9 2841.3 782.9C2844.6 778.9 2848.0 774.8 2851.3 771.3C2854.7 767.8 2858.0 764.3 2861.3 761.9C2864.7 759.5 2868.0 758.5 2871.4 756.8C2874.7 755.1 2878.0 753.2 2881.4 751.7C2884.8 750.2 2888.3 748.8 2891.7 747.7C2895.0 746.7 2898.3 745.6 2901.7 745.4C2905.0 745.2 2909.3 746.0 2911.7 746.6C2914.1 747.1 2915.2 748.5 2915.9 748.9" fill="none" stroke="#1111dd" stroke-width="1.2" stroke-dasharray="3.2 2.6"/>
<path d="M2671.3 900.7C2672.8 898.7 2677.2 894.1 2680.4 889.0C2683.6 884.0 2687.1 875.7 2690.4 870.4C2693.8 865.0 2697.1 860.6 2700.5 856.8C2703.8 853.1 2707.3 850.3 2710.7 848.0C2714.1 845.6 2717.4 843.7 2720.7 842.6C2724.1 841.6 2727.2 841.6 2730.5 841.7C2733.8 841.7 2737.2 842.2 2740.6 842.8C2743.9 843.5 2747.2 844.8 2750.6 845.6C2754.0 846.5 2757.5 847.3 2760.9 847.7C2764.2 848.2 2767.5 848.6 2770.9 848.4C2774.2 848.2 2777.6 847.8 2780.9 846.6C2784.2 845.4 2787.6 843.5 2790.9 841.2C2794.3 838.9 2797.6 835.9 2801.0 832.6C2804.3 829.3 2807.8 825.4 2811.2 821.4C2814.6 817.4 2817.9 812.9 2821.2 808.6C2824.6 804.2 2827.9 799.6 2831.3 795.3C2834.6 791.0 2837.9 786.9 2841.3 782.9C2844.6 778.9 2848.0 774.8 2851.3 771.3C2854.7 767.8 2858.0 764.7 2861.3 761.9C2864.7 759.2 2868.0 756.8 2871.4 754.7C2874.7 752.7 2878.0 751.1 2881.4 749.6C2884.8 748.1 2888.3 746.7 2891.7 745.6C2895.0 744.6 2898.3 743.5 2901.7 743.3C2905.0 743.1 2909.3 743.9 2911.7 744.5C2914.1 745.0 2915.2 746.4 2915.9 746.8" fill="none" stroke="#ee1111" stroke-width="1.2"/>
<circle cx="2680.4" cy="889.0" r="2.4" fill="none" stroke="#000" stroke-width="0.95"/>
<circle cx="2690.4" cy="870.4" r="2.4" fill="none" stroke="#000" stroke-width="0.95"/>
<circle cx="2700.5" cy="856.8" r="2.4" fill="none" stroke="#000" stroke-width="0.95"/>
<circle cx="2710.7" cy="848.0" r="2.4" fill="none" stroke="#000" stroke-width="0.95"/>
<circle cx="2720.7" cy="842.6" r="2.4" fill="none" stroke="#000" stroke-width="0.95"/>
<circle cx="2730.5" cy="841.7" r="2.4" fill="none" stroke="#000" stroke-width="0.95"/>
<circle cx="2740.6" cy="842.8" r="2.4" fill="none" stroke="#000" stroke-width="0.95"/>
<circle cx="2750.6" cy="845.6" r="2.4" fill="none" stroke="#000" stroke-width="0.95"/>
<circle cx="2760.9" cy="847.7" r="2.4" fill="none" stroke="#000" stroke-width="0.95"/>
<circle cx="2770.9" cy="848.4" r="2.4" fill="none" stroke="#000" stroke-width="0.95"/>
<circle cx="2780.9" cy="846.6" r="2.4" fill="none" stroke="#000" stroke-width="0.95"/>
<circle cx="2790.9" cy="841.2" r="2.4" fill="none" stroke="#000" stroke-width="0.95"/>
<circle cx="2801.0" cy="832.6" r="2.4" fill="none" stroke="#000" stroke-width="0.95"/>
<circle cx="2811.2" cy="821.4" r="2.4" fill="none" stroke="#000" stroke-width="0.95"/>
<circle cx="2821.2" cy="808.6" r="2.4" fill="none" stroke="#000" stroke-width="0.95"/>
<circle cx="2831.3" cy="795.3" r="2.4" fill="none" stroke="#000" stroke-width="0.95"/>
<circle cx="2841.3" cy="782.9" r="2.4" fill="none" stroke="#000" stroke-width="0.95"/>
<circle cx="2851.3" cy="771.3" r="2.4" fill="none" stroke="#000" stroke-width="0.95"/>
<circle cx="2861.3" cy="761.9" r="2.4" fill="none" stroke="#000" stroke-width="0.95"/>
<circle cx="2871.4" cy="754.7" r="2.4" fill="none" stroke="#000" stroke-width="0.95"/>
<circle cx="2881.4" cy="749.6" r="2.4" fill="none" stroke="#000" stroke-width="0.95"/>
<circle cx="2891.7" cy="746.1" r="2.4" fill="none" stroke="#000" stroke-width="0.95"/>
<circle cx="2901.7" cy="744.5" r="2.4" fill="none" stroke="#000" stroke-width="0.95"/>
<circle cx="2911.7" cy="744.5" r="2.4" fill="none" stroke="#000" stroke-width="0.95"/>
</g>
<text x="2894.9" y="762.4" font-size="14.5" fill="#000" class="s">γ</text>
<text x="2726.1" y="861.6" font-size="14.5" fill="#000" class="s">β</text>
<text x="2769.2" y="877.5" font-size="14.8" fill="#000">DGEBA</text>
<text x="2750.6" y="892.6" font-size="9.7" fill="#111">glass electret, 183 K</text>
<text x="2894.0" y="897.0" font-size="9.5" fill="#000">(b)</text>
<rect x="2671.3" y="728.1" width="244.1" height="177.8" fill="none" stroke="#000" stroke-width="1.1"/>
<path d="M2696.7 905.9V902.1M2696.7 728.1V731.9M2769.6 905.9V902.1M2769.6 728.1V731.9M2842.5 905.9V902.1M2842.5 728.1V731.9" stroke="#000" stroke-width="0.9" fill="none"/>
<path d="M2733.1 905.9V903.7M2733.1 728.1V730.3M2806.0 905.9V903.7M2806.0 728.1V730.3M2878.9 905.9V903.7M2878.9 728.1V730.3" stroke="#000" stroke-width="0.9" fill="none"/>
<path d="M2671.3 753.1H2675.1M2915.4 753.1H2911.6M2671.3 899.6H2675.1M2915.4 899.6H2911.6" stroke="#000" stroke-width="0.9" fill="none"/>
<path d="M2671.3 855.5H2673.5M2915.4 855.5H2913.2M2671.3 829.7H2673.5M2915.4 829.7H2913.2M2671.3 811.4H2673.5M2915.4 811.4H2913.2M2671.3 797.2H2673.5M2915.4 797.2H2913.2M2671.3 785.6H2673.5M2915.4 785.6H2913.2M2671.3 775.8H2673.5M2915.4 775.8H2913.2M2671.3 767.3H2673.5M2915.4 767.3H2913.2M2671.3 759.8H2673.5M2915.4 759.8H2913.2" stroke="#000" stroke-width="0.9" fill="none"/>
<text x="2655.8" y="757.5" font-size="12.5" text-anchor="middle">10<tspan dy="-5.2" font-size="7.8">-1</tspan></text>
<text x="2655.8" y="904.0" font-size="12.5" text-anchor="middle">10<tspan dy="-5.2" font-size="7.8">-2</tspan></text>
<text x="2696.7" y="922.5" font-size="12.5" text-anchor="middle">10<tspan dy="-5.2" font-size="7.8">0</tspan></text>
<text x="2769.6" y="922.5" font-size="12.5" text-anchor="middle">10<tspan dy="-5.2" font-size="7.8">2</tspan></text>
<text x="2842.5" y="922.5" font-size="12.5" text-anchor="middle">10<tspan dy="-5.2" font-size="7.8">4</tspan></text>
<text x="2915.4" y="922.5" font-size="12.5" text-anchor="middle">10<tspan dy="-5.2" font-size="7.8">6</tspan></text>
<text x="2645.0" y="821.5" font-size="15" fill="#000" transform="rotate(-90 2645.0 821.5)" class="s">ε"</text>
<text x="2795" y="940.5" font-size="14.8" text-anchor="middle"><tspan class="s" font-size="14">ν</tspan> (Hz)</text>
<rect x="2680.6" y="737.5" width="94.9" height="85.6" fill="#fff"/>
<g clip-path="url(#c4j)">
<path d="M2680.6 811.4C2681.2 809.8 2681.7 806.4 2683.7 802.0C2685.7 797.7 2689.6 789.8 2692.5 785.0C2695.5 780.2 2698.4 775.6 2701.4 773.1C2704.3 770.7 2707.3 770.1 2710.3 770.3C2713.2 770.5 2716.0 772.5 2718.9 774.3C2721.8 776.1 2724.8 778.8 2727.7 781.3C2730.7 783.8 2733.5 787.0 2736.6 789.2C2739.7 791.4 2743.2 794.3 2746.4 794.3C2749.6 794.3 2752.8 792.4 2755.7 789.2C2758.6 786.0 2761.2 781.1 2763.9 775.2C2766.6 769.4 2770.0 759.7 2772.0 754.2C2774.1 748.8 2775.3 744.5 2776.0 742.6" fill="none" stroke="#22dd22" stroke-width="1.1" stroke-dasharray="1.3 2.6"/>
<path d="M2680.6 813.7C2681.7 812.4 2685.0 809.3 2686.9 806.0C2688.9 802.7 2690.1 797.8 2692.5 793.9C2694.9 789.9 2698.4 784.9 2701.4 782.2C2704.3 779.5 2707.3 778.0 2710.3 777.6C2713.2 777.1 2716.0 778.3 2718.9 779.4C2721.8 780.6 2724.8 782.8 2727.7 784.6C2730.7 786.3 2733.7 788.5 2736.6 789.7C2739.5 790.9 2742.4 792.1 2745.2 791.6C2748.1 791.0 2750.9 789.9 2753.9 786.4C2756.8 782.9 2759.8 777.0 2762.7 770.6C2765.6 764.1 2769.1 753.4 2771.3 747.7C2773.6 742.1 2775.2 738.6 2776.0 736.8" fill="none" stroke="#1111dd" stroke-width="1.1" stroke-dasharray="3.2 2.6"/>
<path d="M2680.6 810.2C2681.2 808.6 2681.7 805.3 2683.7 800.9C2685.7 796.4 2689.6 788.5 2692.5 783.6C2695.5 778.8 2698.4 774.2 2701.4 771.7C2704.3 769.3 2707.3 768.9 2710.3 768.9C2713.2 769.0 2716.0 770.7 2718.9 772.2C2721.8 773.7 2724.8 776.0 2727.7 778.0C2730.7 780.0 2733.7 782.5 2736.6 784.1C2739.5 785.6 2742.4 787.6 2745.2 787.4C2748.1 787.1 2750.9 785.9 2753.9 782.7C2756.8 779.5 2759.8 774.3 2762.7 768.2C2765.6 762.2 2769.1 752.0 2771.3 746.6C2773.6 741.1 2775.2 737.4 2776.0 735.6" fill="none" stroke="#ee1111" stroke-width="1.1"/>
<circle cx="2683.7" cy="800.9" r="2.4" fill="none" stroke="#000" stroke-width="0.95"/>
<circle cx="2692.5" cy="783.6" r="2.4" fill="none" stroke="#000" stroke-width="0.95"/>
<circle cx="2701.4" cy="771.7" r="2.4" fill="none" stroke="#000" stroke-width="0.95"/>
<circle cx="2710.3" cy="768.9" r="2.4" fill="none" stroke="#000" stroke-width="0.95"/>
<circle cx="2718.9" cy="772.2" r="2.4" fill="none" stroke="#000" stroke-width="0.95"/>
<circle cx="2727.7" cy="778.0" r="2.4" fill="none" stroke="#000" stroke-width="0.95"/>
<circle cx="2736.6" cy="782.2" r="2.4" fill="none" stroke="#000" stroke-width="0.95"/>
<circle cx="2745.2" cy="784.6" r="2.4" fill="none" stroke="#000" stroke-width="0.95"/>
<circle cx="2753.9" cy="780.1" r="2.4" fill="none" stroke="#000" stroke-width="0.95"/>
<circle cx="2762.7" cy="768.2" r="2.4" fill="none" stroke="#000" stroke-width="0.95"/>
<circle cx="2771.3" cy="746.6" r="2.4" fill="none" stroke="#000" stroke-width="0.95"/>
</g>
<rect x="2680.6" y="737.5" width="94.9" height="71.6" fill="none" stroke="#000" stroke-width="1.0"/>
<path d="M2712.1 809.1V806.1M2712.1 737.5V740.5M2744.1 809.1V806.1M2744.1 737.5V740.5" stroke="#000" stroke-width="0.9" fill="none"/>
<path d="M2680.6 767.3H2683.6M2775.5 767.3H2772.5M2680.6 797.4H2683.6M2775.5 797.4H2772.5" stroke="#000" stroke-width="0.9" fill="none"/>
<path d="M2680.6 752.4H2682.2M2775.5 752.4H2773.9M2680.6 782.2H2682.2M2775.5 782.2H2773.9" stroke="#000" stroke-width="0.9" fill="none"/>
<text x="2779.5" y="740.9" font-size="9.6" fill="#000">0.03</text>
<text x="2779.5" y="800.8" font-size="9.6" fill="#000">0.02</text>
<text x="2680.6" y="822.7" font-size="9.6" text-anchor="middle">10<tspan dy="-4.0" font-size="6.0">0</tspan></text>
<text x="2712.1" y="822.7" font-size="9.6" text-anchor="middle">10<tspan dy="-4.0" font-size="6.0">1</tspan></text>
<text x="2744.1" y="822.7" font-size="9.6" text-anchor="middle">10<tspan dy="-4.0" font-size="6.0">2</tspan></text>
<text x="2776.0" y="822.7" font-size="9.6" text-anchor="middle">10<tspan dy="-4.0" font-size="6.0">3</tspan></text>
</svg>
</body></html>
